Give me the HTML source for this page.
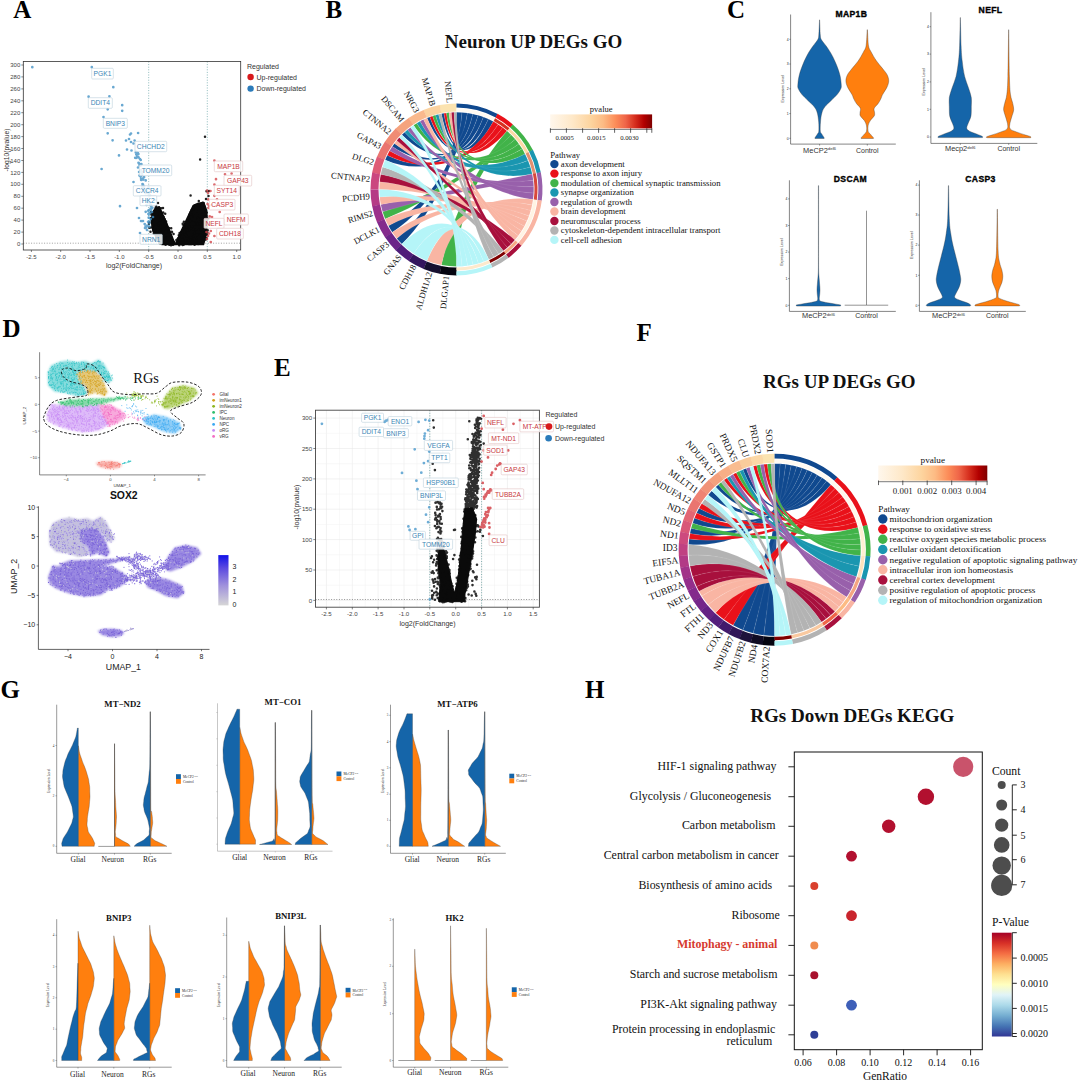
<!DOCTYPE html>
<html><head><meta charset="utf-8"><title>figure</title>
<style>
html,body{margin:0;padding:0;background:#fff;}
body{width:1080px;height:1082px;overflow:hidden;font-family:"Liberation Sans",sans-serif;}
svg{display:block}
.s{font-family:"Liberation Sans",sans-serif}
.r{font-family:"Liberation Serif",serif}
</style></head><body>
<svg width="1080" height="1082" viewBox="0 0 1080 1082">
<rect width="1080" height="1082" fill="#fff"/>
<line x1="148.7" y1="61.5" x2="148.7" y2="250" stroke="#5f9ea0" stroke-width="0.7" stroke-dasharray="1 1.6"/>
<line x1="207.3" y1="61.5" x2="207.3" y2="250" stroke="#5f9ea0" stroke-width="0.7" stroke-dasharray="1 1.6"/>
<line x1="23.3" y1="243.2" x2="240.7" y2="243.2" stroke="#777" stroke-width="0.7" stroke-dasharray="1 1.6"/>
<polygon points="175.1,244.5 170.4,232.3 165.1,219.6 159.3,206.8 155.9,207.5 152.5,212.6 151.3,220.7 153,231.3 158.1,240.2 161.9,244.5" fill="#0a0a0a" stroke="#0a0a0a" stroke-width="1.5" stroke-linejoin="round"/>
<polygon points="175.5,244.5 181,231.3 187,218.5 193.3,205.4 198.4,203.2 203.5,202.4 206.5,210 207.4,220.7 205.9,235.5 203.5,244.5" fill="#0a0a0a" stroke="#0a0a0a" stroke-width="1.5" stroke-linejoin="round"/>
<path d="M158.5 211.9h0M166.1 221.4h0M152.9 223.5h0M162.3 238.9h0M164.5 241.6h0M153.4 214.6h0M154.4 227.3h0M151.8 212.8h0M157.2 229.3h0M170.3 235.6h0M163.6 238.2h0M162.5 237.1h0M166 228.2h0M168.5 242.8h0M167.3 242.8h0M162.5 232.3h0M158.3 212.4h0M151.3 218.6h0M149.4 222.5h0M170.4 241.3h0M160.9 239.8h0M155.7 217.8h0M162.8 227.3h0M163.2 229.5h0M170.6 238.1h0M154.4 231h0M155.9 213.5h0M157.5 221.1h0M156.6 220.7h0M169.3 244.7h0M159.9 215.8h0M165.8 241.4h0M159.1 223.5h0M163.3 237.3h0M172.7 241.1h0M171.1 237h0M161.2 208.2h0M159.4 232.3h0M175.3 243.5h0M156.9 216.6h0M167.3 238.9h0M169.2 238.4h0M161.1 236.6h0M160.6 241.3h0M157.1 210.6h0M159.8 227.7h0M160.2 243.5h0M157.4 220.4h0M160.3 225.7h0M156.1 222h0M158.9 241.3h0M165.2 213.8h0M155 222.2h0M155.9 225.2h0M153.8 229.5h0M166.4 234.4h0M162.9 225.6h0M157.5 227.5h0M169.3 239.3h0M165.1 241.5h0M155.4 224.1h0M171.6 243.1h0M173.2 244.8h0M164.3 224.9h0M153.4 222.9h0M155.8 218.5h0M166.1 223.6h0M171.2 228.3h0M171.2 244.3h0M154 213.7h0M165.4 233.5h0M169.6 238.9h0M157.9 218.2h0M156.2 211.5h0M155.1 213.3h0M158.8 216.7h0M159.5 207.9h0M156.6 224.3h0M161.3 239.7h0M165.6 244.8h0M166.6 231.8h0M160.5 214.8h0M157.4 218h0M154.6 228.5h0M160.5 220.3h0M163.2 227.9h0M153.8 222h0M156.5 214.4h0M168.3 227.7h0M161.6 219h0M172 232h0M170.2 239.2h0M164.5 234.9h0M164 237.7h0M157.9 209.4h0M162.5 228.4h0M167.9 234.9h0M152.9 215.5h0M167 243.6h0M162.9 229.9h0M154.7 214.8h0M151.3 214.4h0M162.6 224.5h0M169.3 243.7h0M157.7 230.5h0M163.1 219.6h0M162 238.5h0M162.7 221.6h0M159.7 223.5h0M156 216.8h0M169.4 234.3h0M169 231.7h0M161.6 222.8h0M165.1 222.7h0M171.8 244.7h0M155.4 211h0M153.3 214.9h0M159.9 227.8h0M153.7 217.1h0M164.1 229.5h0M156 217.4h0M162.3 238.4h0M151 212.2h0M164.3 236.3h0M152.4 214.1h0M162.7 229.7h0M161.1 223.5h0M159.7 215.4h0M155.7 207.7h0M159.1 212.7h0M155.6 209.8h0M168.9 234.6h0M155.2 240h0M154.2 218.5h0M155.9 226.7h0M155.9 219.3h0M170.3 243.7h0M160.2 219.4h0M158.9 219.8h0M160.6 235.9h0M149.4 227.7h0M156.2 220.3h0M161.1 236.8h0M168.2 241.9h0M156.9 235.2h0M161.4 223.4h0M158.4 217.2h0M171.8 231.7h0M159 219.7h0M156 235.9h0M172.2 244.8h0M153 223.6h0M154.7 220.6h0M168.6 237.9h0M164.7 219.6h0M159.4 219.3h0M164.8 234.1h0M153.1 218.7h0M158.3 235.8h0M165.8 232h0M154.5 217.1h0M151 218.1h0M159.4 212.2h0M160.1 226.9h0M153.8 233.8h0M157.5 229.7h0M171 245.3h0M158 239.9h0M168.8 242.5h0M161 227.1h0M165.4 243.1h0M170.7 244.2h0M173.1 243.6h0M161.5 237.6h0M154.6 221.7h0M153.5 212.1h0M164.4 226.4h0M158.7 230h0M164.5 223.7h0M163.2 212.4h0M161.3 213.8h0M156 224.2h0M168.1 236.1h0M164.2 220.7h0M171.3 240.8h0M164 242.3h0M171.7 242.6h0M163.6 242.9h0M164.5 219.1h0M169.1 243.5h0M152.8 225.4h0M169.8 243.7h0M158.7 236h0M164 242.4h0M161.9 222.8h0M154.2 215.1h0M154.2 222.8h0M169.1 228.1h0M159.3 214h0M163.6 217h0M163.4 218.4h0M151.1 227.6h0M153.3 229.6h0M162.4 219.3h0M173.6 233.9h0M156.7 211.3h0M158 231.6h0M165 221h0M158.9 230.7h0M157.3 211.1h0M163.6 228.3h0M161.2 234.9h0M160.2 233.4h0M160 232.2h0M160 212.3h0M166.7 227.7h0M150.5 231.7h0M174.3 241.9h0M174 243.2h0M169.1 234.7h0M160.3 223h0M156.8 235h0M149 223.7h0M158.2 233h0M171.6 243.7h0M163.8 238.9h0M159.2 242.7h0M157.3 212.8h0M156.8 232.4h0M166.6 235.2h0M204.2 205.7h0M201.3 226.2h0M192.5 231.4h0M178.8 235.2h0M201.6 228.3h0M204.3 213.9h0M198.5 238.8h0M191.5 210.2h0M180.2 244h0M199.8 223.3h0M187.4 233.6h0M197.3 223.9h0M190.1 232.5h0M192.6 234.6h0M199 236.5h0M201.3 229.3h0M187.1 230h0M199.4 231.3h0M187.6 220.2h0M198.1 244.1h0M195.1 219.1h0M182.8 234.4h0M190 232.4h0M198 226.8h0M179.6 233.2h0M179 244.3h0M188 233h0M184.8 232.7h0M181.4 236.9h0M180.6 232.5h0M191.2 230.9h0M188.2 226.1h0M189.5 214.5h0M203 216.1h0M182.7 223.7h0M199.9 216h0M206.7 238.2h0M197.2 213.5h0M182.3 236h0M206.3 239.2h0M192.9 231.7h0M201.6 240.5h0M188.7 235.1h0M193.3 214.6h0M187.5 222.4h0M188.5 222.9h0M188.2 219.8h0M198.4 229.6h0M194.6 244.7h0M192.2 222.5h0M196.4 231.9h0M183.9 221.8h0M189.7 224.3h0M200.3 219.3h0M189.7 240.6h0M182.8 224.5h0M205.3 225.8h0M203 225.2h0M202.5 226.3h0M197.1 226.3h0M196.8 220.8h0M199.2 239.3h0M200.3 234.9h0M198.3 242.5h0M203.1 225.6h0M196.5 241.6h0M196.2 211.6h0M182.6 245.1h0M198.3 211.4h0M198.1 237.6h0M191.2 233.3h0M183.5 242.7h0M200.4 208.6h0M180.1 238.7h0M184.5 227.7h0M178.3 238h0M193 222.2h0M204.2 234.8h0M176.4 239.9h0M189.6 227.4h0M191 217.1h0M184.2 228.8h0M202.7 214.3h0M190.6 223.4h0M200 238.2h0M200.9 232.5h0M194.1 239h0M202.9 210.4h0M184.2 231.9h0M196.5 210.2h0M201.2 224.7h0M179.6 233.8h0M188.7 224.6h0M199.1 207.9h0M178 242.4h0M193.9 211.4h0M207.7 230.2h0M188.8 240.2h0M202.9 204h0M179.2 245.2h0M195 241h0M204.6 239.9h0M197.2 227.8h0M198.8 240.5h0M195.7 235.3h0M202.6 211.6h0M185.2 238.7h0M180 239.2h0M190.9 214.7h0M195.6 209h0M200.6 228.7h0M203.3 218.4h0M189.6 243.9h0M195.2 211.5h0M191.5 244h0M203.8 203.2h0M201.3 216.8h0M202.8 226.4h0M203.6 211.1h0M180.9 233.6h0M194.7 224.5h0M196 229.8h0M198.7 218.9h0M203.4 213.3h0M205.5 221.4h0M180.6 238.2h0M189.6 227.5h0M191.9 226.2h0M200.2 241.5h0M191.2 235.5h0M203.6 223h0M206.7 212.6h0M184.3 236.9h0M200.3 210.9h0M193.6 223.5h0M204.1 232.8h0M191 224.4h0M195.9 240.6h0M201.4 205.3h0M189.1 218.1h0M188.4 240.3h0M190.8 239.7h0M203.6 238.8h0M194.9 217.6h0M190.3 223.8h0M206.8 225.3h0M202.7 202.7h0M192.9 212.7h0M193.3 212.7h0M204.9 217.1h0M205.7 226.1h0M193.2 209.3h0M199.7 226.9h0M179.6 232.9h0M194.5 223.4h0M189.5 227.2h0M200.9 211.6h0M183.6 244.7h0M205 221.6h0M190.6 234.2h0M207 234.9h0M183.9 228.3h0M201.4 221h0M200.4 219.4h0M204.8 207.6h0M195 227.1h0M194.5 216.2h0M192.8 219h0M196.7 216.3h0M198.5 238.1h0M195.5 205.3h0M203.6 237.3h0M189.7 240.7h0M196.4 221.7h0M190.4 244.1h0M195.7 220.8h0M185.6 240.2h0M184.7 224.2h0M203.7 223.8h0M193.2 238.2h0M206.5 226.2h0M204.7 221.4h0M192.3 224.8h0M191.9 232.6h0M187.6 238.3h0M201.7 225.9h0M191.1 228.4h0M190.7 243.5h0M200.6 207.6h0M189.5 234.8h0M199.7 214.2h0M177.1 239.5h0M193.6 220h0M191.6 243.7h0M186.2 238.7h0M190 242.9h0M197 215.3h0M191 236.9h0M205.6 214.3h0M191.9 219h0M178.6 238.3h0M198.3 219.2h0M198.7 209h0M199.3 211.5h0M188.7 244.1h0M190.6 212.2h0M200.1 211.9h0M195.6 210.6h0M191.4 228.5h0M186.2 229.4h0M179.9 240.7h0M186.8 224.1h0M207.3 232.4h0M194.2 218.6h0M198.8 211.4h0M198.7 212.8h0M199.4 232.5h0M197.2 207.8h0M195.7 214.3h0M202 235.6h0M204.1 228.4h0M182.2 240.1h0M197.6 215.4h0M208.3 219h0M197.6 235.8h0M190 223.5h0M198.8 200.9h0M186.5 224.9h0M194.5 213.5h0M198.1 232h0M205 136.7h0M200.1 159.4h0M190.6 195.6h0M206.5 191.3h0M209 191h0M162 216h0M166 224h0M202 205h0M196 208h0M158 203h0M156 206h0M208.5 196h0M206 199h0M163 208h0M160 211h0" stroke="#0a0a0a" stroke-width="2.5" stroke-linecap="round" fill="none" opacity="0.9"/>
<path d="M32.3 67.2h0M91.8 67.2h0M113.3 87.2h0M88.6 96.7h0M109.4 96.3h0M122.2 105.2h0M122.2 110.8h0M107.7 109.3h0M103.5 117.1h0M107.7 133.3h0M112.6 140.3h0M119 155.4h0M101.6 169h0M120 206.2h0M138.1 133h0M131 133.5h0M130 134.5h0M129 139h0M126 140.5h0M131 142h0M133.5 143.5h0M134.6 140.5h0M127 149.5h0M131.5 150.5h0M136.3 157.8h0M135.8 152.6h0M135.2 157.8h0M136.1 151.6h0M137.8 152.9h0M136.7 154.3h0M138.4 154.1h0M136.7 152h0M136.3 154.4h0M139 163.4h0M140.7 160h0M137.2 156.6h0M140.6 165.6h0M139.6 165.2h0M140 159h0M141.4 164.2h0M138.5 162.8h0M138.5 157.4h0M141.3 172.3h0M142.1 174.4h0M142.5 172.1h0M141.7 173.2h0M139.1 172h0M141.1 170h0M138 167.5h0M140.3 171.4h0M139.5 175.6h0M141.1 178.8h0M141.3 175.7h0M142.8 178.5h0M140.6 176.6h0M145.7 180.4h0M143.2 179.6h0M140.9 176.2h0M141.2 179.9h0M144.1 177.1h0M143 184.7h0M144.1 186.8h0M142.5 184.1h0M148.6 187.2h0M148.1 188.3h0M147.7 188.5h0M144.2 188.1h0M143.6 188.9h0M142.1 186.7h0M147 191.3h0M148.9 194.2h0M145.3 191.6h0M145.6 193.2h0M147.7 192.9h0M149.5 195.9h0M148.1 192.3h0M144.5 191.4h0M145.7 190.7h0M148 202.3h0M149.9 202.4h0M146.5 205h0M152.4 207.8h0M151.1 206.2h0M150.3 204.9h0M149.1 210.1h0M150.1 212.8h0M151.1 209.8h0M148.2 210.7h0M150.7 208.6h0M145.7 211.8h0M149.4 223.1h0M148.9 214.5h0M149.3 221.6h0M150.7 219.1h0M148.4 213.9h0M148.7 217.7h0M145.6 226.5h0M144.7 224.1h0M147.1 225.7h0M148.1 221.8h0M146.3 227.5h0M149.3 226.7h0M133.5 182h0M137 208h0M139 218h0M141 221h0M143 221h0M145 228h0M147 230h0M140 233h0M152 212h0M151 205h0M153 217h0M150 195h0M155 200h0" stroke="#3f8fc4" stroke-width="2.7" stroke-linecap="round" fill="none" opacity="0.78"/>
<path d="M214.4 160.5h0M225 174.3h0M231.6 173.5h0M216 179.2h0M214.4 184.5h0M214.4 195.8h0M217 199.4h0M208.2 199.4h0M219.7 212h0M207.6 204h0M209 206h0M211.5 205h0M208.5 208h0M209.7 216.4h0M212 217h0M206.5 232h0M208 236h0M210.8 242h0M214.4 236h0M210.8 231h0M207 239h0M209 233.5h0M207 190.5h0M208 193h0M210.5 191h0" stroke="#d4494e" stroke-width="2.7" stroke-linecap="round" fill="none" opacity="0.8"/>
<rect x="23.3" y="61.5" width="217.4" height="188.5" fill="none" stroke="#333" stroke-width="0.8"/>
<line x1="21.3" y1="244" x2="23.3" y2="244" stroke="#333" stroke-width="0.6"/>
<text x="20.3" y="246.1" class="s" font-size="6" fill="#444" text-anchor="end" >0</text>
<line x1="21.3" y1="232.1" x2="23.3" y2="232.1" stroke="#333" stroke-width="0.6"/>
<text x="20.3" y="234.2" class="s" font-size="6" fill="#444" text-anchor="end" >20</text>
<line x1="21.3" y1="220.1" x2="23.3" y2="220.1" stroke="#333" stroke-width="0.6"/>
<text x="20.3" y="222.2" class="s" font-size="6" fill="#444" text-anchor="end" >40</text>
<line x1="21.3" y1="208.2" x2="23.3" y2="208.2" stroke="#333" stroke-width="0.6"/>
<text x="20.3" y="210.3" class="s" font-size="6" fill="#444" text-anchor="end" >60</text>
<line x1="21.3" y1="196.3" x2="23.3" y2="196.3" stroke="#333" stroke-width="0.6"/>
<text x="20.3" y="198.4" class="s" font-size="6" fill="#444" text-anchor="end" >80</text>
<line x1="21.3" y1="184.3" x2="23.3" y2="184.3" stroke="#333" stroke-width="0.6"/>
<text x="20.3" y="186.4" class="s" font-size="6" fill="#444" text-anchor="end" >100</text>
<line x1="21.3" y1="172.4" x2="23.3" y2="172.4" stroke="#333" stroke-width="0.6"/>
<text x="20.3" y="174.5" class="s" font-size="6" fill="#444" text-anchor="end" >120</text>
<line x1="21.3" y1="160.5" x2="23.3" y2="160.5" stroke="#333" stroke-width="0.6"/>
<text x="20.3" y="162.6" class="s" font-size="6" fill="#444" text-anchor="end" >140</text>
<line x1="21.3" y1="148.5" x2="23.3" y2="148.5" stroke="#333" stroke-width="0.6"/>
<text x="20.3" y="150.6" class="s" font-size="6" fill="#444" text-anchor="end" >160</text>
<line x1="21.3" y1="136.6" x2="23.3" y2="136.6" stroke="#333" stroke-width="0.6"/>
<text x="20.3" y="138.7" class="s" font-size="6" fill="#444" text-anchor="end" >180</text>
<line x1="21.3" y1="124.7" x2="23.3" y2="124.7" stroke="#333" stroke-width="0.6"/>
<text x="20.3" y="126.8" class="s" font-size="6" fill="#444" text-anchor="end" >200</text>
<line x1="21.3" y1="112.7" x2="23.3" y2="112.7" stroke="#333" stroke-width="0.6"/>
<text x="20.3" y="114.8" class="s" font-size="6" fill="#444" text-anchor="end" >220</text>
<line x1="21.3" y1="100.8" x2="23.3" y2="100.8" stroke="#333" stroke-width="0.6"/>
<text x="20.3" y="102.9" class="s" font-size="6" fill="#444" text-anchor="end" >240</text>
<line x1="21.3" y1="88.9" x2="23.3" y2="88.9" stroke="#333" stroke-width="0.6"/>
<text x="20.3" y="91" class="s" font-size="6" fill="#444" text-anchor="end" >260</text>
<line x1="21.3" y1="76.9" x2="23.3" y2="76.9" stroke="#333" stroke-width="0.6"/>
<text x="20.3" y="79" class="s" font-size="6" fill="#444" text-anchor="end" >280</text>
<line x1="21.3" y1="65" x2="23.3" y2="65" stroke="#333" stroke-width="0.6"/>
<text x="20.3" y="67.1" class="s" font-size="6" fill="#444" text-anchor="end" >300</text>
<line x1="31.4" y1="250" x2="31.4" y2="252" stroke="#333" stroke-width="0.6"/>
<text x="31.4" y="258.5" class="s" font-size="6" fill="#444" text-anchor="middle" >-2.5</text>
<line x1="60.7" y1="250" x2="60.7" y2="252" stroke="#333" stroke-width="0.6"/>
<text x="60.7" y="258.5" class="s" font-size="6" fill="#444" text-anchor="middle" >-2.0</text>
<line x1="90" y1="250" x2="90" y2="252" stroke="#333" stroke-width="0.6"/>
<text x="90" y="258.5" class="s" font-size="6" fill="#444" text-anchor="middle" >-1.5</text>
<line x1="119.3" y1="250" x2="119.3" y2="252" stroke="#333" stroke-width="0.6"/>
<text x="119.3" y="258.5" class="s" font-size="6" fill="#444" text-anchor="middle" >-1.0</text>
<line x1="148.7" y1="250" x2="148.7" y2="252" stroke="#333" stroke-width="0.6"/>
<text x="148.7" y="258.5" class="s" font-size="6" fill="#444" text-anchor="middle" >-0.5</text>
<line x1="178" y1="250" x2="178" y2="252" stroke="#333" stroke-width="0.6"/>
<text x="178" y="258.5" class="s" font-size="6" fill="#444" text-anchor="middle" >0.0</text>
<line x1="207.3" y1="250" x2="207.3" y2="252" stroke="#333" stroke-width="0.6"/>
<text x="207.3" y="258.5" class="s" font-size="6" fill="#444" text-anchor="middle" >0.5</text>
<line x1="236.7" y1="250" x2="236.7" y2="252" stroke="#333" stroke-width="0.6"/>
<text x="236.7" y="258.5" class="s" font-size="6" fill="#444" text-anchor="middle" >1.0</text>
<text x="134" y="268" class="s" font-size="7" fill="#333" text-anchor="middle" >log2(FoldChange)</text>
<text transform="translate(8.6,150) rotate(-90)" class="s" font-size="6.7" fill="#333" text-anchor="middle">-log10(pvalue)</text>
<text x="247" y="68.5" class="s" font-size="7" fill="#333" >Regulated</text>
<circle cx="250.6" cy="77" r="3.2" fill="#d7191c"/>
<text x="256.5" y="79.5" class="s" font-size="7" fill="#333" >Up-regulated</text>
<circle cx="250.6" cy="88.6" r="3.2" fill="#2b7bba"/>
<text x="256.5" y="91.2" class="s" font-size="7" fill="#333" >Down-regulated</text>
<rect x="91.7" y="68.3" width="21.6" height="10.7" rx="1" fill="#fff" fill-opacity="0.85" stroke="#bcd0dc" stroke-width="0.6"/>
<text x="102.5" y="76.1" class="s" font-size="6.7" fill="#3b86b5" text-anchor="middle" >PGK1</text>
<rect x="88.3" y="97.7" width="24" height="10.6" rx="1" fill="#fff" fill-opacity="0.85" stroke="#bcd0dc" stroke-width="0.6"/>
<text x="100.3" y="105.4" class="s" font-size="6.7" fill="#3b86b5" text-anchor="middle" >DDIT4</text>
<rect x="103.3" y="118.3" width="24" height="10" rx="1" fill="#fff" fill-opacity="0.85" stroke="#bcd0dc" stroke-width="0.6"/>
<text x="115.3" y="125.7" class="s" font-size="6.7" fill="#3b86b5" text-anchor="middle" >BNIP3</text>
<rect x="135" y="141.3" width="31.7" height="10.4" rx="1" fill="#fff" fill-opacity="0.85" stroke="#bcd0dc" stroke-width="0.6"/>
<text x="150.8" y="148.9" class="s" font-size="6.7" fill="#3b86b5" text-anchor="middle" >CHCHD2</text>
<rect x="139.3" y="165" width="32.4" height="10.7" rx="1" fill="#fff" fill-opacity="0.85" stroke="#bcd0dc" stroke-width="0.6"/>
<text x="155.5" y="172.8" class="s" font-size="6.7" fill="#3b86b5" text-anchor="middle" >TOMM20</text>
<rect x="133.3" y="185.7" width="27.7" height="10.3" rx="1" fill="#fff" fill-opacity="0.85" stroke="#bcd0dc" stroke-width="0.6"/>
<text x="147.2" y="193.3" class="s" font-size="6.7" fill="#3b86b5" text-anchor="middle" >CXCR4</text>
<rect x="140" y="195.7" width="16.7" height="10" rx="1" fill="#fff" fill-opacity="0.85" stroke="#bcd0dc" stroke-width="0.6"/>
<text x="148.3" y="203.1" class="s" font-size="6.7" fill="#3b86b5" text-anchor="middle" >HK2</text>
<rect x="140" y="234.3" width="22.3" height="10" rx="1" fill="#fff" fill-opacity="0.85" stroke="#bcd0dc" stroke-width="0.6"/>
<text x="151.2" y="241.7" class="s" font-size="6.7" fill="#3b86b5" text-anchor="middle" >NRN1</text>
<rect x="214.3" y="161" width="28.4" height="10.7" rx="1" fill="#fff" fill-opacity="0.85" stroke="#e3c3c3" stroke-width="0.6"/>
<text x="228.5" y="168.8" class="s" font-size="6.7" fill="#c8373e" text-anchor="middle" >MAP1B</text>
<rect x="224" y="175.3" width="27.7" height="10.7" rx="1" fill="#fff" fill-opacity="0.85" stroke="#e3c3c3" stroke-width="0.6"/>
<text x="237.8" y="183.1" class="s" font-size="6.7" fill="#c8373e" text-anchor="middle" >GAP43</text>
<rect x="214.3" y="185.3" width="25" height="10.4" rx="1" fill="#fff" fill-opacity="0.85" stroke="#e3c3c3" stroke-width="0.6"/>
<text x="226.8" y="192.9" class="s" font-size="6.7" fill="#c8373e" text-anchor="middle" >SYT14</text>
<rect x="209.3" y="199.3" width="25.7" height="10.7" rx="1" fill="#fff" fill-opacity="0.85" stroke="#e3c3c3" stroke-width="0.6"/>
<text x="222.2" y="207.1" class="s" font-size="6.7" fill="#c8373e" text-anchor="middle" >CASP3</text>
<rect x="224" y="214" width="24.3" height="11" rx="1" fill="#fff" fill-opacity="0.85" stroke="#e3c3c3" stroke-width="0.6"/>
<text x="236.2" y="221.9" class="s" font-size="6.7" fill="#c8373e" text-anchor="middle" >NEFM</text>
<rect x="204" y="218.3" width="20" height="10" rx="1" fill="#fff" fill-opacity="0.85" stroke="#e3c3c3" stroke-width="0.6"/>
<text x="214" y="225.7" class="s" font-size="6.7" fill="#c8373e" text-anchor="middle" >NEFL</text>
<rect x="216.7" y="228.3" width="26.6" height="10.7" rx="1" fill="#fff" fill-opacity="0.85" stroke="#e3c3c3" stroke-width="0.6"/>
<text x="230" y="236.1" class="s" font-size="6.7" fill="#c8373e" text-anchor="middle" >CDH18</text>
<text x="533.5" y="48" class="r" font-size="19" fill="#111" text-anchor="middle" font-weight="bold" >Neuron UP DEGs GO</text>
<path d="M456.5 112.2A77.2 77.2 0 0 1 462 112.4C458.7 158.6 434.7 211.2 401.9 244A77.2 77.2 0 0 1 396.8 238.4C432.6 209 456.5 158.5 456.5 112.2Z" fill="#10498f" stroke="#fff" stroke-width="0.2" stroke-opacity="0.4"/>
<path d="M462 112.4A77.2 77.2 0 0 1 467.4 113C460.9 158.8 430.8 206.6 392.3 232.3A77.2 77.2 0 0 1 388.4 225.8C429.3 204 458.7 158.6 462 112.4Z" fill="#10498f" stroke="#fff" stroke-width="0.2" stroke-opacity="0.4"/>
<path d="M467.4 113A77.2 77.2 0 0 1 472.8 113.9C463 159.2 428 177.6 385.2 159.9A77.2 77.2 0 0 1 387.3 155.3C428.8 175.7 460.9 158.8 467.4 113Z" fill="#10498f" stroke="#fff" stroke-width="0.2" stroke-opacity="0.4"/>
<path d="M472.8 113.9A77.2 77.2 0 0 1 478.1 115.3C465.2 159.8 430.8 172.2 392.3 146.5A77.2 77.2 0 0 1 394.5 143.4C431.7 171 463 159.2 472.8 113.9Z" fill="#10498f" stroke="#fff" stroke-width="0.2" stroke-opacity="0.4"/>
<path d="M478.1 115.3A77.2 77.2 0 0 1 483.4 117C467.2 160.4 434.7 167.6 401.9 134.8A77.2 77.2 0 0 1 404.7 132.2C435.8 166.5 465.2 159.8 478.1 115.3Z" fill="#10498f" stroke="#fff" stroke-width="0.2" stroke-opacity="0.4"/>
<path d="M483.4 117A77.2 77.2 0 0 1 488.4 119.1C469.3 161.3 444.7 160.9 427 118.1A77.2 77.2 0 0 1 429.8 117C445.8 160.4 467.2 160.4 483.4 117Z" fill="#10498f" stroke="#fff" stroke-width="0.2" stroke-opacity="0.4"/>
<path d="M488.4 119.1A77.2 77.2 0 0 1 493.3 121.6C471.2 162.3 450.5 159.1 441.4 113.7A77.2 77.2 0 0 1 443.9 113.2C451.5 158.9 469.3 161.3 488.4 119.1Z" fill="#10498f" stroke="#fff" stroke-width="0.2" stroke-opacity="0.4"/>
<path d="M493.3 121.6A77.2 77.2 0 0 1 498.1 124.4C473.2 163.4 428.8 175.7 387.3 155.3A77.2 77.2 0 0 1 389.6 150.8C429.8 174 471.2 162.3 493.3 121.6Z" fill="#e9111a" stroke="#fff" stroke-width="0.2" stroke-opacity="0.4"/>
<path d="M498.1 124.4A77.2 77.2 0 0 1 502.7 127.6C475 164.7 445.8 160.4 429.8 117A77.2 77.2 0 0 1 432.6 116C447 160 473.2 163.4 498.1 124.4Z" fill="#e9111a" stroke="#fff" stroke-width="0.2" stroke-opacity="0.4"/>
<path d="M502.7 127.6A77.2 77.2 0 0 1 507 131C476.7 166.1 451.5 158.9 443.9 113.2A77.2 77.2 0 0 1 446.4 112.9C452.5 158.8 475 164.7 502.7 127.6Z" fill="#e9111a" stroke="#fff" stroke-width="0.2" stroke-opacity="0.4"/>
<path d="M507 131A77.2 77.2 0 0 1 511.3 135C478.4 167.7 456.5 220.3 456.5 266.6A77.2 77.2 0 0 1 441.4 265.1C450.5 219.7 476.7 166.1 507 131Z" fill="#41b349" stroke="#fff" stroke-width="0.2" stroke-opacity="0.4"/>
<path d="M511.3 135A77.2 77.2 0 0 1 515.3 139.3C480 169.4 428 201.2 385.2 218.9A77.2 77.2 0 0 1 382.6 211.8C426.9 198.4 478.4 167.7 511.3 135Z" fill="#41b349" stroke="#fff" stroke-width="0.2" stroke-opacity="0.4"/>
<path d="M515.3 139.3A77.2 77.2 0 0 1 518.9 143.9C481.5 171.2 439.3 163.7 413.6 125.2A77.2 77.2 0 0 1 416.8 123.2C440.6 162.9 480 169.4 515.3 139.3Z" fill="#41b349" stroke="#fff" stroke-width="0.2" stroke-opacity="0.4"/>
<path d="M518.9 143.9A77.2 77.2 0 0 1 522.2 148.8C482.8 173.2 447 160 432.6 116A77.2 77.2 0 0 1 435.5 115.1C448.1 159.7 481.5 171.2 518.9 143.9Z" fill="#41b349" stroke="#fff" stroke-width="0.2" stroke-opacity="0.4"/>
<path d="M522.2 148.8A77.2 77.2 0 0 1 525 153.9C483.9 175.2 452.5 158.8 446.4 112.9A77.2 77.2 0 0 1 448.9 112.6C453.5 158.7 482.8 173.2 522.2 148.8Z" fill="#41b349" stroke="#fff" stroke-width="0.2" stroke-opacity="0.4"/>
<path d="M525 153.9A77.2 77.2 0 0 1 528 160.4C485.1 177.8 435.8 166.5 404.7 132.2A77.2 77.2 0 0 1 407.5 129.7C436.9 165.5 483.9 175.2 525 153.9Z" fill="#1a96b0" stroke="#fff" stroke-width="0.2" stroke-opacity="0.4"/>
<path d="M528 160.4A77.2 77.2 0 0 1 530.4 167.1C486.1 180.5 440.6 162.9 416.8 123.2A77.2 77.2 0 0 1 420.1 121.3C441.9 162.2 485.1 177.8 528 160.4Z" fill="#1a96b0" stroke="#fff" stroke-width="0.2" stroke-opacity="0.4"/>
<path d="M530.4 167.1A77.2 77.2 0 0 1 532.2 174C486.8 183.2 448.1 159.7 435.5 115.1A77.2 77.2 0 0 1 438.5 114.3C449.3 159.4 486.1 180.5 530.4 167.1Z" fill="#1a96b0" stroke="#fff" stroke-width="0.2" stroke-opacity="0.4"/>
<path d="M532.2 174A77.2 77.2 0 0 1 533.2 180.3C487.2 185.8 426.9 198.4 382.6 211.8A77.2 77.2 0 0 1 380.8 204.5C426.2 195.4 486.8 183.2 532.2 174Z" fill="#9860ab" stroke="#fff" stroke-width="0.2" stroke-opacity="0.4"/>
<path d="M533.2 180.3A77.2 77.2 0 0 1 533.7 186.7C487.4 188.3 429.8 174 389.6 150.8A77.2 77.2 0 0 1 392.3 146.5C430.8 172.2 487.2 185.8 533.2 180.3Z" fill="#9860ab" stroke="#fff" stroke-width="0.2" stroke-opacity="0.4"/>
<path d="M533.7 186.7A77.2 77.2 0 0 1 533.6 193.1C487.3 190.9 436.9 165.5 407.5 129.7A77.2 77.2 0 0 1 410.5 127.4C438.1 164.6 487.4 188.3 533.7 186.7Z" fill="#9860ab" stroke="#fff" stroke-width="0.2" stroke-opacity="0.4"/>
<path d="M533.6 193.1A77.2 77.2 0 0 1 533 199.5C487.1 193.4 441.9 162.2 420.1 121.3A77.2 77.2 0 0 1 423.5 119.6C443.3 161.5 487.3 190.9 533.6 193.1Z" fill="#9860ab" stroke="#fff" stroke-width="0.2" stroke-opacity="0.4"/>
<path d="M533 199.5A77.2 77.2 0 0 1 532.1 205C486.7 195.7 450.5 219.7 441.4 265.1A77.2 77.2 0 0 1 427 260.7C444.7 217.9 487.1 193.4 533 199.5Z" fill="#f9b5a3" stroke="#fff" stroke-width="0.2" stroke-opacity="0.4"/>
<path d="M532.1 205A77.2 77.2 0 0 1 530.8 210.5C486.2 197.8 432.6 209 396.8 238.4A77.2 77.2 0 0 1 392.3 232.3C430.8 206.6 486.7 195.7 532.1 205Z" fill="#f9b5a3" stroke="#fff" stroke-width="0.2" stroke-opacity="0.4"/>
<path d="M530.8 210.5A77.2 77.2 0 0 1 529 215.9C485.5 200 429.3 204 388.4 225.8A77.2 77.2 0 0 1 385.2 218.9C428 201.2 486.2 197.8 530.8 210.5Z" fill="#f9b5a3" stroke="#fff" stroke-width="0.2" stroke-opacity="0.4"/>
<path d="M529 215.9A77.2 77.2 0 0 1 526.9 221.1C484.7 202.1 426.2 195.4 380.8 204.5A77.2 77.2 0 0 1 379.7 197C425.8 192.4 485.5 200 529 215.9Z" fill="#f9b5a3" stroke="#fff" stroke-width="0.2" stroke-opacity="0.4"/>
<path d="M526.9 221.1A77.2 77.2 0 0 1 524.4 226.2C483.7 204.1 425.6 189.4 379.3 189.4A77.2 77.2 0 0 1 379.7 181.8C425.8 186.4 484.7 202.1 526.9 221.1Z" fill="#f9b5a3" stroke="#fff" stroke-width="0.2" stroke-opacity="0.4"/>
<path d="M524.4 226.2A77.2 77.2 0 0 1 521.5 231C482.5 206 431.7 171 394.5 143.4A77.2 77.2 0 0 1 396.8 140.4C432.6 169.8 483.7 204.1 524.4 226.2Z" fill="#f9b5a3" stroke="#fff" stroke-width="0.2" stroke-opacity="0.4"/>
<path d="M521.5 231A77.2 77.2 0 0 1 518.3 235.7C481.2 207.9 443.3 161.5 423.5 119.6A77.2 77.2 0 0 1 427 118.1C444.7 160.9 482.5 206 521.5 231Z" fill="#f9b5a3" stroke="#fff" stroke-width="0.2" stroke-opacity="0.4"/>
<path d="M518.3 235.7A77.2 77.2 0 0 1 514.8 240C479.8 209.7 453.5 158.7 448.9 112.6A77.2 77.2 0 0 1 451.5 112.4C454.5 158.6 481.2 207.9 518.3 235.7Z" fill="#f9b5a3" stroke="#fff" stroke-width="0.2" stroke-opacity="0.4"/>
<path d="M514.8 240A77.2 77.2 0 0 1 511.2 243.9C478.4 211.2 425.8 186.4 379.7 181.8A77.2 77.2 0 0 1 380.8 174.3C426.2 183.4 479.8 209.7 514.8 240Z" fill="#a8103d" stroke="#fff" stroke-width="0.2" stroke-opacity="0.4"/>
<path d="M511.2 243.9A77.2 77.2 0 0 1 507.4 247.5C476.8 212.6 432.6 169.8 396.8 140.4A77.2 77.2 0 0 1 399.3 137.6C433.6 168.7 478.4 211.2 511.2 243.9Z" fill="#a8103d" stroke="#fff" stroke-width="0.2" stroke-opacity="0.4"/>
<path d="M507.4 247.5A77.2 77.2 0 0 1 503.3 250.8C475.2 214 454.5 158.6 451.5 112.4A77.2 77.2 0 0 1 454 112.2C455.5 158.5 476.8 212.6 507.4 247.5Z" fill="#a8103d" stroke="#fff" stroke-width="0.2" stroke-opacity="0.4"/>
<path d="M503.3 250.8A77.2 77.2 0 0 1 498.7 254.1C473.4 215.3 426.2 183.4 380.8 174.3A77.2 77.2 0 0 1 382.6 167C426.9 180.4 475.2 214 503.3 250.8Z" fill="#b3b3b3" stroke="#fff" stroke-width="0.2" stroke-opacity="0.4"/>
<path d="M498.7 254.1A77.2 77.2 0 0 1 493.8 257C471.4 216.4 449.3 159.4 438.5 114.3A77.2 77.2 0 0 1 441.4 113.7C450.5 159.1 473.4 215.3 498.7 254.1Z" fill="#b3b3b3" stroke="#fff" stroke-width="0.2" stroke-opacity="0.4"/>
<path d="M493.8 257A77.2 77.2 0 0 1 488.8 259.5C469.4 217.5 455.5 158.5 454 112.2A77.2 77.2 0 0 1 456.5 112.2C456.5 158.5 471.4 216.4 493.8 257Z" fill="#b3b3b3" stroke="#fff" stroke-width="0.2" stroke-opacity="0.4"/>
<path d="M488.8 259.5A77.2 77.2 0 0 1 483.6 261.7C467.4 218.3 444.7 217.9 427 260.7A77.2 77.2 0 0 1 413.6 253.6C439.3 215.1 469.4 217.5 488.8 259.5Z" fill="#b5f5f8" stroke="#fff" stroke-width="0.2" stroke-opacity="0.4"/>
<path d="M483.6 261.7A77.2 77.2 0 0 1 478.4 263.4C465.3 219 439.3 215.1 413.6 253.6A77.2 77.2 0 0 1 401.9 244C434.7 211.2 467.4 218.3 483.6 261.7Z" fill="#b5f5f8" stroke="#fff" stroke-width="0.2" stroke-opacity="0.4"/>
<path d="M478.4 263.4A77.2 77.2 0 0 1 473 264.8C463.1 219.6 425.8 192.4 379.7 197A77.2 77.2 0 0 1 379.3 189.4C425.6 189.4 465.3 219 478.4 263.4Z" fill="#b5f5f8" stroke="#fff" stroke-width="0.2" stroke-opacity="0.4"/>
<path d="M473 264.8A77.2 77.2 0 0 1 467.6 265.8C460.9 220 426.9 180.4 382.6 167A77.2 77.2 0 0 1 385.2 159.9C428 177.6 463.1 219.6 473 264.8Z" fill="#b5f5f8" stroke="#fff" stroke-width="0.2" stroke-opacity="0.4"/>
<path d="M467.6 265.8A77.2 77.2 0 0 1 462 266.4C458.7 220.2 433.6 168.7 399.3 137.6A77.2 77.2 0 0 1 401.9 134.8C434.7 167.6 460.9 220 467.6 265.8Z" fill="#b5f5f8" stroke="#fff" stroke-width="0.2" stroke-opacity="0.4"/>
<path d="M462 266.4A77.2 77.2 0 0 1 456.5 266.6C456.5 220.3 438.1 164.6 410.5 127.4A77.2 77.2 0 0 1 413.6 125.2C439.3 163.7 458.7 220.2 462 266.4Z" fill="#b5f5f8" stroke="#fff" stroke-width="0.2" stroke-opacity="0.4"/>
<path d="M439.5 105.1A86 86 0 0 1 456.5 103.4L456.5 111.4A78 78 0 0 0 441.1 112.9Z" fill="#fbe3b0"/>
<path d="M423.4 110A86 86 0 0 1 439.7 105.1L441.3 112.9A78 78 0 0 0 426.5 117.4Z" fill="#fbd2a0"/>
<path d="M408.5 118A86 86 0 0 1 423.6 109.9L426.7 117.3A78 78 0 0 0 413 124.7Z" fill="#f9b98d"/>
<path d="M395.5 128.7A86 86 0 0 1 408.7 117.9L413.2 124.5A78 78 0 0 0 401.2 134.4Z" fill="#f5a37e"/>
<path d="M384.9 141.8A86 86 0 0 1 395.7 128.6L401.3 134.2A78 78 0 0 0 391.5 146.2Z" fill="#f08c75"/>
<path d="M377 156.7A86 86 0 0 1 385 141.6L391.6 146.1A78 78 0 0 0 384.4 159.7Z" fill="#ea7570"/>
<path d="M372.1 172.8A86 86 0 0 1 377 156.5L384.4 159.6A78 78 0 0 0 380 174.4Z" fill="#de5c76"/>
<path d="M370.5 189.6A86 86 0 0 1 372.2 172.6L380 174.2A78 78 0 0 0 378.5 189.6Z" fill="#cb477f"/>
<path d="M372.2 206.4A86 86 0 0 1 370.5 189.4L378.5 189.4A78 78 0 0 0 380 204.8Z" fill="#b53b86"/>
<path d="M377.1 222.5A86 86 0 0 1 372.2 206.2L380 204.6A78 78 0 0 0 384.5 219.4Z" fill="#9c308a"/>
<path d="M385.1 237.4A86 86 0 0 1 377 222.3L384.4 219.2A78 78 0 0 0 391.8 232.9Z" fill="#842a8c"/>
<path d="M395.8 250.4A86 86 0 0 1 385 237.2L391.6 232.7A78 78 0 0 0 401.5 244.7Z" fill="#6b2488"/>
<path d="M408.9 261A86 86 0 0 1 395.7 250.2L401.3 244.6A78 78 0 0 0 413.3 254.4Z" fill="#501d7a"/>
<path d="M423.8 268.9A86 86 0 0 1 408.7 260.9L413.2 254.3A78 78 0 0 0 426.8 261.5Z" fill="#34165e"/>
<path d="M439.9 273.8A86 86 0 0 1 423.6 268.9L426.7 261.5A78 78 0 0 0 441.5 265.9Z" fill="#171030"/>
<path d="M456.7 275.4A86 86 0 0 1 439.7 273.7L441.3 265.9A78 78 0 0 0 456.7 267.4Z" fill="#050510"/>
<path d="M456.5 103.4A86 86 0 0 1 497.7 113.9L495.7 117.6A81.8 81.8 0 0 0 456.5 107.6Z" fill="#10498f"/>
<path d="M456.5 108.4A81 81 0 0 1 495.3 118.3L493.8 120.9A78 78 0 0 0 456.5 111.4Z" fill="#fffaf2"/>
<path d="M497.5 113.8A86 86 0 0 1 512.9 124.5L510.2 127.7A81.8 81.8 0 0 0 495.5 117.5Z" fill="#e9111a"/>
<path d="M495.1 118.2A81 81 0 0 1 509.6 128.3L507.7 130.5A78 78 0 0 0 493.7 120.9Z" fill="#d7301f"/>
<path d="M512.8 124.4A86 86 0 0 1 532.9 150L529.2 151.9A81.8 81.8 0 0 0 510.1 127.6Z" fill="#41b349"/>
<path d="M509.5 128.2A81 81 0 0 1 528.5 152.2L525.8 153.6A78 78 0 0 0 507.6 130.4Z" fill="#fdd9a6"/>
<path d="M532.9 149.8A86 86 0 0 1 540.8 172.4L536.7 173.2A81.8 81.8 0 0 0 529.1 151.8Z" fill="#1a96b0"/>
<path d="M528.4 152.1A81 81 0 0 1 535.9 173.4L533 174A78 78 0 0 0 525.7 153.5Z" fill="#e2906f"/>
<path d="M540.8 172.3A86 86 0 0 1 541.7 200.8L537.6 200.2A81.8 81.8 0 0 0 536.7 173.1Z" fill="#9860ab"/>
<path d="M535.9 173.3A81 81 0 0 1 536.8 200.1L533.8 199.7A78 78 0 0 0 532.9 173.8Z" fill="#d8473c"/>
<path d="M541.8 200.6A86 86 0 0 1 521.3 245.9L518.1 243.2A81.8 81.8 0 0 0 537.6 200.1Z" fill="#f9b5a3"/>
<path d="M536.8 200A81 81 0 0 1 517.5 242.6L515.3 240.7A78 78 0 0 0 533.8 199.6Z" fill="#fff3e3"/>
<path d="M521.4 245.8A86 86 0 0 1 508.5 257.9L506 254.6A81.8 81.8 0 0 0 518.2 243.1Z" fill="#a8103d"/>
<path d="M517.6 242.5A81 81 0 0 1 505.5 253.9L503.7 251.5A78 78 0 0 0 515.4 240.6Z" fill="#f6a985"/>
<path d="M508.6 257.8A86 86 0 0 1 492.3 267.6L490.6 263.8A81.8 81.8 0 0 0 506.1 254.5Z" fill="#b3b3b3"/>
<path d="M505.6 253.8A81 81 0 0 1 490.2 263L489 260.3A78 78 0 0 0 503.8 251.4Z" fill="#7f0000"/>
<path d="M492.4 267.5A86 86 0 0 1 456.3 275.4L456.4 271.2A81.8 81.8 0 0 0 490.7 263.7Z" fill="#b5f5f8"/>
<path d="M490.3 263A81 81 0 0 1 456.4 270.4L456.4 267.4A78 78 0 0 0 489.1 260.3Z" fill="#fde9cc"/>
<text transform="translate(448,102.8) rotate(84.4)" class="r" font-size="8.7" fill="#111" text-anchor="end" dy="0.13em">NEFL</text>
<text transform="translate(431.2,106.1) rotate(73.1)" class="r" font-size="8.7" fill="#111" text-anchor="end" dy="0.13em">MAP1B</text>
<text transform="translate(415.5,112.7) rotate(61.9)" class="r" font-size="8.7" fill="#111" text-anchor="end" dy="0.13em">NRG3</text>
<text transform="translate(401.3,122.1) rotate(50.6)" class="r" font-size="8.7" fill="#111" text-anchor="end" dy="0.13em">DSCAM</text>
<text transform="translate(389.2,134.2) rotate(39.4)" class="r" font-size="8.7" fill="#111" text-anchor="end" dy="0.13em">CTNNA2</text>
<text transform="translate(379.8,148.4) rotate(28.1)" class="r" font-size="8.7" fill="#111" text-anchor="end" dy="0.13em">GAP43</text>
<text transform="translate(373.2,164.1) rotate(16.9)" class="r" font-size="8.7" fill="#111" text-anchor="end" dy="0.13em">DLG2</text>
<text transform="translate(369.9,180.9) rotate(5.6)" class="r" font-size="8.7" fill="#111" text-anchor="end" dy="0.13em">CNTNAP2</text>
<text transform="translate(369.9,197.9) rotate(-5.6)" class="r" font-size="8.7" fill="#111" text-anchor="end" dy="0.13em">PCDH9</text>
<text transform="translate(373.2,214.7) rotate(-16.9)" class="r" font-size="8.7" fill="#111" text-anchor="end" dy="0.13em">RIMS2</text>
<text transform="translate(379.8,230.4) rotate(-28.1)" class="r" font-size="8.7" fill="#111" text-anchor="end" dy="0.13em">DCLK1</text>
<text transform="translate(389.2,244.6) rotate(-39.4)" class="r" font-size="8.7" fill="#111" text-anchor="end" dy="0.13em">CASP3</text>
<text transform="translate(401.3,256.7) rotate(-50.6)" class="r" font-size="8.7" fill="#111" text-anchor="end" dy="0.13em">GNAS</text>
<text transform="translate(415.5,266.1) rotate(-61.9)" class="r" font-size="8.7" fill="#111" text-anchor="end" dy="0.13em">CDH18</text>
<text transform="translate(431.2,272.7) rotate(-73.1)" class="r" font-size="8.7" fill="#111" text-anchor="end" dy="0.13em">ALDH1A2</text>
<text transform="translate(448,276) rotate(-84.4)" class="r" font-size="8.7" fill="#111" text-anchor="end" dy="0.13em">DLGAP1</text>
<text x="550.2" y="157.9" class="r" font-size="8.7" fill="#111" >Pathway</text>
<circle cx="554.4" cy="164.1" r="4.2" fill="#10498f"/>
<text x="560.8" y="166.7" class="r" font-size="8.7" fill="#111" >axon development</text>
<circle cx="554.4" cy="173.6" r="4.2" fill="#e9111a"/>
<text x="560.8" y="176.2" class="r" font-size="8.7" fill="#111" >response to axon injury</text>
<circle cx="554.4" cy="183.1" r="4.2" fill="#41b349"/>
<text x="560.8" y="185.7" class="r" font-size="8.7" fill="#111" >modulation of chemical synaptic transmission</text>
<circle cx="554.4" cy="192.5" r="4.2" fill="#1a96b0"/>
<text x="560.8" y="195.1" class="r" font-size="8.7" fill="#111" >synapse organization</text>
<circle cx="554.4" cy="202" r="4.2" fill="#9860ab"/>
<text x="560.8" y="204.6" class="r" font-size="8.7" fill="#111" >regulation of growth</text>
<circle cx="554.4" cy="211.5" r="4.2" fill="#f9b5a3"/>
<text x="560.8" y="214.1" class="r" font-size="8.7" fill="#111" >brain development</text>
<circle cx="554.4" cy="221" r="4.2" fill="#a8103d"/>
<text x="560.8" y="223.6" class="r" font-size="8.7" fill="#111" >neuromuscular process</text>
<circle cx="554.4" cy="230.5" r="4.2" fill="#b3b3b3"/>
<text x="560.8" y="233.1" class="r" font-size="8.7" fill="#111" >cytoskeleton-dependent intracellular transport</text>
<circle cx="554.4" cy="239.9" r="4.2" fill="#b5f5f8"/>
<text x="560.8" y="242.5" class="r" font-size="8.7" fill="#111" >cell-cell adhesion</text>
<defs><linearGradient id="gB" x1="0" x2="1" y1="0" y2="0"><stop offset="0%" stop-color="#fff7ec"/><stop offset="22%" stop-color="#fee8c8"/><stop offset="40%" stop-color="#fdd49e"/><stop offset="52%" stop-color="#fdbb84"/><stop offset="64%" stop-color="#fc8d59"/><stop offset="74%" stop-color="#ef6548"/><stop offset="83%" stop-color="#d7301f"/><stop offset="92%" stop-color="#b30000"/><stop offset="100%" stop-color="#7f0000"/></linearGradient></defs>
<rect x="550.2" y="114.4" width="101.9" height="14" fill="url(#gB)"/>
<text x="601.2" y="112.1" class="r" font-size="8.5" fill="#111" text-anchor="middle" >pvalue</text>
<line x1="550.2" y1="129.4" x2="652.1" y2="129.4" stroke="#222" stroke-width="0.6"/>
<line x1="550.4" y1="128.2" x2="550.4" y2="132.8" stroke="#222" stroke-width="0.7"/>
<line x1="566.4" y1="128.2" x2="566.4" y2="132.8" stroke="#222" stroke-width="0.7"/>
<line x1="582.6" y1="128.2" x2="582.6" y2="132.8" stroke="#222" stroke-width="0.7"/>
<line x1="598.6" y1="128.2" x2="598.6" y2="132.8" stroke="#222" stroke-width="0.7"/>
<line x1="614.6" y1="128.2" x2="614.6" y2="132.8" stroke="#222" stroke-width="0.7"/>
<line x1="630.6" y1="128.2" x2="630.6" y2="132.8" stroke="#222" stroke-width="0.7"/>
<line x1="646.8" y1="128.2" x2="646.8" y2="132.8" stroke="#222" stroke-width="0.7"/>
<line x1="651.8" y1="128.2" x2="651.8" y2="132.8" stroke="#222" stroke-width="0.7"/>
<text x="564.6" y="139.8" class="r" font-size="6.7" fill="#222" text-anchor="middle" >0.0005</text>
<text x="596.3" y="139.8" class="r" font-size="6.7" fill="#222" text-anchor="middle" >0.0015</text>
<text x="629.4" y="139.8" class="r" font-size="6.7" fill="#222" text-anchor="middle" >0.0030</text>
<path d="M867.4 29.7C867.6 32.4 867.9 42.1 868.5 45.8C869.1 49.4 869.8 49.3 871.1 51.9C872.4 54.4 874.5 58.2 876.5 61C878.4 63.8 880.8 66.3 882.6 68.6C884.3 70.9 886.1 72.7 887.1 74.7C888.1 76.8 888.7 78.8 888.7 80.8C888.7 82.9 888.1 84.6 887.1 86.9C886.1 89.2 883.6 92.5 882.6 94.6C881.5 96.6 881.5 97.6 880.7 99.1C880 100.7 879.1 102.2 878 103.7C876.9 105.2 874.7 106.8 874.2 108.3C873.6 109.8 874.6 111.6 874.6 112.9C874.6 114.1 874.9 114.6 874.2 115.9C873.5 117.2 871.3 119 870.4 120.5C869.4 122 868.6 123.3 868.2 125.1C867.8 126.8 867.7 129.6 868.1 131.2C868.4 132.7 869.5 133.1 870.4 134.2C871.2 135.3 872.9 137 873.4 137.7C873.9 138.4 873.4 138.4 873.4 138.5L861.2 138.5C861.2 138.4 860.7 138.4 861.2 137.7C861.7 137 863.4 135.3 864.3 134.2C865.1 133.1 866.2 132.7 866.5 131.2C866.9 129.6 866.8 126.8 866.4 125.1C866 123.3 865.2 122 864.3 120.5C863.3 119 861.1 117.2 860.4 115.9C859.7 114.6 860 114.1 860 112.9C860 111.6 861 109.8 860.4 108.3C859.9 106.8 857.7 105.2 856.6 103.7C855.5 102.2 854.6 100.7 853.9 99.1C853.1 97.6 853.1 96.6 852 94.6C851 92.5 848.5 89.2 847.5 86.9C846.5 84.6 845.9 82.9 845.9 80.8C845.9 78.8 846.5 76.8 847.5 74.7C848.5 72.7 850.3 70.9 852 68.6C853.8 66.3 856.2 63.8 858.2 61C860.1 58.2 862.2 54.4 863.5 51.9C864.8 49.3 865.5 49.4 866.1 45.8C866.7 42.1 867 32.4 867.2 29.7Z" fill="#ff7f0e" stroke="#333" stroke-width="0.35" stroke-linejoin="round"/>
<path d="M819.6 19.8C819.8 22.4 820 31.8 820.3 35.1C820.6 38.4 820.5 37.9 821.4 39.7C822.3 41.4 824.4 43.5 826 45.8C827.6 48 829.5 50.8 831 53.4C832.5 55.9 833.7 58.5 834.8 61C836 63.5 837 66.1 837.9 68.6C838.8 71.2 839.6 73.7 840.2 76.3C840.7 78.8 841.1 81.8 841.2 83.9C841.3 85.9 841.6 86.7 840.9 88.5C840.2 90.2 838.8 92.5 837.1 94.6C835.5 96.6 833 98.6 831 100.7C829 102.7 826.4 104.7 824.9 106.8C823.4 108.8 822.6 110.3 821.9 112.9C821.1 115.4 820.7 119 820.5 122C820.2 125.1 820.1 129.1 820.3 131.2C820.6 133.2 821.2 133.1 821.9 134.2C822.5 135.3 823.8 137 824.1 137.7C824.5 138.4 824.1 138.4 824.1 138.5L815 138.5C815 138.4 814.6 138.4 815 137.7C815.4 137 816.6 135.3 817.3 134.2C817.9 133.1 818.6 133.2 818.8 131.2C819 129.1 818.9 125.1 818.7 122C818.4 119 818 115.4 817.3 112.9C816.5 110.3 815.8 108.8 814.2 106.8C812.7 104.7 810.2 102.7 808.1 100.7C806.1 98.6 803.7 96.6 802 94.6C800.4 92.5 798.9 90.2 798.2 88.5C797.5 86.7 797.8 85.9 797.9 83.9C798 81.8 798.4 78.8 799 76.3C799.5 73.7 800.4 71.2 801.3 68.6C802.2 66.1 803.2 63.5 804.3 61C805.5 58.5 806.7 55.9 808.1 53.4C809.6 50.8 811.6 48 813.2 45.8C814.8 43.5 816.8 41.4 817.7 39.7C818.7 37.9 818.5 38.4 818.8 35.1C819.1 31.8 819.4 22.4 819.5 19.8Z" fill="#1565a9" stroke="#333" stroke-width="0.35" stroke-linejoin="round"/>
<path d="M790.6 14.5V144.1H895.8" fill="none" stroke="#333" stroke-width="0.6"/>
<line x1="789.3" y1="39.3" x2="790.6" y2="39.3" stroke="#333" stroke-width="0.5"/>
<text x="788.6" y="40.5" class="s" font-size="3.4" fill="#222" text-anchor="end" >4</text>
<line x1="789.3" y1="64" x2="790.6" y2="64" stroke="#333" stroke-width="0.5"/>
<text x="788.6" y="65.2" class="s" font-size="3.4" fill="#222" text-anchor="end" >3</text>
<line x1="789.3" y1="88.8" x2="790.6" y2="88.8" stroke="#333" stroke-width="0.5"/>
<text x="788.6" y="90" class="s" font-size="3.4" fill="#222" text-anchor="end" >2</text>
<line x1="789.3" y1="113.6" x2="790.6" y2="113.6" stroke="#333" stroke-width="0.5"/>
<text x="788.6" y="114.8" class="s" font-size="3.4" fill="#222" text-anchor="end" >1</text>
<line x1="789.3" y1="138.3" x2="790.6" y2="138.3" stroke="#333" stroke-width="0.5"/>
<text x="788.6" y="139.5" class="s" font-size="3.4" fill="#222" text-anchor="end" >0</text>
<line x1="819.6" y1="144.1" x2="819.6" y2="145.6" stroke="#333" stroke-width="0.5"/>
<line x1="867.3" y1="144.1" x2="867.3" y2="145.6" stroke="#333" stroke-width="0.5"/>
<text transform="translate(784.4,88.8) rotate(-90)" class="s" font-size="3.6" fill="#222" text-anchor="middle">Expression Level</text>
<text x="851.3" y="16.5" class="s" font-size="8.6" fill="#000" text-anchor="middle" font-weight="bold" letter-spacing="0.35" stroke="#000" stroke-width="0.35">MAP1B</text>
<text x="819.6" y="152.5" class="s" font-size="7.4" fill="#333" text-anchor="middle">MeCP2<tspan font-size="4.4" dy="-2.4">del6</tspan></text>
<text x="867.3" y="152.5" class="s" font-size="7" fill="#333" text-anchor="middle" >Control</text>
<path d="M1008.7 29.7C1008.9 37.5 1009.1 65.5 1009.4 76.3C1009.7 87.1 1009.9 90 1010.5 94.6C1011.1 99.1 1012.3 101.2 1012.8 103.7C1013.3 106.2 1013.8 107.8 1013.7 109.8C1013.6 111.8 1012.7 113.6 1012 115.9C1011.4 118.2 1010.2 121.4 1009.9 123.5C1009.6 125.7 1009.1 127.5 1010.2 128.9C1011.3 130.3 1013.8 130.9 1016.3 131.9C1018.8 132.9 1023 134.2 1025.4 135C1027.9 135.8 1030 136.3 1030.8 136.8C1031.6 137.3 1030.4 137.6 1030.3 137.7L987 137.7C986.9 137.6 985.7 137.3 986.6 136.8C987.4 136.3 989.5 135.8 991.9 135C994.3 134.2 998.5 132.9 1001 131.9C1003.6 130.9 1006.1 130.3 1007.1 128.9C1008.2 127.5 1007.8 125.7 1007.5 123.5C1007.1 121.4 1006 118.2 1005.3 115.9C1004.7 113.6 1003.8 111.8 1003.6 109.8C1003.5 107.8 1004 106.2 1004.6 103.7C1005.1 101.2 1006.3 99.1 1006.8 94.6C1007.4 90 1007.6 87.1 1007.9 76.3C1008.2 65.5 1008.5 37.5 1008.6 29.7Z" fill="#ff7f0e" stroke="#333" stroke-width="0.35" stroke-linejoin="round"/>
<path d="M960.4 17.5C960.5 22.2 960.8 38.5 961.1 45.8C961.4 53 961.6 55.9 962.2 61C962.7 66.1 963.5 71.7 964.6 76.3C965.7 80.8 967.6 84.9 968.7 88.5C969.8 92 970.9 94.6 971.3 97.6C971.7 100.7 971.4 103.7 971.3 106.8C971.3 109.8 971.4 113.4 971 115.9C970.6 118.4 969.4 120 968.7 122C968 124 966.6 126.6 966.7 128.1C966.9 129.6 967.7 130.1 969.5 131.2C971.2 132.2 974.9 133.3 977.1 134.2C979.3 135.1 981.6 135.9 982.4 136.5C983.3 137.1 982.4 137.4 982.4 137.6L938.2 137.6C938.2 137.4 937.3 137.1 938.2 136.5C939.1 135.9 941.4 135.1 943.6 134.2C945.7 133.3 949.4 132.2 951.2 131.2C952.9 130.1 953.8 129.6 953.9 128.1C954 126.6 952.7 124 951.9 122C951.2 120 950.1 118.4 949.7 115.9C949.2 113.4 949.4 109.8 949.3 106.8C949.3 103.7 948.9 100.7 949.3 97.6C949.8 94.6 950.8 92 951.9 88.5C953.1 84.9 955 80.8 956.1 76.3C957.2 71.7 957.9 66.1 958.5 61C959.1 55.9 959.3 53 959.6 45.8C959.9 38.5 960.1 22.2 960.3 17.5Z" fill="#1565a9" stroke="#333" stroke-width="0.35" stroke-linejoin="round"/>
<path d="M930.9 12.2V143.4H1037.3" fill="none" stroke="#333" stroke-width="0.6"/>
<line x1="929.6" y1="26.7" x2="930.9" y2="26.7" stroke="#333" stroke-width="0.5"/>
<text x="928.9" y="27.9" class="s" font-size="3.4" fill="#222" text-anchor="end" >4</text>
<line x1="929.6" y1="54.1" x2="930.9" y2="54.1" stroke="#333" stroke-width="0.5"/>
<text x="928.9" y="55.3" class="s" font-size="3.4" fill="#222" text-anchor="end" >3</text>
<line x1="929.6" y1="81.9" x2="930.9" y2="81.9" stroke="#333" stroke-width="0.5"/>
<text x="928.9" y="83.1" class="s" font-size="3.4" fill="#222" text-anchor="end" >2</text>
<line x1="929.6" y1="109.3" x2="930.9" y2="109.3" stroke="#333" stroke-width="0.5"/>
<text x="928.9" y="110.5" class="s" font-size="3.4" fill="#222" text-anchor="end" >1</text>
<line x1="929.6" y1="137" x2="930.9" y2="137" stroke="#333" stroke-width="0.5"/>
<text x="928.9" y="138.2" class="s" font-size="3.4" fill="#222" text-anchor="end" >0</text>
<line x1="960.3" y1="143.4" x2="960.3" y2="144.9" stroke="#333" stroke-width="0.5"/>
<line x1="1008.7" y1="143.4" x2="1008.7" y2="144.9" stroke="#333" stroke-width="0.5"/>
<text transform="translate(924.7,81.8) rotate(-90)" class="s" font-size="3.6" fill="#222" text-anchor="middle">Expression Level</text>
<text x="990.5" y="13.4" class="s" font-size="8.6" fill="#000" text-anchor="middle" font-weight="bold" letter-spacing="0.35" stroke="#000" stroke-width="0.35">NEFL</text>
<text x="960.3" y="151" class="s" font-size="7.4" fill="#333" text-anchor="middle">Mecp2<tspan font-size="4.4" dy="-2.4">del6</tspan></text>
<text x="1008.7" y="151" class="s" font-size="7" fill="#333" text-anchor="middle" >Control</text>
<path d="M818.6 185.6C818.6 197.4 818.6 242.1 818.6 256.5C818.6 270.9 818.6 268.2 818.7 271.8C818.8 275.3 819 275.8 819.1 277.9C819.3 279.9 819.5 281.9 819.6 284C819.8 286 820 288.3 820 290.1C820 291.8 819.8 293.1 819.7 294.6C819.6 296.2 819 298.1 819.3 299.2C819.6 300.4 819.1 300.7 821.5 301.5C824 302.3 830.6 303.2 833.7 303.8C836.9 304.4 839.5 304.6 840.6 305C841.7 305.4 840.2 305.9 840.2 306.1L796.8 306.1C796.8 305.9 795.3 305.4 796.4 305C797.5 304.6 800.1 304.4 803.2 303.8C806.4 303.2 813 302.3 815.4 301.5C817.9 300.7 817.4 300.4 817.7 299.2C818 298.1 817.4 296.2 817.3 294.6C817.2 293.1 817 291.8 817 290.1C817 288.3 817.2 286 817.4 284C817.5 281.9 817.7 279.9 817.9 277.9C818 275.8 818.2 275.3 818.3 271.8C818.4 268.2 818.4 270.9 818.4 256.5C818.4 242.1 818.4 197.4 818.4 185.6Z" fill="#1565a9" stroke="#333" stroke-width="0.35" stroke-linejoin="round"/>
<path d="M789.4 180.3V311.4H895.8" fill="none" stroke="#333" stroke-width="0.6"/>
<line x1="788.1" y1="198.9" x2="789.4" y2="198.9" stroke="#333" stroke-width="0.5"/>
<text x="787.4" y="200.1" class="s" font-size="3.4" fill="#222" text-anchor="end" >4</text>
<line x1="788.1" y1="225.5" x2="789.4" y2="225.5" stroke="#333" stroke-width="0.5"/>
<text x="787.4" y="226.7" class="s" font-size="3.4" fill="#222" text-anchor="end" >3</text>
<line x1="788.1" y1="252.1" x2="789.4" y2="252.1" stroke="#333" stroke-width="0.5"/>
<text x="787.4" y="253.3" class="s" font-size="3.4" fill="#222" text-anchor="end" >2</text>
<line x1="788.1" y1="278.6" x2="789.4" y2="278.6" stroke="#333" stroke-width="0.5"/>
<text x="787.4" y="279.8" class="s" font-size="3.4" fill="#222" text-anchor="end" >1</text>
<line x1="788.1" y1="305.3" x2="789.4" y2="305.3" stroke="#333" stroke-width="0.5"/>
<text x="787.4" y="306.5" class="s" font-size="3.4" fill="#222" text-anchor="end" >0</text>
<line x1="818.5" y1="311.4" x2="818.5" y2="312.9" stroke="#333" stroke-width="0.5"/>
<line x1="866.5" y1="311.4" x2="866.5" y2="312.9" stroke="#333" stroke-width="0.5"/>
<text transform="translate(783.2,252.1) rotate(-90)" class="s" font-size="3.6" fill="#222" text-anchor="middle">Expression Level</text>
<text x="850.4" y="182.1" class="s" font-size="8.6" fill="#000" text-anchor="middle" font-weight="bold" letter-spacing="0.35" stroke="#000" stroke-width="0.35">DSCAM</text>
<text x="818.5" y="318" class="s" font-size="7.4" fill="#333" text-anchor="middle">MeCP2<tspan font-size="4.4" dy="-2.4">del6</tspan></text>
<text x="866.5" y="318" class="s" font-size="7" fill="#333" text-anchor="middle" >Control</text>
<path d="M866.5 210.7V305M844.7 305.2H888.2" stroke="#3a3a3a" stroke-width="0.55" fill="none"/>
<path d="M997.4 209.2C997.5 216.1 997.7 241.5 998.1 250.4C998.4 259.3 999 259.3 999.6 262.6C1000.2 265.9 1001.3 267.9 1001.9 270.2C1002.4 272.5 1002.8 274.3 1002.8 276.3C1002.8 278.4 1002.5 280.1 1001.9 282.4C1001.2 284.7 999.5 287.8 998.8 290.1C998.2 292.3 997.9 294.8 998.1 296.2C998.2 297.6 997.9 297.6 999.6 298.4C1001.2 299.3 1004.8 300.5 1008 301.5C1011.2 302.5 1016.7 303.8 1018.7 304.5C1020.6 305.3 1019.3 305.7 1019.4 305.9L975.2 305.9C975.3 305.7 974 305.3 975.9 304.5C977.9 303.8 983.4 302.5 986.6 301.5C989.8 300.5 993.4 299.3 995 298.4C996.7 297.6 996.4 297.6 996.5 296.2C996.7 294.8 996.4 292.3 995.8 290.1C995.1 287.8 993.4 284.7 992.7 282.4C992.1 280.1 991.8 278.4 991.8 276.3C991.8 274.3 992.2 272.5 992.7 270.2C993.3 267.9 994.4 265.9 995 262.6C995.6 259.3 996.2 259.3 996.5 250.4C996.9 241.5 997.1 216.1 997.2 209.2Z" fill="#ff7f0e" stroke="#333" stroke-width="0.35" stroke-linejoin="round"/>
<path d="M948.6 185.6C948.7 191.1 948.9 210.4 949.3 218.4C949.6 226.4 950.1 229.1 950.8 233.6C951.4 238.2 952.2 242 953.1 245.8C953.9 249.6 954.9 252.7 955.8 256.5C956.8 260.3 958.1 265.4 958.9 268.7C959.6 272 960.1 274.3 960.4 276.3C960.7 278.4 960.9 279.1 960.7 280.9C960.5 282.7 960.1 284.7 959.2 287C958.3 289.3 956.1 292.9 955.4 294.6C954.6 296.4 954.3 296.8 954.9 297.7C955.5 298.6 957.1 299.1 959.2 300C961.3 300.9 965.7 302.2 967.6 303C969.5 303.9 970.2 304.5 970.6 305C971 305.5 970.2 305.9 970.2 306.1L926.8 306.1C926.8 305.9 926 305.5 926.4 305C926.8 304.5 927.5 303.9 929.4 303C931.3 302.2 935.7 300.9 937.8 300C939.9 299.1 941.5 298.6 942.1 297.7C942.7 296.8 942.3 296.4 941.6 294.6C940.9 292.9 938.7 289.3 937.8 287C936.9 284.7 936.5 282.7 936.3 280.9C936.1 279.1 936.3 278.4 936.6 276.3C936.9 274.3 937.4 272 938.1 268.7C938.9 265.4 940.2 260.3 941.2 256.5C942.1 252.7 943.1 249.6 943.9 245.8C944.8 242 945.6 238.2 946.2 233.6C946.8 229.1 947.4 226.4 947.7 218.4C948.1 210.4 948.3 191.1 948.4 185.6Z" fill="#1565a9" stroke="#333" stroke-width="0.35" stroke-linejoin="round"/>
<path d="M919.4 180.3V311.4H1025.8" fill="none" stroke="#333" stroke-width="0.6"/>
<line x1="918.1" y1="185.1" x2="919.4" y2="185.1" stroke="#333" stroke-width="0.5"/>
<text x="917.4" y="186.3" class="s" font-size="3.4" fill="#222" text-anchor="end" >4</text>
<line x1="918.1" y1="215" x2="919.4" y2="215" stroke="#333" stroke-width="0.5"/>
<text x="917.4" y="216.2" class="s" font-size="3.4" fill="#222" text-anchor="end" >3</text>
<line x1="918.1" y1="245.1" x2="919.4" y2="245.1" stroke="#333" stroke-width="0.5"/>
<text x="917.4" y="246.3" class="s" font-size="3.4" fill="#222" text-anchor="end" >2</text>
<line x1="918.1" y1="275.3" x2="919.4" y2="275.3" stroke="#333" stroke-width="0.5"/>
<text x="917.4" y="276.5" class="s" font-size="3.4" fill="#222" text-anchor="end" >1</text>
<line x1="918.1" y1="305.3" x2="919.4" y2="305.3" stroke="#333" stroke-width="0.5"/>
<text x="917.4" y="306.5" class="s" font-size="3.4" fill="#222" text-anchor="end" >0</text>
<line x1="948.5" y1="311.4" x2="948.5" y2="312.9" stroke="#333" stroke-width="0.5"/>
<line x1="997.3" y1="311.4" x2="997.3" y2="312.9" stroke="#333" stroke-width="0.5"/>
<text transform="translate(913.2,245.2) rotate(-90)" class="s" font-size="3.6" fill="#222" text-anchor="middle">Expression Level</text>
<text x="980.5" y="181.8" class="s" font-size="8.6" fill="#000" text-anchor="middle" font-weight="bold" letter-spacing="0.35" stroke="#000" stroke-width="0.35">CASP3</text>
<text x="948.5" y="318.3" class="s" font-size="7.4" fill="#333" text-anchor="middle">MeCP2<tspan font-size="4.4" dy="-2.4">del6</tspan></text>
<text x="997.3" y="318.3" class="s" font-size="7" fill="#333" text-anchor="middle" >Control</text>
<filter id="bl1" x="-10%" y="-10%" width="120%" height="120%"><feGaussianBlur stdDeviation="0.9"/></filter>
<g filter="url(#bl1)" opacity="0.58">
<polygon points="47.7,373.3 51.1,365.5 60,361.7 67.7,360.4 76.6,362.2 85.5,361.1 91.1,363.3 98.8,359.5 104.4,364.4 107.7,371.1 112.6,380 107.7,383.3 103.3,378.8 98.8,373.3 87.7,371.1 80.6,373.3 81.5,382.2 85.5,387.7 86.6,394.4 76.6,396 65.5,392.8 54.4,391.5 48.2,385.5" fill="#2ec3c6"/>
<polygon points="76.6,372.8 86.6,370 95.5,371.1 102.2,378.8 107.7,392.2 104.4,396 95.5,392.8 88.2,395.1 86,387.1 80,382.2" fill="#d3a11c"/>
<polygon points="57.1,403.3 67.7,399.5 83.3,399.1 98.8,398.6 114.4,398 130,396 114.4,400.8 101.1,404.4 83.3,407.1 67.7,407.1" fill="#2dbe6c"/>
<polygon points="46.6,414.4 51.1,404 67.7,406 83.3,406.4 98.8,404.6 103.3,415.5 108.8,424.4 98.8,430.6 83.3,432.2 67.7,429.3 54.4,424.8 47.7,420.4" fill="#c88bf6"/>
<polygon points="98.8,404.8 110,404.8 121.1,410.6 126.6,416.6 117.7,423.3 108.2,426.2 103.3,416.6" fill="#f36cc4"/>
<polygon points="161.5,404.4 165.5,395.5 172.2,387.7 183.3,385.3 194.4,387.7 198.4,393.3 189.9,400.4 178.8,405.7 167.7,409.3 163.3,408" fill="#8cb61e"/>
<polygon points="142.8,418.2 154.4,414.4 165.5,416.6 179.3,422.2 181.5,428.8 174.8,433.7 163.3,431.5 152.2,426.2 145.1,424" fill="#3aa9f2"/>
<polygon points="95.5,463.3 101.1,461.5 110,461.3 118.8,462.6 122.2,465.5 117.7,468.2 108.8,468.8 100,467.1" fill="#f4756b"/>
</g>
<path d="M77.5 379.7h0M80.9 381.4h0M54.5 371h0M82.1 362h0M48.9 376.7h0M80.8 382.8h0M78.9 369.6h0M68.2 368h0M103.5 373.4h0M107.2 376.6h0M52.5 382.1h0M54.1 371.5h0M55.5 368.6h0M99 365.8h0M60.6 386.7h0M55.4 375.2h0M67.6 392.2h0M61.6 368.5h0M67.5 362.5h0M63.2 381.8h0M109.2 376.7h0M60.3 364.7h0M63.9 365.4h0M76.2 363.6h0M63.2 386h0M86.8 370.8h0M51.4 367.5h0M87.9 369.6h0M59 372.8h0M71.9 391.9h0M48.4 382.8h0M52.6 378.5h0M71.3 384h0M75.2 387.9h0M53.9 382.8h0M77 390.4h0M49.4 381.5h0M67.4 384.5h0M76.1 392.6h0M61 374.3h0M104.5 373.3h0M57 376.9h0M65.4 365.8h0M61.3 374.2h0M68.7 390h0M68 388.4h0M101.7 368.3h0M91.9 366.8h0M48.4 376.4h0M65.2 371.6h0M73.4 388.3h0M55.5 375.3h0M72.8 379.7h0M108.8 376.2h0M62.8 392.2h0M82.2 389.2h0M103.7 372.5h0M83.3 387.5h0M100.3 361.6h0M69.6 388.4h0M81.6 385.3h0M109.3 377.4h0M61.9 379.4h0M68.5 372.6h0M61.8 390.4h0M84.4 366.7h0M110 378.8h0M65.5 377.1h0M78.9 371.6h0M98.4 360.6h0M91.9 371.7h0M54.9 386.5h0M63.5 366.6h0M71.9 374.5h0M60.6 382.1h0M103.3 367.2h0M105.9 371.9h0M63.3 386.2h0M101.8 374.7h0M74.2 384.5h0M79.9 387.1h0M60.1 362.2h0M84.8 365.1h0M77.5 387.8h0M59.5 375.6h0M60.3 365.5h0M101.3 373.7h0M94.4 362.5h0M48 372h0M64.7 374.2h0M72.1 364.1h0M111.1 380.2h0M99.7 361.9h0M58.4 377.2h0M108.5 374.7h0M71.1 369.5h0M66.1 385.7h0M57.2 387.6h0M97.4 361.3h0M75.9 376.9h0M81.6 393.2h0M86.6 363.4h0M81.4 364.3h0M76.9 368.8h0M96.1 368.8h0M70.8 368.9h0M96.6 367.7h0M65.2 374.9h0M83.5 362.5h0M72.1 377.3h0M97.3 367.4h0M99.5 371.9h0M68.8 378.5h0M76.2 373.5h0M92.2 370.2h0M61.9 383.8h0M65.7 365.3h0M71.4 363.2h0M107.1 375.1h0M69.2 373.7h0M63.6 373h0M73.6 374.2h0M59.5 386.9h0M48.6 378.1h0M99.2 361.6h0M53.7 383.2h0M90 369.2h0M81.3 387.6h0M79.6 378.4h0M107.4 373.9h0M81.9 385h0M74.9 363.5h0M72.2 366.1h0M52.1 371.2h0M98.5 366.2h0M85.8 392.7h0M59.8 368.1h0M86.5 368h0M58.7 387.6h0M65 391.6h0M82.9 394.4h0M99.2 373.5h0M90.9 368.2h0M71.7 388h0M57.8 365.5h0M103.2 377.3h0M65.5 379.6h0M53.1 369.2h0M79.5 376.4h0M103.5 370.1h0M100.8 367h0M57.8 390.2h0M52 370.8h0M71.4 384.8h0M78 394.2h0M48.5 372.9h0M99.3 366.8h0M72 379.6h0M73.2 384.1h0M95.7 371.3h0M94.8 371.4h0M59.7 373.7h0M53.7 368h0M74.6 361.9h0M81 382.3h0M72.7 371.6h0M74.5 384.9h0M48.6 372.1h0M53.9 373.2h0M58.5 387.1h0M71.1 378.3h0M88.7 366.9h0M68.8 393.8h0M85.3 368.4h0M55.5 390.5h0M63.5 380.2h0M83.6 362.3h0M90.1 370.1h0M72.5 381h0M61 376.9h0M84.3 365.8h0M84.5 371.5h0M91.9 364.6h0M77.7 374h0M73.4 374.9h0M75.7 392.6h0M96.4 370.5h0M55.4 375.8h0M50.8 384.8h0M67.6 374.1h0M75.2 389.6h0M85.2 392.9h0M55.8 379.1h0M63.5 370.6h0M73.4 372.4h0M68.8 377.2h0M78.1 368h0M101.8 372.5h0M61.2 383.4h0M95.6 370.4h0M93.7 363.4h0M76.7 362.8h0M94 367h0M72.4 383.2h0M63.2 370.2h0M66.8 383.5h0M76.2 378.7h0M86.6 370.7h0M53.4 369.6h0M66.2 380.4h0M76.9 387.5h0M79.6 365.8h0M71.2 383h0M80.3 389.8h0M98.1 365.3h0M76.5 386.9h0M63.2 377.9h0M85 391.6h0M48.5 377.8h0M65.7 389h0M99.3 368.5h0M50.1 370.6h0M65.6 381.4h0M59.2 369.4h0M51.5 374.7h0M79.8 387.2h0M77.6 386.7h0M73.1 370.5h0M62.3 368.6h0M77.4 393.8h0M50.2 374.1h0M70.4 384.4h0M104.6 376.9h0M72.6 388.4h0M59.8 379.8h0M61.5 377h0M103.6 367.1h0M58.8 369.7h0M94 369.5h0M108.6 371.9h0M69.4 374h0M68.7 387.6h0M73.6 368.3h0M67.8 374.9h0M93.5 368.4h0M57.2 367.7h0M74.3 373.4h0M66.7 372.2h0M48.6 382.2h0M61.2 383.7h0M104 367.9h0M75.9 374h0M69 377.9h0M74.2 377.4h0M63 363.3h0M57.4 380.2h0M73.6 373h0M50.9 377.3h0M69.3 368.8h0M105.6 380.8h0M59 375.9h0M72 380.2h0M74.3 375.5h0M104.9 373.4h0M56.4 378.4h0M60.1 367.5h0M72.7 368.3h0M84.5 389.7h0M70 392.5h0M57.5 382.2h0M71.7 369.4h0M63 368.8h0M81.2 364.2h0M54.7 385.5h0M58.4 391h0M64.3 377.6h0M94.1 368.3h0M69.9 386.5h0M55.7 373h0M86 393.8h0M51 385.6h0M66.5 386.2h0M72.2 370h0M65.6 373.3h0M99.8 365.1h0M79.4 364h0M84.2 364.5h0M62.3 377.3h0M105.9 370.9h0M60.4 391.2h0M100.6 374.1h0M76.5 389.6h0M70.8 387.5h0M82.1 388.3h0M74 388.1h0M109.3 373.8h0M84.8 368.1h0M71.2 383.1h0M106.8 371.5h0M95.8 366.7h0M92.1 366.1h0M71 375.2h0M72.8 371h0M60.7 392.3h0M75.7 395h0M93.5 366.7h0M59.9 372.5h0M88.8 366.6h0M81.1 380.8h0M72.2 367.6h0M78.1 395.3h0M74.8 392.1h0M80 367.5h0M63.5 389.1h0M103.8 367.3h0M52.6 379.2h0M63.9 388.1h0M83.5 392.3h0M71.9 363.3h0M54.7 366.7h0M61.7 381.9h0M60.5 383.9h0M69.5 370.7h0M59.3 363.7h0M56.7 363.5h0M71.6 366.6h0M68.3 374.9h0M74.9 389.7h0M80.2 394.4h0M62.8 381.5h0M66.1 390.2h0M108.3 373h0M73.9 370.2h0M66.6 384.5h0M74.7 364.1h0M75.4 371.2h0M53 373.3h0M48.8 382.7h0M77.6 370.5h0M51.5 376.7h0M61.6 373.3h0M96.2 363.1h0M64.1 388.3h0M56.4 376.7h0M48.8 372.2h0M54.8 388.8h0M56 380.3h0M81 369.9h0M61.4 375.8h0M103.1 363.1h0M110.2 379h0M57.7 388.6h0M58.1 378.9h0M51 374.8h0M68.6 376.6h0M108.2 380.2h0M73.3 370.1h0M71.2 375.2h0M76.5 376.2h0M51.3 378.6h0M61.9 363.4h0M79.1 367.4h0M48.4 374.3h0M71.2 381.6h0M67.5 377.6h0M64.2 368.9h0M103.4 374.8h0M101.4 372.2h0M52 387.5h0M83.5 393.2h0M77.1 375.7h0M96 362.7h0M54.7 364.9h0M84.2 393.6h0M83.2 390.7h0M75.3 372.4h0M79.2 385.1h0M54.9 387.1h0M61.1 372.5h0M73.2 380.1h0M92.9 368.7h0M85.8 369.2h0M71.7 385.9h0M106.4 376.2h0M96.3 364.1h0M49.5 384.7h0M70.1 364.8h0M100.1 362.8h0M60.5 378.9h0M66.6 390.4h0M82.5 369.1h0M56.2 377.5h0M65.9 377.9h0M99 369.3h0M71.3 388.7h0M72.3 385.9h0M84.8 363.9h0M50.3 380.2h0M81.3 362.3h0M81.6 372.4h0M78.7 362.4h0M111.1 380.3h0M70.6 384.6h0M48.5 377h0M81.6 394.5h0M101.6 374.7h0M64.4 380.8h0M63.1 391.9h0M64.3 376.6h0M63.2 383.9h0M64.4 391.8h0M67.2 370.9h0M52.9 387.6h0M72.9 371.8h0M73.1 363.7h0M69.4 388.6h0M79.1 389.4h0M72.6 361.8h0M62.1 391.3h0M70.4 394h0M57.1 383.7h0M109.2 376.2h0M52.3 366.4h0M68 366.6h0M61.9 363h0M107.9 378.2h0M84.9 369.1h0M77.9 381.1h0M59 386.4h0M61.4 388.6h0M78.3 366.2h0M50.1 368.7h0M78.3 382.6h0M74.4 379.3h0M66.4 365.4h0M86 365.1h0M53.7 385h0M79.6 393.1h0M64.9 380.1h0M52.9 377.7h0M76.6 362.3h0M63.8 392.4h0M83.3 394h0M66.2 390.2h0M60.9 366.7h0M99.9 365.6h0M48.8 378.8h0M52.9 384.6h0M104.5 371.5h0M88.1 363.9h0M84.3 393.5h0M72.9 372.4h0M98.9 367.2h0M68.5 370.1h0M69.5 393.1h0M68.9 369.6h0M96.2 369.2h0M63.5 371.5h0M71.4 378.5h0M74.7 374.8h0M75.9 383.9h0M104.8 368.3h0M82 366.3h0M57.4 380.3h0M95 370.5h0M74.7 363.6h0M52.2 368.9h0M55.4 374.7h0M73.6 382.6h0M50.9 385.5h0M52.3 373.8h0M78.8 382.1h0M55.7 371.5h0M73.6 392.6h0M71.1 375.5h0M67 387.8h0M104.1 376.8h0M73.8 383.6h0M76.1 384.1h0M70.4 385.5h0M97.2 368.8h0M52 380h0M73 380.3h0M63.6 385h0M98.2 370.3h0M65 380.1h0M59.1 381.9h0M66.3 389h0M84.2 394.9h0M52.4 369.8h0M101.4 373.8h0M72.3 383.8h0M64.1 366.1h0M64.9 377.2h0M61.3 384.8h0M104.4 367.5h0M75.9 388.9h0M62.9 383h0M69.1 375.9h0M58.8 372.2h0M62.5 373.5h0M51.6 385.2h0M49.3 385.2h0M68.5 377.1h0M70.8 373h0M67.9 381.3h0M102.2 376.6h0M74.1 373.7h0M67.5 360.1h0M66.8 365.9h0M74.5 378.7h0M53.1 368.4h0M81.5 370.4h0M57.2 373.5h0M83.5 394h0M59.5 376h0M61.4 375.7h0M91 367.7h0M83.8 362.9h0M97.7 361.8h0M57.1 366.9h0M78.3 394.7h0M101.1 365.8h0M101.1 368.4h0M79.9 395.2h0M52.1 366.7h0M51.2 377.8h0M68.3 364.4h0M58.7 377.7h0M84.7 368.9h0M77.6 389.8h0M57.4 365.5h0M104.8 373.5h0M55.1 370.2h0M60.9 383.1h0M57 380.2h0M87.6 366.6h0M73.4 379.2h0M72.1 385.8h0M66.2 369.4h0M60.2 373.2h0M72.2 381.3h0M86 391.9h0M56.9 374.1h0M98.1 361.5h0M68.9 382.1h0M64.7 372.6h0M102.5 366.6h0M93.5 368.1h0M74.7 371.3h0M92.5 363.9h0M61 382.1h0M74.5 365.6h0M50.4 375.7h0M83.1 390.9h0M81.6 363.7h0M69.7 363.3h0M104.3 379.3h0M66 387.4h0M48.4 377.5h0M81 378.2h0M65.8 376.1h0M72.9 393.1h0M79 372.5h0M73.6 362.2h0M56.8 374.5h0M76 371h0M105.4 377.3h0M52 384.6h0M57.2 388h0M67.4 393.5h0M109 382.7h0M50.7 378.3h0M63.8 379.9h0M69.4 374.2h0M78 364h0M72.3 365.8h0M55.6 384.8h0M73.8 383.5h0M71.3 383.4h0M72.8 383.3h0M54.6 388.4h0M123.4 463.2h0M129.9 461.3h0M128.1 462h0M124.8 462.7h0M124.4 463.3h0M129.4 461.4h0M122.6 463.8h0M130.7 461.2h0M128.4 460.8h0M123.1 463.5h0M128.9 461.2h0M124.6 462.9h0M125.7 462.8h0M128.1 461.9h0M130.1 461.4h0M127.8 462.3h0M128.9 461.7h0M126.1 462.9h0M130.8 461.2h0M129.1 462.1h0M124.5 462.9h0M122.9 463.5h0M104.2 376.9h0M105.5 377.4h0M108.4 377.5h0M107.4 377.3h0M112.3 375.1h0M109.1 375.4h0M107 380.8h0M105.5 377.5h0M105.2 381.6h0M108.5 379.7h0M107.5 380.6h0M104.9 379.2h0M102.9 381.1h0M106.4 376.5h0M110.7 377.6h0M109 376.4h0M106.8 380.4h0M106.3 376.3h0M109 376.9h0M104.4 377.2h0M111.4 375.8h0M104.4 380h0M106.6 376.2h0M112.4 378.1h0M105.3 379.3h0" stroke="#2ec3c6" stroke-width="0.9" stroke-linecap="round" fill="none" opacity="0.95"/>
<path d="M88.8 373.5h0M87.7 382.6h0M89.8 377.1h0M96.4 391.1h0M80.5 371.4h0M95.7 378.4h0M104.2 385.5h0M79.4 372.5h0M104.6 394.2h0M91.2 389.9h0M92.4 380.6h0M98.3 384h0M79.8 373.8h0M90 381.9h0M101.3 377.9h0M78.9 376.3h0M97.1 380.7h0M90.9 376.5h0M80.3 375h0M100.4 391.1h0M80.5 375.2h0M80.6 379.8h0M98.6 390.3h0M90.5 379.8h0M98.5 378.3h0M88.2 371h0M106.3 391.8h0M88.5 378.5h0M82.9 372.8h0M82.6 377.4h0M85.7 382.1h0M100.9 393.2h0M86.4 380.9h0M103.9 383.3h0M86.3 380.6h0M87.4 375.9h0M89 384.5h0M85.5 370h0M91.9 379.9h0M85.9 377.8h0M90.6 383.7h0M100.6 384.4h0M100.2 382.2h0M104.2 388.4h0M92.4 384.9h0M99.2 385.4h0M88.6 395.1h0M91.5 389.9h0M99.5 392.5h0M87.9 372h0M80.4 382.2h0M79.6 378.9h0M91.1 385.1h0M104.9 391.8h0M90.6 386.4h0M84.2 375.3h0M86 372.4h0M98.9 381.5h0M91.8 376.9h0M87.4 387.5h0M84.3 375.6h0M105.9 391.2h0M94.2 371h0M92.3 393.2h0M97.5 386.8h0M104.8 388.3h0M82.8 381.2h0M89 376.6h0M90.1 387.7h0M95.3 388.7h0M87.1 371.7h0M97.5 393.1h0M102.3 393.7h0M96.1 386.1h0M103.1 386.1h0M103.6 390h0M88.8 376.9h0M86.6 380.6h0M89.1 391.8h0M82.7 383.8h0M85.4 382.6h0M93.1 372h0M101.8 389.4h0M103.8 389.3h0M100.7 391.7h0M96.8 386.6h0M92.9 376.9h0M84.5 376.2h0M87.7 386.5h0M104.3 394.7h0M79.2 372.5h0M99.7 383.7h0M102 382.9h0M98.7 388.9h0M94.3 380.7h0M87.3 390.2h0M95 371.7h0M96 386h0M83.9 375.8h0M91.2 381.7h0M93.8 372.7h0M98.1 375.2h0M99.9 377.3h0M105 393.9h0M88.4 393.8h0M87.4 372.3h0M90 385.8h0M92.5 371.7h0M84.2 380.1h0M93.6 382.9h0M98.4 376.3h0M86 384.7h0M90.3 372h0M102.1 393.7h0M96 382.8h0M80.4 373.1h0M101.8 391.7h0M82 382.9h0M96.9 391h0M102.7 391.2h0M87.4 370.9h0M90.8 392.3h0M104 394.6h0M102.4 388.8h0M90.5 370.8h0M89.2 373.8h0M80.1 372.1h0M102.7 385.4h0M81.9 376.6h0M97 386.5h0M90.6 391.7h0M84.3 371h0M104.9 390h0M97.1 394.1h0M94.5 376.3h0M96.2 376.7h0M85.9 379.1h0M95.8 385.5h0M93.8 375.7h0M99.5 375.9h0M89.6 391.8h0M95.2 383.8h0M94.2 376.4h0M104.1 395.1h0M93.1 382.5h0M79.2 376.2h0M82.4 372h0M96.3 385.2h0M95 377.8h0M95.8 383.9h0M88.1 380.5h0M89.2 372.3h0M99.1 385.5h0M99.3 385.2h0M97.9 384.9h0M99 381h0M81.6 383.5h0M96.7 382.3h0M90.8 392.9h0M91.5 383.8h0M94.4 376.7h0M92 377.7h0M90 380.7h0M96.1 381.5h0M93.6 379.4h0M90.2 388.6h0M89.8 380.1h0M94.4 384.3h0M76.7 374.6h0M77.4 374.3h0M87.1 382.6h0M103.8 385h0M83.9 379.7h0M83 382.4h0M94.9 372.6h0M92.4 388.5h0M95.3 389.5h0M93 374.9h0M82.8 376.3h0M90.2 383.1h0M90.6 391h0M100.4 382.9h0M97.6 378.1h0M89.3 390.1h0M92.5 373.4h0M88.8 376.1h0M98 380.5h0M85 377.5h0M96.3 373.3h0M92 390.4h0M82.6 372.2h0M94.8 381.5h0M97 380.2h0M104.4 394.9h0M98.1 384.5h0M96.8 376h0M95.5 381.5h0M98.1 393.3h0M90.1 380.6h0M100.3 389.8h0M90.4 381.3h0M101.9 380.6h0M87.9 370.7h0M104.8 394.9h0M79.4 377.5h0M102.5 392.1h0M78.7 379.8h0" stroke="#d3a11c" stroke-width="0.9" stroke-linecap="round" fill="none" opacity="0.95"/>
<path d="M78.4 403.6h0M60.7 402h0M87.6 405.8h0M120.6 398.5h0M71.5 403.8h0M96.8 398.9h0M82.9 402.7h0M94.6 404.7h0M101.2 404.2h0M82.5 406.4h0M84.9 400.5h0M69.4 400.8h0M81.8 404.4h0M83.6 399.6h0M88.2 400.8h0M67.9 404h0M89.4 400h0M96.2 403.3h0M80.4 404h0M64.2 404.2h0M92.9 398.7h0M96 400.3h0M85.8 405.4h0M96.3 403.8h0M69 403.3h0M64.9 404.5h0M78.4 400.3h0M88.3 403.1h0M82.2 403.7h0M88.6 401.9h0M101.7 403h0M85.3 400.3h0M90.6 398.7h0M101.5 401.4h0M60.2 402.2h0M70.4 407h0M104.1 404.5h0M88.5 400.7h0M91 403.9h0M62.2 403.5h0M66 404.9h0M102.8 403.2h0M108.2 398.2h0M69.8 399.5h0M68.8 403.8h0M90.2 400.3h0M77.2 405.6h0M58.3 401.9h0M97.8 403.7h0M105.7 401.2h0M83.1 404h0M61.1 403.9h0M77.3 401.9h0M58.7 402.4h0M61.8 402.1h0M91.7 399.7h0M77.2 403.4h0M71.9 401.8h0M105.2 399.9h0M95.8 399.9h0M65.1 405.7h0M113.7 401h0M92.6 403.3h0M81.9 403.6h0M64.3 404.4h0M88.7 399.1h0M72.7 402.3h0M107.1 399.6h0M82.6 406.1h0M66.8 401.5h0M99.5 399.3h0M97.1 403.3h0M101.8 398.7h0M119.2 398.9h0M101.7 402.8h0M62 402.9h0M83.7 399.5h0M93 405.5h0M113.7 399.5h0M70.2 401.1h0M75.6 400.9h0M99.9 403.1h0M70.7 402.2h0M71.8 403.2h0M63.3 402.4h0M94.8 401.5h0M88.4 404.3h0M74.1 400.9h0M124.8 396.9h0M79.1 398.9h0M98.8 399.7h0M66.5 401.6h0M96.9 405.1h0M82.2 401.4h0M63.3 403h0M71 400.5h0M71.6 402.3h0M87.4 399.8h0M65.8 403.4h0M101.6 402.2h0M67.6 401.1h0M73.4 403.8h0M121.7 397.9h0M61.2 404.3h0M77 400.8h0M110.9 400.3h0M87 405.6h0M91.4 402.9h0M78.5 400.3h0M121.9 397.8h0M94.6 404.5h0M82 400.7h0M66.5 406h0M70.2 405.7h0M111.9 399.7h0M103.9 398.6h0M93.3 405.5h0M74.6 406.8h0M72.4 405.9h0M93.4 401.4h0M86 405.8h0M76.2 404.7h0M88.5 402.7h0M96.5 405h0M76.6 404.8h0M66.9 405.7h0M98.1 401h0M62 402h0M81.4 400.6h0M71.1 401h0M87.5 402h0M62.5 402.8h0M103.4 400.9h0M106.7 402.8h0M87.3 406.1h0M114.7 399.9h0M79.1 404.7h0M109.1 399.4h0M79.8 401.9h0M120.3 399.6h0M63.1 402.4h0M118 399.8h0M103.3 400h0M73.5 402.5h0M83.2 406.3h0M70.5 399.5h0M83.1 407.1h0M107.5 401h0M73.8 403.8h0M111 398.2h0M82.3 401.4h0M68.9 402.9h0M118.5 398.4h0M123.7 399.3h0M135.5 398.8h0M116.4 396.7h0M130.4 399.3h0M138.3 399.3h0M140 398.5h0M119.9 398.3h0M135.1 397.4h0M125.5 396.8h0M128.2 398h0M138.2 397.7h0M124.8 398.4h0M131.1 397.3h0M114.7 399h0M115.8 398.7h0M119.5 397.3h0M130 398.5h0M126.2 398.2h0M122.7 398.1h0M127 398.5h0M122.6 397.9h0M134.9 396.2h0M117.4 397.7h0M123 398.2h0M131.3 398.6h0M141.1 398.3h0M123.4 398.3h0M121.1 398.1h0M118.5 398.2h0M117.5 397.6h0M138.6 398.2h0M132.8 397.2h0M140 397.8h0M119.1 396.4h0M133.8 400.1h0M140.4 398.3h0M132.5 397.8h0M138.1 397.7h0M131.7 400.5h0M119.2 398.1h0M125.8 399.6h0M115.9 398.2h0M126.9 399.2h0M120.2 398.8h0M117.8 397.9h0M132.4 398.5h0M120.3 398.3h0M118.4 397.9h0M125.7 400.2h0M117.1 397.4h0" stroke="#2dbe6c" stroke-width="0.9" stroke-linecap="round" fill="none" opacity="0.95"/>
<path d="M93.9 425.7h0M82.2 430.1h0M74.3 428h0M104.9 426h0M66.7 413.2h0M96.3 422.2h0M64.7 414.6h0M79.9 424.3h0M89 427.8h0M97.8 408.7h0M56.5 407.8h0M90.6 419.2h0M72.5 410.2h0M91.4 431.3h0M98.9 417.8h0M56.8 410.4h0M47.4 415.2h0M100 410.3h0M94.8 422.8h0M72.3 416.7h0M72 418h0M58.5 408.9h0M71.4 428.6h0M68.5 425h0M77.6 421.3h0M57.1 420.3h0M94.6 410h0M95.1 428.2h0M69.4 406.6h0M80.1 409.2h0M78.3 415.5h0M89.3 420.8h0M61.5 420.6h0M106.2 424.5h0M58.6 414.5h0M100.4 419.4h0M74.9 412.8h0M83 430.6h0M93.2 420.6h0M59.7 405.8h0M99.4 426.7h0M63.9 408.9h0M81.3 431.1h0M84.1 415.3h0M88.7 413.7h0M89.1 417.5h0M101.5 418h0M87.8 406.6h0M86.8 409h0M64.5 419.4h0M86.5 425.7h0M87.2 408.8h0M54.6 421.6h0M83.9 419h0M84.9 425.2h0M98 417.1h0M51.6 416.4h0M77.4 417.1h0M62 422.2h0M74.2 421.3h0M53.7 423.9h0M74.3 427.7h0M48.7 411.7h0M69.9 412.6h0M57.5 418.3h0M92.9 417.8h0M53.6 412.8h0M65.3 419.2h0M72.8 407.5h0M53.5 416.5h0M71.1 423.2h0M99.4 425.8h0M79.4 406.6h0M77.3 412.5h0M80.9 415.5h0M64 409.9h0M73.2 416.9h0M62.8 412.3h0M82.6 421.4h0M53.2 410h0M68.8 429.2h0M82.3 418.6h0M102.5 421.2h0M59.9 419.8h0M67.2 413.4h0M86.7 406.9h0M83.6 428.7h0M72.4 419.6h0M93.6 416.6h0M77.9 413.6h0M78.7 415.8h0M103.1 417.3h0M101.4 419.2h0M104.8 419.7h0M74.8 411.7h0M52.1 414.4h0M66 411.5h0M91.8 412.5h0M89.2 411.1h0M77.6 411.6h0M98.8 410.9h0M101.7 416.7h0M72.6 415.3h0M79.2 425.6h0M87.5 411.4h0M91.4 426h0M93.2 407.9h0M96.4 408.8h0M79.9 408.9h0M48.4 415.2h0M102.9 424.2h0M63.1 421.8h0M53.8 410.7h0M71.8 407.9h0M96.2 413.5h0M57.5 419.5h0M88.9 407.2h0M76.6 410.8h0M84.2 424.6h0M80.6 412.1h0M95.3 412.3h0M49.5 410.1h0M71.5 429.2h0M68.6 410.6h0M89.2 424.3h0M94.1 413.6h0M72.2 430.2h0M103.4 416.2h0M68.1 423.9h0M99.4 423.8h0M87.7 428.8h0M90 417.6h0M54.1 418.4h0M76.2 427.6h0M68.3 413.7h0M63.7 408.8h0M108.3 423.6h0M47 419.3h0M86 410.5h0M80.8 417.1h0M68.9 427.7h0M100.5 415.8h0M89.2 407.2h0M93.3 414.2h0M57.8 422.8h0M64.3 411.9h0M59.6 414.8h0M79.9 408.1h0M75.4 430h0M58.4 421.2h0M77.6 425.3h0M91.7 426.3h0M65.9 418.3h0M99.4 428.5h0M80.1 416h0M108 424.3h0M67 413.5h0M69.7 415.7h0M105.9 420.1h0M69.5 418.3h0M105.5 421.5h0M79.9 418.3h0M51.7 416.1h0M49.7 418.9h0M60.8 420.4h0M54.5 409.2h0M98.8 414.2h0M58.4 418.2h0M104.2 420.5h0M77.4 417.5h0M89.2 426.8h0M99.8 416.3h0M55.2 411.5h0M98.2 411.1h0M81.5 423h0M88.4 409.4h0M56.6 416h0M58 414.1h0M62.8 406.8h0M57.6 407.4h0M64.7 413.4h0M82.4 408.2h0M64.1 422.9h0M69 422.6h0M82.9 409.2h0M98.7 422h0M98.2 428.9h0M97.3 406.9h0M67 410.4h0M59.1 424h0M81.5 417.4h0M74.9 408.3h0M75.7 425.2h0M87.2 411.2h0M86.7 425h0M99.6 416.7h0M57.4 418.1h0M63.1 408.8h0M62.7 417.6h0M57.2 417.2h0M88.8 419.6h0M85.3 406.4h0M63.7 405.5h0M64.3 410.4h0M90.7 410.6h0M78.2 407.2h0M59.9 426.2h0M56.7 415.7h0M67 413h0M65.2 413.5h0M66.1 423.7h0M65.9 410.6h0M99 425.5h0M99.2 418.5h0M59.4 407.8h0M88.5 431.5h0M69.3 426.1h0M50.7 422.2h0M94.1 421.3h0M98.2 424.2h0M49.8 420.7h0M56.5 414.5h0M89.5 408.7h0M66.4 426.9h0M94.5 421.8h0M61.6 421.9h0M55.7 410h0M69.2 424.2h0M62.7 415.7h0M58.8 426.1h0M90.5 405.5h0M59.6 422.9h0M77.7 414.1h0M72 427.3h0M71.1 419.1h0M71.2 415.3h0M67.9 426.4h0M98.1 414.2h0M75.4 418.8h0M75.4 417.5h0M57.9 411.8h0M64.3 407.5h0M74.8 417.7h0M48.8 412.1h0M90.4 419.9h0M64.4 411.8h0M53.5 407.6h0M86.6 431h0M84.5 418.7h0M63.3 412.7h0M104 417h0M62.8 413.9h0M70.2 407.3h0M102 417.3h0M54.8 415h0M93.3 430.9h0M89.3 419.6h0M76.4 430.5h0M80.9 415.6h0M71.3 414.9h0M87.4 421.4h0M89.9 424.3h0M85.3 427.4h0M60.5 418.8h0M95.1 428.3h0M72.5 422.7h0M84.5 431.2h0M58.2 418.1h0M80.4 410.4h0M65.9 417.1h0M61.1 424.7h0M65.4 415.7h0M81 411.7h0M76.2 419.3h0M62.7 407.9h0M96.6 426.1h0M93.6 420.9h0M59.5 417.2h0M66.5 420.1h0M71.3 418h0M102.4 419.5h0M60.2 422.7h0M88.2 421.2h0M73.2 416.1h0M78.5 411.9h0M69.9 427.1h0M94.7 424.1h0M50 412h0M101.5 422.9h0M92.1 419.1h0M76.4 422h0M93.2 423.5h0M85.8 420.9h0M84.2 413h0M73.5 417.7h0M97.3 424h0M54 406.3h0M75.2 425.6h0M69 417.9h0M82.8 407.7h0M60.7 410.6h0M88.6 410.8h0M86.6 410.6h0M95.6 415.7h0M67.2 408.6h0M85.1 417.3h0M102.9 421.5h0M57.6 413.5h0M105 419.1h0M78.8 417.7h0M54.3 409.2h0M59 419.3h0M51.8 412.5h0M60.7 419.7h0M58.8 412.2h0M77.1 417.9h0M70 410.8h0M84.3 419.6h0M81.4 423.5h0M99.2 419.1h0M77.4 430.9h0M93.9 416.8h0M102.3 416.3h0M80.9 410.3h0M60.5 409.1h0M65.5 406.3h0M86.5 424.1h0M96.3 428.9h0M98 428.5h0M98.5 409.2h0M52.5 408.5h0M68.5 425.8h0M72.9 423.6h0M68.4 411.3h0M91.4 409.6h0M82.2 418.8h0M81 421.9h0M87.2 408.1h0M52.9 405.6h0M77 422.1h0M52.5 409.5h0M54.8 422.2h0M101.7 424.1h0M82.9 418.9h0M92.8 406.5h0M94.9 411.9h0M77 420.9h0M95.1 422.1h0M95.9 407.1h0M95.8 429.7h0M67.3 421.2h0M86.6 423.2h0M77.9 416.6h0M53.5 417.9h0M82.3 423.9h0M71.3 409.3h0M86.5 418.4h0M93.3 415.2h0M51.9 414.2h0M55.4 416h0M102.9 428.3h0M49.5 417.2h0M48.8 421.3h0M91.2 409.8h0M66.8 412.7h0M72.2 406.1h0M97.5 409.5h0M76.5 420.8h0M93.7 410.7h0M76.4 411.9h0M80.7 411.2h0M95.1 416.5h0M61.9 409.7h0M91.9 416.7h0M105.8 421.6h0M81.9 423.9h0M63.3 426.6h0M55.6 415.3h0M58 418.7h0M89.1 424.1h0M81 411.9h0M94.5 421.7h0M88.6 429.8h0M75.4 419.7h0M67.4 416.1h0M101.1 427.5h0M58.9 420.3h0M95.5 410h0M88.7 423.9h0M94 409h0M67.4 407.7h0M75.2 417.9h0M73.5 424h0M92.9 410.7h0M60.9 422.3h0M71.2 417.5h0M61.9 410.7h0M67.4 425.7h0M95.5 426.3h0M88 420.4h0M57.4 413.9h0M62.5 415.8h0M51.9 414.1h0M78.7 429.8h0M83.2 431.3h0M80.9 420.1h0M78.4 419.6h0M106.7 422.2h0M75.7 410.1h0M60.8 416.5h0M91.7 406.4h0M59.5 426.1h0M73.9 420.7h0M99.9 422.6h0M64.9 415.7h0M59.1 411.4h0M80.3 416.8h0M74 422.8h0M68.7 417.7h0M97.9 429.1h0M54.2 419.1h0M62.8 427.8h0M94.2 418.9h0M67.8 422.1h0M94.7 408.1h0M86.1 429.2h0M50.8 405.2h0M50.8 413.1h0M73.9 427.5h0M82.5 420.5h0M62.7 407.8h0M57.7 409.3h0M94.8 415.6h0M58.2 414.5h0M83.8 424h0M97.8 415.9h0M84.5 407.7h0M89.2 424.8h0M98.7 411.1h0M70.4 423.2h0M54.7 411.4h0M97.7 404.7h0M73 420.5h0M98.8 405.9h0M59.3 406.8h0M54.7 413h0M57.6 415.1h0M50.2 409.5h0M75.2 415.9h0M72.5 429.8h0M82.2 432.2h0M78.2 423.1h0M87.9 409.7h0M81.7 426.6h0M92.1 426.2h0M82.4 416.7h0M93.9 408.2h0M79.2 409.6h0M74.4 425.8h0M60.4 424.7h0M55.9 412.5h0M64.3 406.8h0M85.1 414.5h0M51.8 417.1h0M51.9 404.6h0M91.7 429h0M95.2 412.5h0M83 416.7h0M65.7 413.3h0M47.1 414h0M67.1 424.4h0M90.8 430.8h0M95.3 413.6h0M78.8 429h0M76.8 423.3h0M93.4 409.3h0M93 409h0M107.1 422.9h0M66.3 418.8h0M80.2 418.6h0M98 409.1h0M66.8 426.2h0M95 423.8h0M68.5 425.2h0M76.4 409h0M59.5 407h0M55.2 409.1h0M92.4 407.4h0M89 431.2h0M58.9 408.5h0M94.3 425.3h0M72.3 413.5h0M90.9 415.8h0M63.6 416.8h0M49 415.5h0M53.3 423.2h0M66.3 406h0M103.3 423.1h0M80.3 416.4h0M57.9 419.3h0M103.3 421.6h0M93.2 415.4h0M73.5 405.7h0M59.4 409.3h0M67.9 416.4h0M74.4 427h0M94.8 423.4h0M95.8 410.7h0M61.3 421.7h0M85.1 421.3h0M66.6 406.9h0M55.9 416.7h0M76.7 419.3h0M57 419h0M86.8 422.2h0M104.3 422.7h0M63.8 416.7h0M70.6 417.2h0M83.2 424.6h0M84.1 421.3h0M104.3 424.9h0M81.8 418.9h0M69.2 411.7h0M52.4 420h0M91.9 430.1h0M87.8 430.2h0M66.4 420.4h0M86.6 430.7h0M90.8 425.9h0M81 428.9h0M71 425h0M86.6 419.9h0M51.8 415.6h0M70.4 410.4h0M89.4 421.3h0M65 421.2h0M100.6 427.4h0M62.1 422.4h0M59 415.2h0M89.8 419.5h0M75.6 408.8h0M77.5 420.1h0M97.4 411.8h0M64.3 425.7h0M71.8 428h0M55 404.8h0M57.1 411.8h0M91.9 427h0M92.1 429.8h0M84.7 430.1h0" stroke="#c88bf6" stroke-width="0.9" stroke-linecap="round" fill="none" opacity="0.95"/>
<path d="M111.9 407.5h0M117.7 415.5h0M119.7 416.7h0M111.4 407.7h0M108.1 412.8h0M113.2 410.1h0M103 413.7h0M120.8 413.9h0M109.9 421.3h0M103.9 417.7h0M104.7 412.7h0M103.1 416.6h0M103.1 405.8h0M116.8 417.9h0M110.7 419.5h0M105.9 412.1h0M109.3 414h0M102.1 409.5h0M107.4 412.2h0M110.8 411.9h0M115.1 409.2h0M117.1 421.8h0M108.4 412.7h0M111.5 414.5h0M108.9 415.5h0M108.2 407.6h0M104.8 417.6h0M107.8 421.7h0M119.5 414h0M107.2 409.7h0M115.8 421.4h0M107.8 405h0M112.4 424.3h0M103.2 414.2h0M120.6 414.3h0M108 418.7h0M120.2 411.4h0M114.9 423.2h0M112.4 421.5h0M109.1 406.6h0M109.8 404.5h0M100.5 407.8h0M119.7 414.8h0M113 421.2h0M105.9 406.9h0M109.3 426h0M105 411.3h0M110.7 414.5h0M116.3 415.6h0M104.3 409.1h0M107.6 423.2h0M110.6 409.3h0M104.6 407.6h0M107.1 406.1h0M113.9 421.9h0M110.7 411.9h0M111.6 410.3h0M105.2 407.2h0M108.7 413.4h0M109.9 414.3h0M123.4 415.7h0M117.5 423h0M104.7 416.7h0M104.3 413.4h0M118.7 415h0M110.3 424.7h0M114.3 424.3h0M106.5 423.1h0M123.8 413h0M115 410.9h0M113.5 409.1h0M106.5 407.3h0M120.5 413.7h0M108.6 412.6h0M109 410.9h0M113.7 418.8h0M120 410.1h0M115.5 416.9h0M111.4 414.5h0M105.8 415.7h0M110 426.5h0M100.8 411.4h0M120.5 413.6h0M107.9 415.3h0M116.3 419.4h0M102.7 410.3h0M107.4 422.9h0M115.1 418.3h0M105.1 407.1h0M112.3 408.6h0M122.3 413.2h0M101.1 405h0M117.4 417.7h0M117.2 410.4h0M117.7 414.8h0M121.1 417.7h0M111.1 405.3h0M118.7 417.3h0M104.2 414.9h0M111.3 419.3h0M109.3 416.6h0M108.5 423.1h0M115.3 411h0M123.8 413.8h0M115.1 418.6h0M102 406.2h0M112.9 408.9h0M115.1 409.1h0M106 410.2h0M107.9 426.5h0M110.2 421.7h0M105.7 420.7h0M113.9 407.2h0M115.1 418.4h0M107.2 409h0M109.8 409.1h0M111.6 421.2h0M113 408.1h0M105.3 406h0M115 415.8h0M114.1 417.7h0M103.3 414.4h0M111.9 422.4h0M119.7 413h0M101.2 408.9h0M109.6 425.2h0M110.4 419.3h0M115.5 421.7h0M104 412.1h0M112.2 407h0M107.6 418.4h0M111 420.4h0M105.3 407h0M120 413.8h0M107.1 417.9h0M108.4 422h0M109.4 425.1h0M115.5 422.3h0M112.9 407.3h0M111.3 405.3h0M108.3 409.1h0M109.2 414.5h0M105.3 406h0M110.7 410.4h0M107 416.6h0M108.8 414.4h0M106.2 415h0M132.5 417.2h0M142.3 419.4h0M128.2 417.7h0M146 419.4h0M140.5 418.4h0M120 415.8h0M138 417.1h0M129.9 416.6h0M133.9 418.2h0M125.5 415.1h0M128.7 417.3h0M118.6 412.2h0M128.1 414.6h0M123.7 421.1h0M137.4 419h0M131.9 414.7h0M134.9 418.1h0M124.5 418.5h0M137.8 418.2h0M124.6 413.7h0M137 419.4h0M137.3 420.7h0M118.5 411.8h0M138.4 419.6h0M125.1 417.3h0M142.7 419.7h0M119 411.2h0M131.8 413.1h0M144.5 420.3h0M140.5 417.6h0M144.9 416.6h0M138 418.7h0M138.8 420.4h0M134.6 417.1h0M122.6 419.3h0" stroke="#f36cc4" stroke-width="0.9" stroke-linecap="round" fill="none" opacity="0.95"/>
<path d="M196 392.7h0M190 393.2h0M183.1 387h0M179.2 402.4h0M188.4 400.4h0M164.4 406.4h0M185.8 386.1h0M171.6 403.9h0M172.4 397.5h0M179.3 394.4h0M185.1 397.9h0M179.2 403.7h0M173.6 400.4h0M184.2 388.6h0M188.5 396.4h0M183.1 389.4h0M187.4 388.2h0M188.4 391.3h0M173.8 401.4h0M183.2 394.6h0M174.6 404.1h0M166.2 396.7h0M193.9 388.8h0M180.8 386.8h0M164 398.4h0M169.1 396.6h0M172.4 406.5h0M168.9 402h0M180.2 401h0M165.2 406.5h0M165.7 398.8h0M179.6 386.5h0M189.5 393.2h0M168.2 401.3h0M180.4 399.6h0M169.7 391.1h0M181 397.1h0M186.8 397.3h0M165.8 397.5h0M184.3 391.3h0M174.6 394.9h0M180.8 387.7h0M171.4 400.9h0M167.6 398.3h0M169.4 400.9h0M179.4 390.5h0M189.8 391.4h0M172.6 400.8h0M174.1 400.7h0M172.5 398.8h0M170.2 394.8h0M180.1 389.9h0M189.8 393.6h0M172.2 388.4h0M184.3 387.1h0M176.7 400h0M172.5 396.7h0M178 387.5h0M178.5 389.5h0M168 394.5h0M179.2 403.1h0M172 402.9h0M179.2 393h0M185.1 396.1h0M174.8 399.8h0M166 398.3h0M173.1 394.2h0M179.7 399.9h0M177.5 397.6h0M195.2 390h0M162.4 404.2h0M176 402.6h0M170.6 401.4h0M169.2 394.5h0M191 398.8h0M180.6 389.5h0M174 393.3h0M184 387.8h0M175.4 401.7h0M180.7 388.2h0M176.3 398.2h0M168.7 398.1h0M179.9 394.7h0M183.7 397.3h0M194 396.2h0M170.6 400.1h0M185.1 388.1h0M188.5 391.6h0M189.2 392.2h0M188.6 398h0M175.8 401.3h0M182 394.3h0M184.4 400.4h0M177.4 406.2h0M170.9 403.5h0M166.4 406.7h0M169.9 395.2h0M163.6 402.7h0M173.2 396.9h0M193.2 396h0M162.6 405.6h0M181.3 402.9h0M180 386.9h0M172.7 388.1h0M182.7 394.4h0M187.8 401h0M163.8 403.4h0M179.4 398.2h0M186.2 396.4h0M169.5 394.1h0M190.8 396.3h0M173.8 390.4h0M175.7 400.8h0M185.6 387.5h0M177.6 397.9h0M176.7 393.9h0M165.8 396.3h0M187.9 400.2h0M173.9 392.8h0M173.5 392.3h0M164.5 406.8h0M173 399.7h0M186.3 394.3h0M164.8 407.8h0M186.5 393.1h0M190.6 393.1h0M165.1 404h0M187.1 390.7h0M174.7 388h0M172.4 388.6h0M182.8 394h0M185.2 392.2h0M184.5 386.8h0M168.8 394.6h0M190.7 394h0M193.8 396.2h0M182.3 388.3h0M165.7 398.5h0M182.5 400.6h0M190.6 399.8h0M178.7 389.1h0M192.8 395.9h0M179.4 399.3h0M165.8 403.1h0M189.5 394.6h0M166 397.3h0M170 391.6h0M176.9 402.3h0M190.4 393.2h0M188.9 391.6h0M170.2 394.8h0M184.1 399h0M177.1 398.1h0M167.2 406.8h0M178.2 393.2h0M170.1 393.2h0M183 385.4h0M181.8 400h0M189 394.3h0M187.1 399.9h0M186.1 401.5h0M196.2 392.7h0M185.6 397.8h0M166.7 398.8h0M167.8 406.3h0M167.1 399.7h0M166.1 402.5h0M175.5 397.3h0M192 396.1h0M176.7 393.6h0M176.8 393.6h0M182.4 402.4h0M171.5 389.5h0M167.1 405.9h0M173.9 401.4h0M193.4 393.1h0M181.5 401.3h0M180 396.6h0M183.2 392.3h0M171.8 392.8h0M192.8 388.6h0M166.8 393.9h0M169 402.8h0M185.9 388.5h0M170.8 398.8h0M174.1 402.2h0M193.1 396.9h0M188.6 387.5h0M166 401.7h0M181.2 394h0M171.2 399.7h0M175 398.7h0M171.2 393.6h0M191.6 388.3h0M183.4 400.1h0M174.1 398h0M187.5 395.3h0M163.6 404.2h0M165.7 407.1h0M174.5 393.9h0M178.8 405.6h0M175.7 387.6h0M179.7 387.6h0M175.4 400.1h0M164.9 399h0M172.3 394.8h0M181.8 387.2h0M191.8 388.4h0M176.4 405.7h0M178.4 403.5h0M174.2 391.1h0M187.6 388.6h0M192.9 396h0M174 393.9h0M177.2 389.3h0M182.2 391.4h0M168.9 405.9h0M179.5 387.3h0M176.4 397.4h0M191.4 390.9h0M176.6 404.5h0M175.3 390h0M170 398.6h0M195.3 393.8h0M160.9 401.6h0M154.4 401.3h0M134.2 396.8h0M158.5 402.1h0M145.3 397.1h0M165 402.5h0M136.3 394.9h0M164.2 403.1h0M140.5 396.8h0M145.1 398.7h0M163.4 405h0M158.4 401.7h0M159.5 404.7h0M158.8 403.5h0M137 393.3h0M155.1 400.3h0M133.4 393.5h0M141.9 395.9h0M147.7 398.5h0M154.6 401.3h0M138.6 396h0M154.3 402.8h0M149.7 399.8h0M141.4 397.4h0M162.3 404.5h0M155 402h0M142.7 399.6h0M141.5 397.8h0M135.4 393.8h0M142.9 399.5h0M130.2 397.5h0M161.6 404.8h0M134 395.3h0M143.4 396.1h0M134.1 392h0M155 400.3h0M159.2 401.7h0M136.4 395.6h0M162.5 401.4h0M156.2 399.7h0M135.5 395.1h0M156.6 405.9h0M158 398.6h0M140.2 394.7h0M158.8 399.4h0M152.2 402.4h0M142.8 395.3h0M138 399.2h0M151.3 403h0M145.7 397.4h0M160.4 402h0M155.3 401.4h0M142.1 396.1h0M134.7 396.1h0M133.6 395.7h0M146.1 396.2h0M157.1 396.2h0M138.5 396.6h0M136.1 395.1h0M134.2 400.1h0M141.8 396.3h0M141.6 400.2h0M127.3 397h0M146.3 397.4h0M151.8 402h0M137.8 392.9h0M132.9 394.9h0M132.1 393.8h0M152.7 403.2h0M133.4 397.8h0M132.9 395.2h0M134.7 395.5h0M138.5 393.9h0M136.6 394.7h0M135.6 392.8h0M132.5 394.6h0M134 391.8h0M138.9 394.6h0M134.2 393.4h0M132 394.6h0M141.6 396.2h0M135.5 394.7h0M136.4 395.7h0M140.2 395.7h0M135.3 396h0M126.8 393.1h0M137.5 395.7h0M132 395.9h0M134.4 394.4h0M135.1 394h0M140 394h0M132.3 395.6h0" stroke="#8cb61e" stroke-width="0.9" stroke-linecap="round" fill="none" opacity="0.95"/>
<path d="M166.4 431.9h0M154.9 424.5h0M143.4 418.2h0M152.8 418.1h0M150 423.8h0M163.6 425.8h0M150.7 422.1h0M164.5 429.2h0M173.3 425h0M173.7 427.7h0M154.6 421.5h0M180.9 428h0M162.8 429.3h0M157.7 421.8h0M159.8 422.4h0M148.1 423h0M143.3 419.7h0M178.2 423.9h0M157.2 419.1h0M180.6 429.2h0M172.1 426.5h0M146.2 420.8h0M157.4 418.5h0M149.8 418.3h0M174.8 420.7h0M165.9 428.9h0M154.9 418.2h0M162.1 426.5h0M167.2 424.5h0M157.9 426.3h0M147 418.9h0M177.1 424.5h0M155.3 422.3h0M173.6 419.8h0M157.6 419.2h0M152.7 421.6h0M174.7 423.6h0M157.3 425.7h0M155.5 422.8h0M177.8 429.8h0M171.8 429.7h0M159.4 420.6h0M157.7 427.6h0M168.3 421.4h0M158.6 426h0M166.1 419.8h0M176.5 424.2h0M161.8 426.1h0M156.1 421.2h0M160.6 420.7h0M173 429.8h0M164.4 419.7h0M176 430.9h0M148.5 416.2h0M174.7 423.9h0M162.4 422.9h0M158.3 428.5h0M174.8 423.2h0M159.3 428.7h0M180.1 428.5h0M173.8 428.5h0M170.1 426.9h0M177.8 426.1h0M165.8 424.5h0M177.1 424.5h0M148.5 422h0M148.1 418.7h0M165.9 430.3h0M165.6 430.3h0M164.1 423.9h0M178.3 423.4h0M169.2 425.4h0M147 423.6h0M170.2 430.6h0M151.4 425h0M158.2 417.1h0M157.1 417.3h0M165.6 423h0M152.9 419.1h0M144.4 420.8h0M155.4 426h0M148 419h0M151.1 418h0M167 418.1h0M154.2 416.7h0M168.7 421.7h0M164.6 427.7h0M158.6 417.2h0M159 417.4h0M172.7 424h0M154.2 422.3h0M160 428.3h0M159.8 421.5h0M154.2 423h0M164.2 420.2h0M174.6 429.4h0M150.9 424.7h0M156.4 422.2h0M146.6 420.8h0M148.5 419.4h0M156.6 421.6h0M150.6 423.5h0M162.1 424.4h0M159.3 417.5h0M155.2 419.2h0M148.8 424.9h0M154.7 421h0M154.2 426.5h0M149.9 424.7h0M156.4 422.3h0M145.9 421.7h0M145.8 418.1h0M147.9 421.1h0M155.8 415.6h0M174.1 423.1h0M142.7 418.6h0M163.2 416.4h0M152.4 422.7h0M161.1 426.5h0M147.8 417.8h0M179.6 423h0M164.9 422.1h0M152 421.3h0M172.7 422.1h0M167.1 424.9h0M163.5 420h0M146.7 419.6h0M179.3 427.4h0M174.1 431h0M150.7 420.5h0M179.9 428h0M154 415.2h0M151.7 415.9h0M152.5 418.5h0M156.9 424.8h0M147.1 424h0M152.4 422.3h0M156.7 415.9h0M163.7 427.2h0M175.6 424.6h0M161.2 427.9h0M157.2 426.5h0M168.6 420.5h0M163.5 420.9h0M175.5 427.9h0M163.1 427.4h0M164 425.3h0M177.4 423.5h0M165 429.5h0M163.3 419.6h0M165.9 425.2h0M168.5 423.1h0M180.4 427.8h0M172.4 432.2h0M175.3 428.2h0M165.2 424.2h0M174.3 430h0M161.4 429.8h0M179.2 428.7h0M167.1 429.1h0M156.1 420h0M144 420.8h0M167.8 429.3h0M154.5 422.5h0M163.9 423.7h0M168.9 424.3h0M174.2 425.7h0M158.3 421.3h0M168.5 428.6h0M170.5 419.9h0M158.9 416.9h0M164.3 429.1h0M169.8 432h0M176.6 427.3h0M150.5 418h0M175.5 432.1h0M163.8 424.8h0M161.4 429.3h0M148 421.4h0M172.4 421.6h0M174.9 426.5h0M162.2 423.6h0M160 424.3h0M151.2 416.6h0M160.7 427.6h0M153.4 419.6h0M166.1 427.1h0M133.5 411.8h0M127.9 408.4h0M136.7 406.9h0M130.7 408.4h0M133.7 404.7h0M136.8 411.5h0M142.8 410.4h0M138.7 411.9h0M146 408.5h0M141.9 413h0M132.1 406.6h0M144.9 417.7h0M135.8 411.7h0M137.7 415.6h0M147.5 417h0M147.1 414.3h0M140.4 412.3h0M132.7 405.5h0M144.1 414h0M141 411.7h0M129.3 407.8h0M138.8 418.1h0M146.3 417h0M142.8 413.6h0M134.2 413.2h0M133.7 403.6h0M148.3 418.4h0M125.1 411.3h0M140.6 414h0M141 410.4h0M132.6 413.8h0M135.2 410.4h0M137.8 409.9h0M131.3 409.9h0M137.7 415.1h0M138.1 411.5h0M135.6 406.1h0M121.8 405.6h0M126.8 404.9h0M147.9 414.4h0M136.3 410.2h0M132.1 406.6h0M144.1 412.5h0M142.1 415.8h0M126.8 407.8h0" stroke="#3aa9f2" stroke-width="0.9" stroke-linecap="round" fill="none" opacity="0.95"/>
<path d="M107.3 467.4h0M109.4 464.7h0M112 463.9h0M104.5 461.6h0M120.6 464.4h0M115.8 466h0M97.9 464.7h0M114.8 462.3h0M105.4 465.5h0M119.4 464.7h0M107.7 467.9h0M103 461.5h0M110.9 463.8h0M116.3 465.5h0M112.8 463.7h0M105.9 462.9h0M107.9 466h0M104.9 465.4h0M101.1 466.3h0M111.3 464.7h0M110.3 464.2h0M109.9 468h0M117.1 462.4h0M118.4 464.1h0M111.2 464.6h0M110.4 468.9h0M112.2 465.9h0M108.9 467.5h0M99.7 462.6h0M118.7 463.5h0M111.9 463.4h0M119.6 466.1h0M112 467.4h0M98.6 462.5h0M101.9 465h0M105.6 468.3h0M115.1 462.7h0M119.1 467.4h0M108.3 462.2h0M109.9 466.3h0M113.7 469.3h0M100 464.4h0M111.4 462.6h0M117.8 464.8h0M111.2 461.8h0M98.7 463.1h0M106 464.2h0M101.7 461.9h0M109.8 462.3h0M112.2 461.7h0M119.6 464.2h0M113.2 462.7h0M111.3 466.5h0M117.2 465.6h0M106.4 466.7h0M110.6 466.7h0M119.3 463.9h0M111.3 462.6h0M114.2 464.7h0M99.4 462.8h0" stroke="#f4756b" stroke-width="0.9" stroke-linecap="round" fill="none" opacity="0.95"/>
<path d="M39.6 352.2V474.9H205.6" fill="none" stroke="#333" stroke-width="0.6"/>
<line x1="38.2" x2="39.6" y1="377.7" y2="377.7" stroke="#333" stroke-width="0.5"/>
<text x="37.2" y="379.2" class="s" font-size="4.3" fill="#444" text-anchor="end" >5</text>
<line x1="38.2" x2="39.6" y1="404.4" y2="404.4" stroke="#333" stroke-width="0.5"/>
<text x="37.2" y="405.9" class="s" font-size="4.3" fill="#444" text-anchor="end" >0</text>
<line x1="38.2" x2="39.6" y1="431.1" y2="431.1" stroke="#333" stroke-width="0.5"/>
<text x="37.2" y="432.6" class="s" font-size="4.3" fill="#444" text-anchor="end" >−5</text>
<line x1="38.2" x2="39.6" y1="457.7" y2="457.7" stroke="#333" stroke-width="0.5"/>
<text x="37.2" y="459.2" class="s" font-size="4.3" fill="#444" text-anchor="end" >−10</text>
<line y1="474.9" y2="476.3" x1="66.3" x2="66.3" stroke="#333" stroke-width="0.5"/>
<text x="66.3" y="481.2" class="s" font-size="4.3" fill="#444" text-anchor="middle" >−4</text>
<line y1="474.9" y2="476.3" x1="110.4" x2="110.4" stroke="#333" stroke-width="0.5"/>
<text x="110.4" y="481.2" class="s" font-size="4.3" fill="#444" text-anchor="middle" >0</text>
<line y1="474.9" y2="476.3" x1="154.5" x2="154.5" stroke="#333" stroke-width="0.5"/>
<text x="154.5" y="481.2" class="s" font-size="4.3" fill="#444" text-anchor="middle" >4</text>
<line y1="474.9" y2="476.3" x1="198.6" x2="198.6" stroke="#333" stroke-width="0.5"/>
<text x="198.6" y="481.2" class="s" font-size="4.3" fill="#444" text-anchor="middle" >8</text>
<text x="122.2" y="487" class="s" font-size="4.4" fill="#444" text-anchor="middle" >UMAP_1</text>
<text transform="translate(26,415.6) rotate(-90)" class="s" font-size="4.4" fill="#444" text-anchor="middle">UMAP_2</text>
<text x="133.3" y="382.9" class="r" font-size="14.4" fill="#111" >RGs</text>
<circle cx="213.6" cy="394.3" r="1.4" fill="#f4756b"/>
<text x="219.4" y="395.9" class="s" font-size="4.6" fill="#333" >Glial</text>
<circle cx="213.6" cy="400.3" r="1.4" fill="#d3a11c"/>
<text x="219.4" y="401.9" class="s" font-size="4.6" fill="#333" >imNeuron1</text>
<circle cx="213.6" cy="406.3" r="1.4" fill="#8cb61e"/>
<text x="219.4" y="407.9" class="s" font-size="4.6" fill="#333" >imNeuron2</text>
<circle cx="213.6" cy="412.4" r="1.4" fill="#2dbe6c"/>
<text x="219.4" y="414" class="s" font-size="4.6" fill="#333" >IPC</text>
<circle cx="213.6" cy="418.4" r="1.4" fill="#2ec3c6"/>
<text x="219.4" y="420" class="s" font-size="4.6" fill="#333" >Neuron</text>
<circle cx="213.6" cy="424.4" r="1.4" fill="#3aa9f2"/>
<text x="219.4" y="426" class="s" font-size="4.6" fill="#333" >NPC</text>
<circle cx="213.6" cy="430.4" r="1.4" fill="#c88bf6"/>
<text x="219.4" y="432" class="s" font-size="4.6" fill="#333" >oRG</text>
<circle cx="213.6" cy="436.4" r="1.4" fill="#f36cc4"/>
<text x="219.4" y="438" class="s" font-size="4.6" fill="#333" >vRG</text>
<path d="M43.3 417.8C44.1 416 46 410 48.2 407.1C50.4 404.2 51.9 402.1 56.7 400.4C61.4 398.7 71.6 397.8 76.7 396.9C81.7 396 85.2 396.6 86.9 395.1C88.6 393.6 87.9 389.8 86.9 388C85.9 386.2 83.9 385.6 81.1 384.4C78.3 383.3 73 382.6 70 381.3C67 380 64.7 378.5 63.3 376.7C61.9 374.8 60.8 371.7 61.6 370.2C62.3 368.8 65.3 367.9 67.8 368C70.3 368.1 73.7 370.6 76.7 370.7C79.6 370.7 83.9 369.6 85.6 368.4C87.3 367.3 85.4 364.4 86.9 364C88.4 363.6 92.1 364.3 94.4 366.2C96.8 368.1 98.9 372.5 101.1 375.6C103.3 378.6 105.6 381.7 107.8 384.4C110 387.2 110.7 390.5 114.4 392.2C118.1 393.9 125.2 394.4 130 394.7C134.8 394.9 138.9 394 143.3 393.8C147.8 393.6 153 394.5 156.7 393.3C160.4 392.1 162.9 388.5 165.6 386.7C168.2 384.9 169 383.2 172.7 382.4C176.4 381.7 183.4 381.5 187.8 382.2C192.1 382.9 196.7 384.6 198.9 386.7C201.1 388.7 202.1 391.9 201.1 394.4C200.1 397 196.4 400.2 192.7 402.2C189 404.3 182.6 405.2 178.9 406.7C175.2 408.1 170.7 409.3 170.4 411.1C170.1 413 174.9 415.7 177.1 417.8C179.3 419.9 183 421.1 183.8 423.6C184.5 426 183.4 430.1 181.6 432.2C179.7 434.3 176.1 435.6 172.7 436C169.3 436.4 165.3 436 161.1 434.7C157 433.3 151.9 429.9 147.8 428C143.7 426.1 141.1 423.9 136.7 423.6C132.2 423.2 125.6 424.5 121.1 425.8C116.7 427 114.4 429.6 110 431.1C105.6 432.7 100 434.5 94.4 435.1C88.9 435.7 82.6 435.3 76.7 434.7C70.7 434 63.9 432.7 58.9 431.1C53.9 429.5 49.5 427.1 46.9 424.9C44.3 422.7 43.9 419 43.3 417.8" fill="none" stroke="#111" stroke-width="0.9" stroke-dasharray="2.6 1.7"/>
<filter id="bl2" x="-10%" y="-10%" width="120%" height="120%"><feGaussianBlur stdDeviation="0.9"/></filter>
<g filter="url(#bl2)" opacity="0.82">
<polygon points="49.2,531.7 52.6,523.2 61.6,519 69.4,517.5 78.4,519.5 87.4,518.3 93,520.7 100.8,516.6 106.4,521.9 109.8,529.3 114.7,539.1 109.8,542.7 105.3,537.8 100.8,531.7 89.6,529.3 82.4,531.7 83.3,541.5 87.4,547.6 88.5,555 78.4,556.7 67.2,553.3 56,551.8 49.7,545.2" fill="#b8b2dc"/>
<polygon points="78.4,531.2 88.5,528.1 97.5,529.3 104.2,537.8 109.8,552.5 106.4,556.7 97.5,553.3 90.1,555.7 87.8,546.9 81.8,541.5" fill="#8470dc"/>
<polygon points="58.6,564.8 69.4,560.6 85.1,560.1 100.8,559.6 116.5,558.9 132.2,556.7 116.5,562.1 103.1,566 85.1,568.9 69.4,568.9" fill="#8470dc"/>
<polygon points="48.1,577 52.6,565.5 69.4,567.7 85.1,568.2 100.8,566.2 105.3,578.2 110.9,588 100.8,594.9 85.1,596.6 69.4,593.4 56,588.5 49.2,583.6" fill="#8470dc"/>
<polygon points="100.8,566.5 112.1,566.5 123.3,572.9 128.9,579.5 119.9,586.8 110.3,590 105.3,579.5" fill="#8470dc"/>
<polygon points="164.1,566 168.2,556.2 174.9,547.6 186.1,544.9 197.3,547.6 201.4,553.8 192.8,561.6 181.6,567.5 170.4,571.4 165.9,569.9" fill="#8470dc"/>
<polygon points="145.3,581.2 156.9,577 168.2,579.5 182.1,585.6 184.3,592.9 177.6,598.3 165.9,595.9 154.7,590 147.5,587.5" fill="#8470dc"/>
<polygon points="97.5,630.9 103.1,628.9 112.1,628.7 121,630.1 124.4,633.3 119.9,636.3 110.9,637 102,635" fill="#8470dc"/>
</g>
<path d="M79.3 538.8h0M69.8 526h0M105.5 531.8h0M63.2 526.5h0M61.9 522.2h0M78 521h0M64.8 545.7h0M52.9 525.4h0M73.6 552.2h0M93.8 524.6h0M112.1 537.8h0M67.2 535.9h0M93.9 530h0M65.2 524.4h0M73.6 533.1h0M64.9 545.9h0M81.7 547h0M61.7 519.5h0M86.6 522.7h0M79.3 547.7h0M103.3 532.2h0M83.2 521.8h0M72.5 526.9h0M70.5 537.5h0M78 531.9h0M67.3 522.9h0M109.2 533.7h0M50.1 537.1h0M55.2 542.6h0M91.9 527.2h0M83.1 547.5h0M109.5 532.4h0M76.7 520.9h0M53.6 529.4h0M60.3 547.5h0M73.4 547.9h0M105.3 536.1h0M79.8 554.7h0M49.9 531.3h0M74.9 543.6h0M55.4 531.7h0M70.5 554.3h0M92 528.2h0M93.8 522.2h0M57.3 538.1h0M78.5 520.1h0M67.9 539.5h0M81.4 523.5h0M78.3 546.7h0M86.9 551.8h0M79.4 546.5h0M74.8 528.6h0M63.1 535.8h0M60.4 527.8h0M110.7 530.2h0M50.1 541.5h0M64.7 520.7h0M58.9 539.3h0M73.7 539.4h0M107 531.8h0M58 537.3h0M59.1 541.5h0M83 521.7h0M87.8 554.3h0M52.5 545.3h0M94 523.8h0M74.6 529.2h0M61.5 530.9h0M82.9 540h0M65.5 548h0M73.6 520.7h0M75.6 528.3h0M54.5 531.7h0M50.3 542.1h0M65.7 548.3h0M50.3 530.5h0M57.5 539.5h0M63 534.5h0M112.3 538h0M105.4 533.4h0M74.9 539.2h0M73.4 545.6h0M51 544.3h0M83.1 519.6h0M113.2 539.4h0M74.8 521.2h0M58.6 543.2h0M63.6 520.4h0M63 548.6h0M80.1 523.9h0M54.4 544.2h0M86.2 554h0M71.2 553.6h0M96.9 528.7h0M80.6 541.4h0M72.8 534.2h0M86.1 555.5h0M74 543.3h0M62.9 544.4h0M106.4 525.4h0M50.8 544.9h0M83.3 528.5h0M92.9 525.5h0M85.6 520.3h0M53.6 524.4h0M52.7 536.7h0M70 521.9h0M60.3 536.6h0M86.5 526.9h0M56.7 528.3h0M67.9 527.4h0M49.9 536.3h0M75.3 519.5h0M58.4 533.1h0M58.7 548h0M69.1 554h0M75.5 542.9h0M74.5 542.8h0M132.2 628.7h0M130.4 629.4h0M127 630.2h0M124.8 631.5h0M126.9 630.5h0M128.3 630.5h0M133.1 628.6h0M110.5 536.3h0M114.5 533.8h0M112.8 536.5h0" stroke="#7f69da" stroke-width="1.2" stroke-linecap="round" fill="none" opacity="0.95"/>
<path d="M82.7 540.7h0M82.6 542.3h0M109.3 535.4h0M54.1 541.4h0M55.7 529.7h0M62.2 546.5h0M56.9 533.8h0M64.8 541.1h0M111.3 535.5h0M65.5 523h0M54.1 537.4h0M55.4 542.2h0M50.9 540.7h0M106.6 531.8h0M58.6 535.7h0M70.4 550.2h0M69.7 548.4h0M103.7 526.2h0M49.9 535.2h0M75.2 548.2h0M57 534h0M110.9 534.9h0M64.4 552.5h0M84 549.3h0M105.7 530.8h0M71.3 548.4h0M83.4 545h0M63.5 538.5h0M86.2 524.5h0M80.7 529.9h0M100.4 517.8h0M56.5 546.3h0M62.2 541.4h0M96.3 519.8h0M49.5 530.3h0M66.3 532.8h0M113.2 539.3h0M60 536h0M72.9 527.5h0M67.8 545.4h0M58.7 547.5h0M99.3 518.5h0M77.7 535.7h0M88.4 520.8h0M78.7 526.8h0M98 526.8h0M66.8 533.5h0M73.8 536.2h0M99.3 525.3h0M101.5 530.2h0M70.9 532.2h0M65.2 531.4h0M81.4 537.4h0M100.5 524h0M61.4 526.1h0M88.3 525.9h0M101.2 531.9h0M54.6 527.2h0M102.8 524.8h0M59.4 550.3h0M73.7 538.6h0M61.3 532.1h0M74.4 529.9h0M76.3 544.6h0M50.1 530.4h0M57 550.7h0M85.4 519.7h0M75.1 533.5h0M98.3 528.7h0M69.3 532.6h0M77 549.7h0M87 553.3h0M62.8 542.9h0M97.5 528.5h0M95.6 520.9h0M74.1 542.7h0M64.8 528.3h0M68.4 543h0M100.1 523h0M67.3 540.7h0M60.8 527.4h0M53 533.3h0M79.2 554.3h0M61.4 538.9h0M105.6 524.9h0M75.3 526.2h0M69.4 533.5h0M58.7 525.5h0M76 531.8h0M68.4 530.5h0M62.8 543.2h0M77.7 532.5h0M75.9 536.3h0M75.3 531.4h0M107.6 540h0M60.6 534.6h0M56.3 545.2h0M96 526.2h0M71.6 546.3h0M81.2 521.5h0M86 522h0M62 551.4h0M102.6 532.7h0M78.2 549.7h0M72.5 547.4h0M84 548.3h0M75.7 548.1h0M111.4 532.3h0M86.7 526h0M108.9 529.7h0M72.7 533.9h0M62.3 552.6h0M95.4 524.4h0M90.7 524.4h0M74 525.4h0M105.8 525.1h0M54.2 538.3h0M63.3 541.3h0M60.9 521.2h0M73.3 524.4h0M79.4 528.7h0M53 535.5h0M98.2 520.5h0M105.1 520.5h0M59.2 548.6h0M59.7 537.9h0M70.2 535.3h0M75 528.2h0M72.9 533.9h0M80.9 525.2h0M49.9 532.9h0M103.4 530.6h0M53.5 547.4h0M85.3 553.7h0M98 520h0M56.2 522.4h0M85 550.9h0M77.1 530.7h0M56.4 546.9h0M108.5 534.9h0M98.3 521.5h0M71.8 522.4h0M62.1 537.9h0M68.2 550.6h0M57.8 536.4h0M101 527.4h0M73 548.7h0M51.8 539.4h0M50 535.8h0M83.5 555.1h0M103.6 533.3h0M66.1 552.1h0M68.9 529.1h0M74.4 519h0M110 537.1h0M86.8 527.1h0M54.5 536.6h0M65.4 552.8h0M85.1 554.6h0M67.9 550.3h0M106.6 529.7h0M100.9 525h0M70.2 528.2h0M70.5 527.7h0M73.1 537.5h0M76.4 533.4h0M77.6 543.5h0M106.9 526.2h0M83.8 524h0M76.5 521h0M56.9 533.3h0M52.4 545.2h0M75.3 553h0M68.6 547.7h0M106.2 535.5h0M75.5 543.1h0M65.2 544.6h0M66.7 539.2h0M67.9 549h0M53.9 527.9h0M64.5 542.5h0M70.8 534.6h0M64.2 531.9h0M72.5 531.4h0M104.3 535.4h0M68.5 523.5h0M76.3 537.7h0M58.8 532h0M85.4 554.6h0M61.1 534.7h0M63 534.4h0M58.7 524.7h0M103.1 523.4h0M81.7 555.8h0M79.3 549.9h0M106.8 531.9h0M62.5 542.5h0M89.5 524.4h0M100.1 518.8h0M95.4 526h0M85 551.1h0M83.4 521.1h0M71.4 520.7h0M67.4 534.8h0M74.6 553.6h0M107.4 536.1h0M53.6 544.2h0M111.1 542.1h0M52.3 537.3h0M71 532.7h0M79.8 521.5h0M73 542.9h0M126.7 630.9h0M133 628.6h0M130.7 628.2h0M130.1 629.8h0M131.1 629.1h0M131.4 629.5h0M125.2 631.1h0M106.3 535.7h0M109.5 536.1h0M109.1 540h0M107.2 540.9h0M109.6 539.7h0M106.9 538.3h0M108.9 539.5h0M108.3 535h0M106.4 536h0M113.5 534.5h0M106.4 539.2h0M107.3 538.4h0" stroke="#9f8fe0" stroke-width="1.2" stroke-linecap="round" fill="none" opacity="0.95"/>
<path d="M56.1 529.2h0M84 519.3h0M50.4 535.5h0M80.7 527.7h0M57.1 526.5h0M101 523.5h0M69.3 552.6h0M69.1 519.8h0M88.6 529h0M89.7 527.6h0M60.6 531.2h0M49.9 542.2h0M73 543.5h0M76.9 547.8h0M78.7 550.6h0M69 544.1h0M77.9 553h0M62.6 532.8h0M67 523.5h0M62.9 532.8h0M66.9 529.9h0M74.5 538.8h0M85.2 547.4h0M102.3 518.8h0M111.4 536.3h0M70.2 531h0M63.4 550.6h0M105.3 525h0M108 530.3h0M103.8 533.2h0M75.9 544.1h0M61.1 534.3h0M61.9 523.2h0M73.8 521.6h0M101.6 519.1h0M110.6 533.3h0M83.4 553.6h0M98.6 525.5h0M85.3 519.8h0M94.2 528.4h0M63.5 543.3h0M73.1 520.6h0M75.3 532.7h0M61.1 546.7h0M101.2 518.9h0M83.7 544.6h0M74 523.8h0M87.7 553.1h0M66.6 551.9h0M84.8 555h0M92.8 526.1h0M59.4 523.2h0M67.1 538.7h0M81.3 535.2h0M105.5 528.2h0M53.5 529h0M73.1 544.4h0M101.3 524.6h0M97.7 529.6h0M96.7 529.7h0M55.3 525.9h0M76.3 519.2h0M82.8 541.6h0M60.1 547h0M72.8 537.2h0M90.6 524.7h0M87.1 526.3h0M65.1 539.3h0M74.3 540.2h0M62.6 535.7h0M86.2 523.5h0M86.4 529.8h0M79.5 532.5h0M77.5 553h0M56.9 534.5h0M52.3 544.4h0M65.1 528.7h0M75.1 530.8h0M70.5 536h0M79.9 525.9h0M103.9 530.8h0M95.9 524.8h0M77.9 537.7h0M88.5 528.9h0M54.9 527.6h0M78.7 547.4h0M72.9 542.4h0M82.1 549.9h0M64.8 536.8h0M49.9 536.7h0M67.3 549.1h0M101.3 526.4h0M51.6 528.8h0M81.5 547.1h0M64 526.6h0M51.7 532.6h0M72.1 543.9h0M106.6 535.7h0M74.3 548.4h0M95.9 527.6h0M71.1 532.5h0M70.4 547.5h0M95.4 526.3h0M106 525.8h0M70.7 536.8h0M52.4 536.2h0M71 526.8h0M76 534.1h0M61.7 525.4h0M74.4 526.2h0M86.4 549.8h0M71.7 552.9h0M73.4 527.4h0M64.6 526.8h0M60 551.2h0M66 536.5h0M57.3 531.4h0M68.2 545.9h0M74 528.1h0M67.2 531.7h0M101.7 522.7h0M63.9 536.2h0M108 529.1h0M72.9 542.5h0M97.8 524.4h0M77.5 555.7h0M79.9 556h0M76.5 552.4h0M81.7 525.4h0M65.1 549.1h0M85.3 552.6h0M56.2 524.5h0M62.1 543.4h0M71.2 528.9h0M58.3 521h0M69.9 533.5h0M76.6 549.8h0M82 555h0M64.4 540.8h0M67.8 550.4h0M110.4 531.5h0M68.3 544.1h0M76.5 521.6h0M77.2 529.4h0M63.2 531.8h0M57.9 535.5h0M56.3 548.8h0M82.8 528h0M52.5 533.4h0M110.3 539.3h0M78.2 534.9h0M52.8 537.6h0M63.5 520.8h0M72.9 540.9h0M69.1 536.4h0M65.9 526.9h0M78.8 534.4h0M86 554.1h0M81 544.8h0M62.7 530.8h0M94.9 526.7h0M87.7 527.2h0M102.1 520.1h0M84.3 527.1h0M67.6 536.8h0M74 545.6h0M86.7 521.3h0M83.4 530.8h0M80.5 519.8h0M72.3 544.2h0M66 540h0M64.7 552.2h0M65.9 535.4h0M64.8 543.4h0M54.4 547.5h0M74.7 530.1h0M71.1 548.6h0M80.9 549.5h0M63.7 551.5h0M72.1 554.5h0M111.3 534.9h0M53.8 524.1h0M69.7 524.3h0M79.6 540.3h0M60.6 546.2h0M51.6 526.7h0M80 542h0M76.2 538.3h0M68.1 523.1h0M87.8 522.7h0M55.2 544.7h0M81.4 553.5h0M66.5 539.2h0M78.3 519.6h0M62.5 524.4h0M101.9 523.2h0M50.3 537.8h0M90 521.4h0M74.7 530.8h0M98.2 527.2h0M65.2 529.8h0M59 539.5h0M53.7 526.9h0M75.4 542h0M53.8 532.3h0M57.2 529.7h0M77.8 543.6h0M72.1 545.2h0M99.2 526.7h0M53.5 539.1h0M74.7 539.4h0M100.2 528.4h0M60.7 541.2h0M103.4 532.3h0M65.7 523.8h0M66.5 536.1h0M77.6 548.9h0M60.4 530.5h0M53.1 544.8h0M70.2 535.9h0M69.5 540.6h0M75.8 532.2h0M69.1 517.2h0M54.6 526.4h0M99.7 519h0M80.1 555.4h0M103.1 526.4h0M59 523.1h0M58.6 539.3h0M75.1 538.2h0M73.9 545.5h0M61.8 531.7h0M73.9 540.6h0M87.9 552.3h0M58.4 532.7h0M70.5 541.4h0M66.3 530.9h0M104.5 524.4h0M76.5 529.6h0M94.4 521.4h0M62.6 541.4h0M76.3 523.3h0M51.9 534.3h0M106.4 538.3h0M67.7 547.2h0M82.8 537.1h0M80.8 530.9h0M77.7 529.2h0M65.4 539h0M74 523.5h0M57.1 544.4h0M56.2 548.4h0M125.6 630.7h0M131.7 628.8h0M125.4 631.1h0M131.2 628.6h0M127.9 630.3h0M130.4 629.4h0M132.4 628.8h0M126.7 630.4h0M107.6 536.3h0M111.2 534h0M107.5 536.4h0M110.6 538.8h0M104.9 540.3h0M108.5 535.2h0M111.1 535.1h0M111.1 535.7h0M108.7 534.9h0M114.6 537h0" stroke="#c6c6d2" stroke-width="1.2" stroke-linecap="round" fill="none" opacity="0.95"/>
<path d="M90.7 532h0M82.3 529.6h0M97.7 537.3h0M81.2 530.9h0M106.6 554.7h0M93.1 550.1h0M99 539.8h0M102.4 551.4h0M82.3 533.8h0M82.4 538.9h0M90.1 529.2h0M84.4 536.3h0M105.9 542.8h0M87.3 528.1h0M102.2 541.6h0M101.2 545.1h0M93.4 550.1h0M89.8 530.3h0M106.9 552.2h0M92.5 546.2h0M86.1 534h0M87.8 530.7h0M93.7 535.7h0M89.3 547.4h0M86.1 534.2h0M107.9 551.4h0M84.6 540.4h0M89 530h0M99.5 553.6h0M104.3 554.2h0M105.7 550.1h0M88.4 539.8h0M87.2 542h0M94.9 535.7h0M106.3 555.4h0M81 530.8h0M101.7 543.2h0M104 542.3h0M100.7 548.9h0M89.2 550.4h0M100.1 533.9h0M101.9 536.1h0M107 554.5h0M89.3 530.7h0M92.2 530.3h0M97.9 542.2h0M83.8 542.3h0M98.8 551.3h0M104.7 551.5h0M92.7 552.7h0M98.2 535.5h0M87.7 538.1h0M97.8 545.2h0M95.7 534.4h0M91.5 552.1h0M106.1 555.8h0M95 541.8h0M98.2 544.9h0M99.9 544.5h0M83.4 542.9h0M98.6 541.6h0M92.7 553.4h0M91.9 539.9h0M92.1 548.6h0M91.7 539.3h0M78.5 533.1h0M79.2 532.8h0M85.7 538.8h0M84.8 541.8h0M94.4 548.5h0M95 533.5h0M99.6 537.1h0M91.2 550.2h0M84.4 530.6h0M96.7 540.8h0M99 539.3h0M106.4 555.6h0M98.7 534.8h0M102.3 549.9h0M103.9 539.8h0M89.7 528.9h0" stroke="#8a77de" stroke-width="1.2" stroke-linecap="round" fill="none" opacity="0.95"/>
<path d="M89.6 542h0M91.7 535.9h0M106.2 545.1h0M94.3 539.8h0M100.2 543.5h0M81.5 532.3h0M103.3 536.8h0M80.6 535.1h0M92.8 535.2h0M82.1 533.6h0M100.6 550.5h0M92.4 538.9h0M100.5 537.3h0M108.4 552.1h0M90.4 537.5h0M84.7 531.2h0M87.6 541.4h0M102.9 553.7h0M88.3 540.1h0M88.1 539.8h0M89.2 534.6h0M90.9 544.1h0M93.8 539h0M87.8 536.7h0M92.5 543.1h0M106.2 548.4h0M94.3 544.5h0M90.5 555.8h0M101.5 552.8h0M82.2 541.5h0M81.4 537.9h0M93 544.7h0M100.9 540.8h0M96.1 529.3h0M94.2 553.6h0M106.8 548.3h0M90.9 535.4h0M92 547.6h0M97.2 548.7h0M98.1 545.8h0M105.1 545.9h0M90.7 535.7h0M84.5 543.3h0M95 530.3h0M103.8 549.5h0M105.8 549.4h0M98.8 546.3h0M86.4 534.9h0M89.6 546.3h0M96.2 539.8h0M97 530h0M98 545.8h0M85.8 534.5h0M95.7 531.1h0M90.3 554.3h0M91.9 545.5h0M94.4 530h0M86.1 539.3h0M95.6 542.3h0M100.4 535h0M87.8 544.3h0M104.1 554.2h0M82.2 531.5h0M103.8 552.1h0M89.3 529.1h0M106 555.2h0M104.4 548.8h0M92.4 529h0M91.1 532.3h0M81.9 530.4h0M104.8 545.1h0M99 546.3h0M92.5 552h0M86.1 529.2h0M99.1 554.6h0M96.4 535.1h0M96.1 535.2h0M81 534.9h0M84.2 530.3h0M97 536.7h0M97.8 543.4h0M90 539.7h0M91.1 530.6h0M101.1 545.2h0M101.3 544.9h0M93.4 543.3h0M93.9 536.6h0M98.1 540.8h0M95.5 538.4h0M96.3 543.9h0M88.9 542h0M105.8 544.6h0M96.9 531h0M97.2 549.5h0M84.6 535.1h0M92.1 542.6h0M92.5 551.2h0M102.4 542.3h0M94.4 531.9h0M90.7 534.9h0M100 539.6h0M86.8 536.4h0M98.2 531.7h0M93.9 550.6h0M100.1 544.1h0M100.1 553.8h0M92 539.7h0M92.3 540.5h0M106.8 555.5h0M81.2 536.3h0M104.5 552.5h0M80.5 538.9h0" stroke="#7660d6" stroke-width="1.2" stroke-linecap="round" fill="none" opacity="0.95"/>
<path d="M98.3 551.3h0M91.8 541.2h0M102.7 544h0M99.5 546.7h0M91 552.2h0M102.7 552.1h0M93.2 541h0M83.7 535.4h0M106.9 550.1h0M101.4 534.6h0M97.2 543.3h0M101 540.2h0M96.3 535.5h0M97.5 540.8h0" stroke="#c9c6dc" stroke-width="1.2" stroke-linecap="round" fill="none" opacity="0.95"/>
<path d="M80.2 565.1h0M96.5 566.3h0M85.4 560.7h0M90.1 562.1h0M91.3 561.2h0M94.9 559.8h0M98 561.4h0M90.2 564.6h0M84 565.3h0M92.5 559.7h0M72.1 568.9h0M92.9 565.4h0M63.8 565h0M104.8 564.7h0M92.1 561.5h0M99.7 565.3h0M60.3 563.7h0M73.6 563.1h0M107.3 561h0M97.7 561h0M66.8 567.4h0M83.7 565.1h0M90.6 560.2h0M74.4 563.7h0M84.4 567.9h0M101.5 560.4h0M103.8 559.8h0M85.5 560.6h0M95 567.2h0M115.9 560.6h0M77.4 562.2h0M72.4 563.5h0M73.5 564.7h0M96.8 562.8h0M90.2 565.9h0M68.2 562.9h0M98.9 566.8h0M84 562.7h0M89.2 560.9h0M75.1 565.3h0M124 558.8h0M113 561.5h0M88.8 567.3h0M93.3 564.3h0M80.2 561.4h0M124.1 558.7h0M96.5 566.1h0M83.8 562h0M95.3 562.7h0M87.9 567.5h0M78 566.4h0M90.4 564.1h0M100 562.3h0M83.2 561.9h0M72.8 562.2h0M64.1 564.3h0M105.4 562.1h0M108.8 564.2h0M81.6 563.2h0M64.7 563.8h0M72.2 560.6h0M84.9 569h0M109.6 562.3h0M75.6 565.3h0M120.7 559.4h0M142.4 559.5h0M137.4 558.3h0M132.3 559.5h0M125 559h0M143.5 559.3h0M141 559.2h0M135.1 558.1h0M121.2 557.2h0M136.1 561.2h0M134.9 558.7h0M140.5 558.6h0M134 561.7h0M128.1 560.8h0M129.2 560.3h0M119.9 558.8h0M122.5 559.3h0M119.3 558.3h0" stroke="#8a77de" stroke-width="1.2" stroke-linecap="round" fill="none" opacity="0.95"/>
<path d="M62.4 563.4h0M89.4 567.5h0M122.8 559.5h0M73.2 565.3h0M98.7 559.9h0M84.8 564.1h0M103.2 565.8h0M84.3 568.2h0M86.8 561.7h0M71.1 562.1h0M83.6 566h0M69.6 565.5h0M98.2 564.8h0M82.2 565.6h0M65.8 565.7h0M87.7 567.1h0M98.3 565.3h0M70.7 564.8h0M80.2 561.5h0M90.5 563.3h0M103.5 562.7h0M61.8 563.6h0M106.1 566.1h0M90.4 562h0M110.3 559.2h0M71.4 560.6h0M70.5 565.3h0M78.9 567.4h0M59.9 563.2h0M107.8 562.4h0M85 565.6h0M62.7 565.4h0M79.1 563.2h0M93.6 560.8h0M78.9 564.9h0M115.8 562.2h0M94.5 564.8h0M65.9 566h0M109.2 560.7h0M99.1 564.8h0M121.4 559.9h0M103.7 564.2h0M63.7 564.3h0M71.9 562.3h0M101.9 564.6h0M64.9 563.8h0M75.9 562.1h0M80.9 560h0M100.8 560.8h0M64.9 564.5h0M67.4 564.9h0M103.7 563.6h0M69.2 562.4h0M62.8 565.9h0M78.8 562h0M68.2 567.8h0M71.9 567.4h0M114 560.9h0M106 559.7h0M95.3 567.2h0M76.4 568.7h0M74.2 567.7h0M78.3 566.4h0M89.4 563.3h0M89.2 567.9h0M116.9 561h0M80.9 566.3h0M111.2 560.4h0M122.5 560.7h0M120.2 560.9h0M105.3 561.1h0M75.3 563.9h0M113.1 559.2h0M84.1 562.7h0M70.6 564.4h0M126 560.4h0M137.9 559.9h0M118.6 557.5h0M132.7 560.3h0M140.7 560.4h0M122 559.2h0M127.8 557.6h0M140.6 558.6h0M127 559.3h0M133.4 558.2h0M116.9 560.1h0M118 559.7h0M121.7 558.2h0M128.5 559.2h0M129.3 559.5h0M124.8 558.8h0M137.3 557h0M119.6 558.6h0M125.3 559.2h0M133.6 559.6h0M123.3 559.1h0M120.7 559.1h0M119.6 558.5h0M142.4 558.7h0M142.8 559.2h0M121.4 559.1h0M118 559.2h0M122.4 559.8h0M134.8 559.5h0M120.6 558.8h0M127.9 561.4h0" stroke="#7660d6" stroke-width="1.2" stroke-linecap="round" fill="none" opacity="0.95"/>
<path d="M66.6 566.1h0M103.7 564.4h0M87.2 561.4h0M67.6 566.6h0M63.4 563.5h0M68.5 562.8h0M127 557.7h0M72.7 561.7h0M73.3 563.7h0M98.5 566.6h0M68.6 567.4h0M63.6 563.3h0M85.1 568.1h0M130.5 559h0M125.7 559.3h0" stroke="#c9c6dc" stroke-width="1.2" stroke-linecap="round" fill="none" opacity="0.95"/>
<path d="M95.8 589.5h0M98.3 585.6h0M99.8 570.7h0M100.9 580.7h0M48.8 577.9h0M102 572.5h0M96.7 586.3h0M74.1 579.5h0M73.7 581h0M60.1 571h0M73.1 592.7h0M96.5 572.2h0M80.1 578.3h0M91.2 584.1h0M63.1 583.8h0M102.4 582.5h0M84.8 594.9h0M103.5 580.9h0M89.7 568.4h0M66.1 582.6h0M88.4 589.5h0M85.8 582.1h0M86.7 588.9h0M53.1 579.3h0M79.2 580h0M75.9 584.6h0M50.1 574h0M71.6 575.1h0M59.1 581.3h0M94.8 580.7h0M55.1 575.2h0M74.5 569.4h0M101.4 589.5h0M81.2 568.5h0M79.1 574.9h0M64.5 574.7h0M84.1 581.7h0M61.5 583h0M88.6 568.7h0M85.4 592.7h0M74.2 582.8h0M80.5 578.6h0M106.9 582.9h0M53.6 577h0M67.7 573.8h0M93.7 574.9h0M91.1 573.3h0M79.4 573.9h0M100.7 573.2h0M103.7 579.6h0M74.3 578h0M81 589.3h0M89.4 573.7h0M93.3 589.8h0M81.7 570.9h0M64.7 585.1h0M98.1 576.1h0M51 572.2h0M74 594.4h0M105.4 579h0M101.4 587.4h0M55.7 581.5h0M78 591.5h0M65.4 570.8h0M48.5 582.4h0M70.6 591.6h0M102.5 578.5h0M95.2 576.8h0M59.3 586.3h0M77.1 594.2h0M93.6 590.1h0M101.4 592.6h0M110.1 587.9h0M68.6 576h0M107.5 584.8h0M81.7 581.3h0M53.2 578.9h0M106.2 583.8h0M79.2 580.4h0M91.1 590.7h0M101.8 579.2h0M100.2 573.3h0M83.4 586.4h0M90.3 571.5h0M64.4 568.6h0M66.4 575.9h0M65.8 586.4h0M100.7 585.4h0M100.1 593h0M99.3 568.8h0M68.6 572.6h0M83.4 580.3h0M77.5 589h0M88.5 588.7h0M59 581.1h0M64.7 570.9h0M87.2 568.2h0M65.4 567.2h0M65.9 572.7h0M80 569h0M68.7 575.5h0M66.8 576h0M67.8 587.3h0M101 589.3h0M61 569.8h0M71 590h0M100.2 587.8h0M58 577.1h0M63.2 585.2h0M60.4 589.9h0M61.1 586.4h0M72.9 578h0M100.1 576.8h0M66.1 574.1h0M55 569.6h0M71.9 569.2h0M91.2 582.8h0M82.7 578.3h0M97 592.4h0M82.2 572.6h0M67 578.5h0M82.8 574h0M78 582.4h0M61.1 580.1h0M73 580.9h0M61.8 586.2h0M90.1 584.5h0M71.6 591h0M51.5 574.3h0M94.1 582.2h0M78.2 585.3h0M87.7 584.2h0M75.2 580.6h0M99.3 587.6h0M84.6 569.7h0M90.5 573.1h0M97.6 578.5h0M68.8 570.7h0M86.9 580.2h0M107 582.2h0M80.6 580.6h0M62.3 582.9h0M60.4 574.6h0M71.7 573h0M86.1 582.7h0M101.2 582.1h0M79.2 595.2h0M95.8 579.7h0M104.3 579.1h0M88.3 587.7h0M99.9 592.6h0M100.5 571.3h0M54 570.5h0M84 581.9h0M89.1 570.1h0M54.4 567.4h0M78.7 585.5h0M54 571.6h0M56.3 585.6h0M84.7 582h0M78.8 584.2h0M88.5 586.7h0M55 580.8h0M88.4 581.5h0M95.2 577.9h0M99.5 571.6h0M78.3 584h0M78.1 574.3h0M97 579.4h0M107.8 585h0M83.7 587.4h0M65 590.4h0M57.2 578h0M96.4 585h0M90.5 594h0M77.1 582.9h0M69.1 578.9h0M60.5 583.5h0M97.4 572.1h0M69.1 569.6h0M94.8 572.9h0M62.5 585.7h0M53.5 576.7h0M80.5 594h0M85.1 595.6h0M77.5 572.3h0M62.5 579.4h0M93.6 568.3h0M101.9 586h0M66.6 578.5h0M60.7 573.7h0M82.1 579.7h0M70.3 580.7h0M99.9 593.2h0M96.1 582h0M69.5 585.5h0M87.9 593.3h0M52.4 566.9h0M96.7 578.4h0M85.6 587.6h0M99.8 578.7h0M91.1 588.5h0M100.7 573.4h0M99.6 566.3h0M74.7 583.7h0M100.8 567.6h0M60.9 568.6h0M51.7 571.6h0M79.9 586.6h0M83.5 590.4h0M94 590h0M84.2 579.5h0M95.8 570.2h0M76.2 589.6h0M62 588.4h0M65.9 568.7h0M53.4 566.2h0M93.6 593.1h0M84.8 579.5h0M67.4 575.8h0M68.8 588.1h0M97.2 576.1h0M80.6 593.2h0M78.5 586.8h0M94.9 571h0M67.9 581.9h0M100 571.1h0M97 587.3h0M61.1 568.9h0M60.5 570.5h0M74.1 576h0M82.1 579.2h0M105.3 584.9h0M95.1 578.1h0M75.3 567.5h0M60.9 571.4h0M69.6 579.2h0M96.7 586.9h0M88.7 585.6h0M106.3 586.2h0M65.5 579.6h0M72.3 580.1h0M85 588.3h0M85.9 584.6h0M106.4 588.6h0M70.9 574.1h0M53.9 583.1h0M93.8 594.3h0M89.7 594.4h0M68.1 583.6h0M82.8 593h0M102.6 591.4h0M63.7 585.8h0M79.3 583.3h0M93.8 590.9h0M94 593.9h0" stroke="#7660d6" stroke-width="1.2" stroke-linecap="round" fill="none" opacity="0.95"/>
<path d="M84 594.4h0M76.1 592h0M106.9 589.8h0M68.3 575.7h0M66.3 577.2h0M81.6 588h0M90.9 591.8h0M58.1 569.8h0M92.6 582.3h0M74.2 572.4h0M93.3 595.6h0M58.4 572.6h0M70.2 588.7h0M79.4 584.7h0M58.7 583.5h0M97 592.2h0M81.9 571.3h0M60.2 577.1h0M76.7 575.2h0M95.1 583.8h0M61.3 567.6h0M101.4 590.5h0M65.6 571h0M83.1 595.4h0M85.9 578h0M90.6 576.2h0M91 580.4h0M89 570.8h0M56.1 584.9h0M99.9 579.9h0M55.3 587.4h0M76 591.7h0M55 579.4h0M72.8 586.7h0M82.7 578.3h0M65.6 572.1h0M74.9 579.8h0M84.4 584.8h0M54.8 572.2h0M70.5 593.3h0M104.5 584.6h0M68.8 575.9h0M95.5 579.4h0M79.7 576.2h0M105.1 580.2h0M103.4 582.3h0M76.5 574h0M95.1 569.8h0M98.3 570.9h0M49.9 577.9h0M104.9 587.9h0M55.4 572.9h0M73.6 569.9h0M59.1 582.6h0M90.8 569.1h0M78.3 573.1h0M86 588.2h0M82.4 574.5h0M97.2 574.7h0M73.2 593.3h0M70.3 572.9h0M91.1 587.9h0M96.1 576.1h0M69.8 587.5h0M89.6 592.9h0M91.9 580.6h0M70 576.2h0M110.4 587.1h0M87.8 572.7h0M82.6 580h0M91.1 569h0M65.9 574.3h0M61.2 577.4h0M81.7 570h0M79.4 589h0M67.5 581.3h0M81.9 578.8h0M71.3 578.5h0M107.9 583.3h0M71.2 581.3h0M62.4 583.6h0M56.1 571.2h0M59.9 581.2h0M56.8 573.8h0M58.1 578.8h0M59.6 576.7h0M59.2 569.3h0M84.2 570.2h0M70.6 586h0M60.7 587.6h0M76.6 570.2h0M89.1 573.5h0M101.6 579.5h0M64.3 580.5h0M58.7 580.1h0M90.7 582.8h0M92.6 572.9h0M61.5 590h0M58.3 578.4h0M67.5 572.9h0M101.1 581.6h0M90.4 595.8h0M52.2 585.6h0M91.4 570.7h0M68.1 590.8h0M96.4 585.2h0M57.3 572.2h0M70.9 587.8h0M64.3 578.5h0M92.4 567.2h0M79.5 576.7h0M73.7 591.2h0M72.8 582.2h0M69.6 590.2h0M77.1 581.9h0M77.1 580.4h0M59.5 574.1h0M65.9 569.4h0M76.5 580.6h0M50.3 574.5h0M88.5 595.3h0M86.3 581.8h0M64.9 575.1h0M106 579.8h0M104 580.3h0M95.3 595.2h0M78.2 594.7h0M73 577.6h0M89.2 584.7h0M91.8 587.9h0M87.2 591.3h0M62.1 581.8h0M86.3 595.5h0M67.5 580h0M62.7 588.4h0M98.6 590h0M95.5 584.1h0M68.2 583.2h0M104.4 582.6h0M74.9 578.9h0M96.6 587.7h0M103.5 586.3h0M95.1 587h0M86.1 575.4h0M70.7 580.8h0M62.3 572.9h0M88.5 572.8h0M105 584.8h0M59.2 576.1h0M55.8 571.3h0M60.6 582.4h0M83.2 587h0M82.7 572.5h0M62.1 571.2h0M67.1 568.1h0M98.3 593h0M74.7 587.1h0M70.1 573.6h0M93.3 571.8h0M82.8 585.2h0M103.8 587.7h0M94.8 568.4h0M96.9 574.3h0M97.9 568.9h0M97.8 593.9h0M69 584.5h0M79.7 579.5h0M84.1 587.5h0M73 571.4h0M53.4 576.7h0M105 592.4h0M50.9 580.1h0M50.3 584.6h0M93.2 572h0M68.4 575.1h0M74 567.9h0M82.5 573.5h0M63.5 571.8h0M93.8 579.6h0M59.5 581.7h0M82.8 574.3h0M103.1 591.4h0M90.6 587.5h0M96 571.1h0M76.9 580.8h0M75.3 587.6h0M72.9 580.4h0M63.6 573h0M69 589.4h0M97.5 590.1h0M64.1 578.5h0M82.7 583.3h0M80.2 582.8h0M61.1 589.9h0M75.7 584h0M75.7 586.3h0M55.8 582.2h0M64.4 591.8h0M96.6 570.1h0M52.3 575.6h0M75.6 591.4h0M84.4 583.7h0M64.3 569.7h0M59.3 571.4h0M59.8 577.2h0M86.4 569.7h0M72.1 586.7h0M56.2 573.7h0M59.2 577.8h0M77 578.7h0M74.2 594h0M84 596.7h0M89.8 571.8h0M80.9 571.8h0M57.5 575h0M86.9 577.1h0M53.3 580h0M97.1 574.9h0M92.7 595.1h0M95.4 571.4h0M109.1 586.3h0M82 581.6h0M70.2 589h0M78.1 571.1h0M56.7 571.2h0M94.3 569.4h0M90.9 595.6h0M96.3 589h0M50.5 578.3h0M105.4 586.6h0M76.1 590.9h0M62.9 585h0M68.3 568.8h0M57.4 579.5h0M78.5 582.5h0M58.6 582.1h0M88.4 595h0M92.7 589.7h0M88.5 583.1h0M53.3 578.3h0M72.1 572.6h0M91.3 584.7h0M66.6 584.5h0M60.6 577.8h0M91.7 582.6h0M77.4 570.9h0M99.4 574.1h0M65.9 589.4h0M73.5 592h0M58.6 574.2h0M86.5 594.3h0" stroke="#8a77de" stroke-width="1.2" stroke-linecap="round" fill="none" opacity="0.95"/>
<path d="M71.1 568.4h0M108.3 588.2h0M88.7 571.1h0M63.6 585.6h0M66.9 582.4h0M60 584.5h0M51.2 582h0M100.8 576.8h0M84.8 571.3h0M96 584.6h0M51.3 584h0M92.3 583.1h0M64.4 576.5h0M56.3 577.7h0M74.2 586.1h0M59.7 581h0M64.4 569.8h0M80.2 574.2h0M55.5 568.1h0M77 589.4h0M53.3 575h0M78.9 580.9h0M70.2 589.6h0M97.1 585.4h0M57 578.8h0M95.6 572.9h0M91 587.7h0M89.9 583.6h0M58.9 576.4h0M108.8 585.6h0M56.3 575.5h0M48.6 576.6h0M68.4 590.1h0M92.8 578.6h0M65.2 579.7h0M54.8 586.7h0M67.9 567.8h0M59.5 582.4h0M97.7 572.9h0M87 584.6h0M83.6 582h0M72.7 588.7h0M56.6 566.5h0" stroke="#c9c6dc" stroke-width="1.2" stroke-linecap="round" fill="none" opacity="0.95"/>
<path d="M114.1 569.4h0M119.9 578.2h0M121.9 579.6h0M110.2 575.3h0M112 584.7h0M106.8 575.2h0M105.1 567.5h0M119 580.9h0M112.8 582.7h0M111.4 576.6h0M112.9 574.3h0M110.5 575.2h0M109.3 571.8h0M117.9 584.7h0M122.8 576.9h0M110.1 581.7h0M111.2 568.5h0M121.9 577.4h0M108 568.7h0M111.4 589.8h0M107.1 573.6h0M118.4 578.3h0M106.6 569.5h0M109.1 567.8h0M116 585.3h0M112.8 574.3h0M107.2 569.1h0M110.8 575.9h0M112 576.9h0M119.6 586.5h0M106.7 579.6h0M120.8 577.6h0M112.4 588.4h0M108.6 586.6h0M126.1 575.5h0M108.5 569.2h0M110.7 575.1h0M115.8 581.9h0M122.2 572.3h0M113.5 577.2h0M107.8 578.4h0M112.1 590.3h0M102.8 573.8h0M110 578h0M118.5 582.6h0M109.4 586.3h0M117.3 581.3h0M107.1 569h0M114.4 570.6h0M103.1 566.7h0M119.3 572.6h0M119.9 577.4h0M106.2 577.5h0M113.4 582.5h0M117.4 573.3h0M126 576.3h0M117.2 581.7h0M108.1 572.4h0M110 590.3h0M112.2 585.1h0M116 569.1h0M109.2 571h0M113.7 584.5h0M105.3 577.1h0M114 585.8h0M121.8 575.4h0M103.2 571h0M111.7 588.9h0M112.5 582.5h0M117.6 585.1h0M109.7 581.4h0M113.1 583.7h0M109.1 580.9h0M117.7 585.7h0M115 569.2h0M110.4 571.2h0M107.3 567.7h0M108.2 577.6h0M134.8 580.1h0M130.4 580.6h0M148.4 582.5h0M142.9 581.4h0M132.2 579.4h0M131 580.2h0M130.4 577.2h0M126 584.4h0M137.2 581.1h0M140.2 581.2h0M126.8 576.3h0M127.4 580.2h0M145.1 582.9h0M147.3 579.5h0M140.4 581.7h0M136.9 580h0M124.8 582.4h0" stroke="#8a77de" stroke-width="1.2" stroke-linecap="round" fill="none" opacity="0.95"/>
<path d="M113.5 569.6h0M115.4 572.3h0M105 576.3h0M123 576.5h0M105.9 580.6h0M105.1 579.4h0M107.9 574.5h0M104.1 571.6h0M109.5 574.6h0M117.2 571.3h0M119.3 585.1h0M113.6 577.2h0M111 578.3h0M110.3 569.5h0M106.9 580.6h0M109.9 585h0M121.7 576.5h0M109.9 566.7h0M114.5 587.9h0M122.4 573.7h0M117.1 586.7h0M114.5 584.9h0M111.9 566.2h0M109.6 586.7h0M112.7 571.4h0M113.7 572.5h0M125.7 578.4h0M116.4 587.9h0M117.1 573.2h0M115.6 571.2h0M122.7 576.2h0M111.1 573.1h0M117.6 579.8h0M122.7 576.1h0M124.5 575.7h0M119.6 580.6h0M113.2 567h0M120.8 580.2h0M111.4 579.4h0M110.6 586.6h0M104 567.9h0M115 571h0M117.2 571.2h0M107.7 584h0M117.2 581.4h0M111.9 571.2h0M115.1 570.1h0M107.4 567.7h0M117.1 578.5h0M116.2 580.6h0M106 574.5h0M107.3 568.9h0M122.2 576.3h0M110.4 585.3h0M111.5 588.8h0M113.4 567h0M111.2 577.2h0M109.1 579.4h0M110.8 577h0M144.7 582.5h0M122.2 578.5h0M140.3 580h0M136.3 581.2h0M127.7 577.8h0M120.8 574.6h0M139.8 582.1h0M134.2 577.4h0M126.8 581.5h0M139.4 582.5h0M120.7 574.1h0M140.8 582.8h0M121.2 573.5h0M134.1 575.6h0M147 583.6h0M142.9 580.5h0M141.2 583.6h0" stroke="#7660d6" stroke-width="1.2" stroke-linecap="round" fill="none" opacity="0.95"/>
<path d="M105.2 576.8h0M102.5 569.7h0M115.1 584.5h0M112.8 577.1h0M106.3 571.2h0M106.4 575.9h0M104.7 572.5h0M123.3 580.7h0M114.3 568.9h0M112.8 572.6h0M139.7 584h0" stroke="#c9c6dc" stroke-width="1.2" stroke-linecap="round" fill="none" opacity="0.95"/>
<path d="M199 553.1h0M192.9 553.7h0M185.9 546.9h0M191.3 561.6h0M174.3 565.4h0M182 554.9h0M182 565.2h0M176.4 561.6h0M191.4 557.2h0M186 549.5h0M186 555.2h0M168.9 557.5h0M183.6 546.6h0M166.6 559.4h0M171.8 557.4h0M171.6 563.3h0M183 562.3h0M168.4 559.9h0M183.2 560.7h0M172.4 551.4h0M189.7 558.2h0M187.1 551.6h0M177.3 555.6h0M172.1 562.1h0M176.8 561.9h0M192.7 554.1h0M174.9 548.3h0M187.1 546.9h0M181.3 549.6h0M170.7 555.1h0M181.9 564.6h0M182 553.5h0M187.9 556.9h0M177.5 561h0M168.7 559.3h0M175.9 554.8h0M182.5 561.1h0M180.3 558.5h0M165 565.8h0M173.3 562.7h0M193.9 559.9h0M183.5 548.1h0M171.3 559h0M182.7 555.4h0M197 557h0M173.3 561.3h0M187.9 548.1h0M191.3 551.9h0M192.1 552.6h0M178.5 562.6h0M184.8 554.8h0M180.2 568h0M173.6 565h0M169.1 568.6h0M172.6 555.9h0M175.9 557.7h0M184.1 564.3h0M175.5 548.1h0M189 557.1h0M178.5 562h0M179.5 554.5h0M168.4 557.1h0M189.3 553.5h0M193.5 553.6h0M177.4 547.9h0M175.1 548.6h0M185.6 554.6h0M171.5 555.2h0M193.6 554.6h0M196.7 556.9h0M193.5 561h0M181.5 549.1h0M168.5 564.6h0M168.7 558.2h0M172.7 551.9h0M191.8 551.9h0M172.9 555.4h0M179.9 559h0M169.8 568.6h0M180.9 553.7h0M172.8 553.6h0M184.6 561.1h0M190 561h0M189 562.8h0M199.2 553.1h0M188.4 558.7h0M169.7 560.9h0M168.8 563.9h0M178.3 558.1h0M179.5 554.1h0M179.6 554.1h0M174.2 549.5h0M182.8 557.4h0M174.5 553.2h0M171.7 564.2h0M191.4 547.4h0M177.8 559.7h0M173.9 554.1h0M194.5 548.3h0M182.5 547.5h0M176.9 551.4h0M190.5 548.6h0M171.6 567.6h0M182.3 547.2h0M179.2 558.3h0M194.3 551.1h0M157 562.6h0M136.5 557.6h0M167.7 563.9h0M138.7 555.6h0M166.8 564.6h0M147.5 559.7h0M166 566.6h0M162.1 566.3h0M161.4 565h0M139.4 553.8h0M144.3 556.6h0M150.2 559.5h0M156.8 564.2h0M152.2 560.9h0M165 566.1h0M157.5 563.3h0M145.2 560.7h0M137.8 554.3h0M145.3 560.6h0M136.3 556h0M145.8 556.9h0M157.6 561.5h0M161.8 563h0M138.7 556.3h0M158.8 560.8h0M161.4 560.5h0M145.3 556h0M140.4 560.3h0M153.8 564.5h0M148.2 558.3h0M163 563.3h0M157.9 562.7h0M148.6 557h0M159.6 556.9h0M140.9 557.4h0M138.5 555.7h0M129.6 557.8h0M148.8 558.3h0M134.4 554.3h0M155.2 564.7h0M135.2 555.9h0M137 556.2h0M141.3 555.2h0M134.3 555.2h0M144 557h0M138.7 556.4h0M142.6 556.5h0M137.4 554.5h0M142.4 554.6h0M134.6 556.3h0" stroke="#8a77de" stroke-width="1.2" stroke-linecap="round" fill="none" opacity="0.95"/>
<path d="M182 563.8h0M167 568.2h0M188.7 545.9h0M175.1 558.3h0M187.1 548.6h0M190.3 548.2h0M191.2 551.6h0M176.6 562.7h0M167.9 568.3h0M182.4 546.2h0M192.4 553.6h0M168.5 558.4h0M183.7 547.6h0M170.3 559.3h0M192.7 551.7h0M175.3 562.1h0M175.2 559.8h0M172.9 555.4h0M182.9 550h0M179.4 561.2h0M175.2 557.5h0M180.8 547.4h0M174.7 564.4h0M198.2 550.1h0M178.8 564.1h0M171.9 555.1h0M183.4 549.6h0M186.8 547.7h0M178.2 563.1h0M179 559.1h0M186.6 558.2h0M191.5 559h0M187.3 561.6h0M166.2 564.1h0M196.1 556.7h0M165.2 567.3h0M182.8 546.7h0M185.5 555h0M190.7 562.3h0M166.4 564.9h0M182.2 559.2h0M172.2 554.7h0M193.7 557.1h0M176.5 550.5h0M180.4 558.8h0M190.8 561.4h0M176.6 553.2h0M176.2 552.6h0M175.7 560.9h0M189.1 554.9h0M167.5 569.7h0M167.7 565.5h0M189.9 550.9h0M187.3 546.6h0M185.1 548.2h0M185.3 561.8h0M195.7 556.7h0M182.2 560.4h0M179.7 563.6h0M193.3 553.7h0M187 560.1h0M185.8 545h0M191.9 554.9h0M169.3 559.9h0M170.5 568.1h0M195 556.9h0M176.7 562.7h0M196.4 553.6h0M184.3 562.5h0M195.7 548.6h0M169.5 554.5h0M188.8 548.5h0M173.5 559.8h0M176.8 563.5h0M168.6 563h0M184 554.6h0M173.9 560.8h0M186.2 561.3h0M176.9 558.9h0M190.4 556h0M166.2 565.8h0M168.3 568.9h0M177.3 554.5h0M181.6 567.4h0M178.5 547.5h0M178.1 561.2h0M167.6 560.1h0M175 555.5h0M184.6 547.1h0M194.7 548.3h0M179.2 567.4h0M181.1 565h0M176.8 554.4h0M180 549.3h0M185 551.7h0M172.7 559.6h0M198.2 554.3h0M163.5 562.9h0M161.1 563.5h0M147.8 557.9h0M142.9 557.6h0M160.9 563.1h0M157.6 561.5h0M135.7 554h0M157.1 562.6h0M141 556.8h0M143.9 558.7h0M164.2 566.4h0M136.4 552.3h0M165.1 562.7h0M137.9 555.7h0M159.2 567.6h0M160.6 559.6h0M144.5 556.9h0M137.1 556.9h0M144.2 557.1h0M144 561.4h0M154.3 563.4h0M140.2 553.3h0M135.7 558.7h0M140.8 554.4h0M139 555.3h0M138 553.3h0M134.8 555.2h0M136.4 552.2h0M136.5 553.9h0M137.6 556.7h0M129 553.6h0M139.8 556.4h0M134.3 556.6h0M136.7 555h0" stroke="#7660d6" stroke-width="1.2" stroke-linecap="round" fill="none" opacity="0.95"/>
<path d="M188 558.9h0M177.3 565.6h0M196.9 548.9h0M175.1 568.3h0M170.9 562.6h0M183.8 557.9h0M174.1 562.2h0M182.1 550.7h0M176.7 553.8h0M188.4 547.4h0M167.1 568.7h0M188.1 552.5h0M168.4 559.5h0M192.3 555.2h0M185.2 563.8h0M169.8 567.6h0M186 552.7h0M196 557.8h0M195.8 556.7h0M179.3 566.1h0M178 550.1h0M143.8 558.3h0M132.5 558.4h0M142.6 555.3h0M154.7 563.8h0M135.9 556.5h0M136.5 561.2h0M135.2 555.5h0M137.9 555.4h0" stroke="#c9c6dc" stroke-width="1.2" stroke-linecap="round" fill="none" opacity="0.95"/>
<path d="M169 596.3h0M145.9 581.2h0M155.3 581.1h0M166.2 589.5h0M157.1 584.8h0M183.7 591.9h0M160.3 585.2h0M150.5 586.5h0M145.8 582.8h0M181 587.5h0M183.4 593.3h0M174.8 590.3h0M148.6 584.1h0M152.3 581.3h0M177.5 584h0M168.6 592.9h0M157.4 581.2h0M169.8 588.1h0M179.8 588.1h0M157.8 585.7h0M177.5 587.2h0M159.8 589.5h0M174.5 593.9h0M160.3 591.5h0M161.2 589.8h0M168.8 583h0M179.2 587.8h0M163.2 584h0M151 578.9h0M177.4 587.4h0M165 586.4h0M176.5 592.5h0M172.8 590.8h0M180.6 589.9h0M179.8 588.2h0M150.6 581.8h0M168.6 594.5h0M168.3 594.6h0M166.7 587.5h0M181.1 587h0M149.5 587.1h0M172.9 594.9h0M160.7 580h0M159.7 580.2h0M146.8 584.1h0M157.9 589.8h0M153.7 581h0M171.4 585h0M161.2 580.1h0M153.1 587.1h0M164.7 588h0M161.9 580.4h0M157.2 584.3h0M156.7 590.4h0M152.4 588.3h0M159 585.7h0M148.3 585h0M148.3 581.1h0M145.1 581.6h0M150.3 580.8h0M167.6 585.5h0M154.6 584.6h0M169.7 588.6h0M176.9 595.3h0M153.2 583.7h0M156.5 577.9h0M154.2 578.7h0M155.1 581.5h0M166.3 591.1h0M178.4 588.3h0M171.3 583.8h0M178.3 591.9h0M167.6 593.7h0M165.9 582.7h0M171.2 586.6h0M167.8 587.8h0M182 592.7h0M169.7 593.2h0M176.9 589.4h0M171.2 592.6h0M172.5 596.4h0M179.3 591.3h0M153 581h0M166.4 588.5h0M150.4 584.8h0M175.1 584.9h0M177.6 590.3h0M162.6 587.9h0M163.3 591.6h0M130.2 570.4h0M139.1 568.7h0M136.1 566.3h0M139.2 573.9h0M144.3 575.4h0M147.3 580.6h0M142.8 574.7h0M135 567.2h0M146.5 576.6h0M131.6 569.7h0M148.7 579.9h0M136.5 575.6h0M135 576.3h0M137.9 567.8h0M124 567.3h0M150.4 577h0M134.4 568.4h0M144.5 578.6h0" stroke="#7660d6" stroke-width="1.2" stroke-linecap="round" fill="none" opacity="0.95"/>
<path d="M157.4 588.2h0M152.5 587.3h0M153.2 585.5h0M167.2 593.4h0M176.1 588.7h0M176.5 591.6h0M165.4 593.4h0M162.4 585.8h0M159.8 582.2h0M159.9 581.6h0M164.7 590.4h0M160.5 590.1h0M149.4 581.9h0M160.2 582.3h0M155.2 584.9h0M158 586.2h0M180.6 594h0M162 583.8h0M171 584.7h0M164.5 590h0M158.7 584.6h0M175.8 594h0M167 582.9h0M178.8 595.2h0M177.6 586.7h0M161.9 592.8h0M182.9 592.6h0M168.4 588.1h0M151 585.4h0M153.9 588.7h0M168.2 586.4h0M155.5 582.2h0M169.7 581.1h0M156.7 579.5h0M167.3 591.6h0M161.5 580.4h0M175.4 587.6h0M156.7 585.7h0M162.5 592.3h0M162.4 584.8h0M156.7 586.5h0M166.9 583.4h0M177.4 593.6h0M153.4 588.3h0M159 585.6h0M149.1 584.1h0M159.1 584.9h0M157.7 582.4h0M151.2 588.5h0M150.4 584.4h0M176.9 586.6h0M165.8 579.2h0M154.9 586.2h0M163.7 590.3h0M182.4 586.5h0M175.4 585.5h0M166.2 583.2h0M149.2 582.8h0M182 591.3h0M182.7 592h0M159.5 588.5h0M154.9 585.7h0M159.8 590.4h0M166.1 584.2h0M165.7 591.3h0M166.7 589h0M180.2 587.1h0M168.6 588.9h0M183.2 591.8h0M175.1 596.6h0M178 592.2h0M177 594.2h0M164 593.9h0M158.7 583.2h0M146.4 584.1h0M157.1 586h0M166.5 587.3h0M171.6 587.9h0M160.8 584.6h0M173.2 583.1h0M178.2 596.6h0M164 593.5h0M164.8 587.2h0M153.7 579.4h0M155.9 582.7h0M168.8 591h0M133 570.4h0M145.2 572.6h0M141.1 574.2h0M134.4 568.4h0M138.2 574h0M140.1 578.3h0M150 579.9h0M149.6 576.9h0M143.4 574.1h0M141.2 581.1h0M145.2 576.1h0M150.8 581.4h0M127.4 573.6h0M143.1 576.6h0M137.5 572.6h0M140.2 572h0M133.7 572.1h0M140.1 577.8h0M140.5 573.8h0M129 566.6h0M138.7 572.3h0M146.5 574.9h0M129.1 569.8h0" stroke="#8a77de" stroke-width="1.2" stroke-linecap="round" fill="none" opacity="0.95"/>
<path d="M176.3 583h0M160.9 592.6h0M171.8 589.1h0M150.5 582.1h0M150.9 582.6h0M158.3 578.3h0M149.6 587.6h0M159.2 578.7h0M163.8 591.9h0M170.5 593.5h0M161.5 579.8h0M166.9 593.2h0M135.9 574.2h0M148.4 570.5h0M136 565.1h0M143.4 572.6h0" stroke="#c9c6dc" stroke-width="1.2" stroke-linecap="round" fill="none" opacity="0.95"/>
<path d="M109.3 635.4h0M111.5 632.4h0M114.1 631.6h0M106.5 629.1h0M122.8 632.1h0M118 633.8h0M99.9 632.4h0M117 629.8h0M107.5 633.3h0M105 628.9h0M118.4 633.3h0M112.4 631.9h0M119.3 629.9h0M120.6 631.8h0M113.3 632.3h0M114.3 633.7h0M111 635.5h0M120.8 631.1h0M114 631h0M121.8 633.9h0M114.1 635.4h0M100.6 630h0M117.2 630.2h0M115.9 637.4h0M120 632.5h0M100.7 630.7h0M103.7 629.3h0M119.4 633.4h0M108.4 634.7h0M112.7 634.7h0" stroke="#7660d6" stroke-width="1.2" stroke-linecap="round" fill="none" opacity="0.95"/>
<path d="M121.6 632.4h0M109.8 635.9h0M113 631.4h0M115 631.3h0M107.9 630.4h0M110 633.9h0M106.9 633.2h0M103.2 634.2h0M113.4 632.4h0M112 636h0M101.7 630.2h0M103.9 632.8h0M107.7 636.3h0M121.3 635.4h0M110.4 629.7h0M112 634.2h0M102 632.1h0M113.5 630.1h0M113.3 629.3h0M108.1 631.8h0M111.9 629.8h0M114.4 629.1h0M121.7 631.9h0M115.3 630.2h0M113.4 634.4h0M121.5 631.5h0M113.4 630.1h0M116.3 632.4h0" stroke="#8a77de" stroke-width="1.2" stroke-linecap="round" fill="none" opacity="0.95"/>
<path d="M112.5 637.1h0M101.4 630.4h0" stroke="#c9c6dc" stroke-width="1.2" stroke-linecap="round" fill="none" opacity="0.95"/>
<path d="M140.5 564.2h0M130.7 561.5h0M136 569.3h0M135.3 564.6h0M131.8 564.1h0M135.7 566.4h0M131.8 562.2h0M138.2 564.4h0M154.8 576h0M132.2 561.7h0M152.2 579.3h0M151.4 576.3h0M149 570.1h0M131.9 562.3h0M156.3 576.2h0M133.1 564h0M134.6 565.6h0M141.6 566.6h0M137.7 564h0M142.1 567.9h0M138.8 567h0M128.6 561.7h0M134.4 565.5h0M138.3 567.6h0M133 560.3h0M136.4 562.1h0M131.3 559.1h0M125.8 561.2h0M138.3 565.4h0M137.1 565.4h0M145.7 570.3h0M131.5 561.1h0M142.4 567.4h0M156.4 577.2h0M138.2 566.3h0M147.8 572.8h0M151.9 573.9h0M131.2 558.4h0M157.6 580.1h0M138.5 567h0M156 578.3h0M140.8 570.1h0M153.7 573.1h0M134.8 564.4h0M155.6 574.3h0M157.7 574.9h0M161 579.7h0M149.7 576.2h0M151.5 574.8h0M159.4 576.8h0M128.8 564.2h0M149.1 571.2h0M155.3 579.4h0M126.9 557.2h0M154.4 580.1h0M143.9 571.6h0M146.7 571.7h0M160.1 577.4h0M153.6 576.3h0M152.4 577.8h0M149.1 576.9h0M152.8 575.4h0M135.3 565.1h0M160.3 579.8h0M141.4 570.2h0M142.6 570.4h0M153.4 579.3h0M150.4 575.1h0M136.9 568.1h0M142.8 569.5h0M157.6 578.5h0M129.8 561.8h0M134.8 564.4h0M155.4 578.4h0M137.4 564.2h0M150.9 574.2h0M125.8 560.4h0M127 561.9h0M150.1 572.4h0M136.9 561.5h0M137.9 568.6h0M157.3 574.7h0M134.1 567.6h0M130.3 560.2h0M145 571.8h0M130.3 563.3h0M128.6 559.8h0M145.1 568.3h0M146.3 571.2h0M150.6 577.3h0M147.3 570.2h0M145.6 573.6h0M138.7 564.7h0M150.4 572.9h0M146.7 574h0M130.5 562.7h0M145.6 581.1h0M146.7 570.2h0M139.3 562.3h0M149 575.4h0M136.5 566h0M130 562.9h0M137.2 564h0M154.1 574.6h0M138.4 567.7h0M135.7 565.1h0M139.3 573.9h0M149.6 570.1h0M133.7 564.5h0M138.3 566.6h0M159.7 578.3h0M138.2 564.5h0M133.8 563h0M144 568.1h0M127 559.7h0M129.2 562.3h0M147.2 577h0M147.5 571.8h0M133.3 561.9h0M149.6 578.2h0M134.6 562.7h0M156 573.1h0M144.1 571.6h0M161.7 563.4h0M136.9 580.2h0M135.3 578.2h0M131.7 576.5h0M155.5 564h0M157.3 571.6h0M154.4 569.4h0M166.3 566.7h0M132 575.1h0M153.2 568.8h0M132.7 579.2h0M167.5 563.8h0M150.9 572.4h0M161.6 570.8h0M151.8 566.4h0M143.5 575.6h0M165.2 564.4h0M162.1 568.2h0M130.9 580.8h0M159.3 567h0M129.7 576.9h0M144.6 576.5h0M164.4 571.8h0M148.9 574.1h0M152.2 572.6h0M167.9 566.9h0M164.5 566.2h0M166.2 567.4h0M150.4 571h0M134.5 580.2h0M157.5 569.3h0M158.9 568.4h0M140.6 577h0M146.8 573.9h0M134.8 579.6h0M150.3 570.7h0M146.5 571.9h0M164.6 564h0M131.4 580h0M131.5 580.2h0M125.7 580.4h0M145.4 572.9h0M160.9 570.3h0M154.1 571.4h0M159.9 566.8h0M147.2 573.5h0M144 574.6h0M137.1 577h0M136.6 576.4h0M145.3 575.2h0M140.1 577.9h0M131.6 575.4h0M152.1 570.3h0M162.4 567.1h0M138.2 574.9h0M140.4 575.1h0M157.2 571.6h0M126.7 576.9h0M143.6 575.2h0M153 571.7h0M153.2 574.2h0M154.5 571.1h0M165.6 565.1h0M157.6 567.3h0M137 573.1h0M151.6 574h0M142.5 574h0M146.6 572.3h0M156.1 567.8h0M165.2 560.1h0M129.9 580h0M137 577.3h0M152 572.3h0M146.4 574.3h0M142.3 575.7h0M134 578.7h0M162.5 568.5h0M127.8 579.3h0M150.9 575.1h0M142.3 573.8h0M157.6 571h0M146.3 572.2h0M127.8 580.8h0M133.4 577.8h0M127.1 577h0M153.2 570.7h0M132.9 576.2h0M128.7 577.4h0M132.3 578.1h0M132 571.6h0M166.8 565.9h0M160 572.3h0M131.2 577.1h0M150.4 568.3h0M163 569.2h0M163.8 567.8h0M158.5 568.6h0M150 570.8h0M143.1 573.7h0M136.4 575.3h0M130.9 575.7h0M141.2 577.6h0M145.3 576.5h0M138.3 574.3h0M135.1 575.7h0M140.7 572.8h0M136.2 577.1h0M164 564.6h0M137.9 572.9h0M132.1 576.5h0M130.5 579.7h0M155.3 571.5h0M152 573.1h0M147.1 576.3h0M159.1 572h0M133.6 579.9h0M126.3 579.8h0M126.3 579.4h0M154.4 568.2h0M141.4 573.3h0M149.8 569.9h0M129.2 580h0M140.7 557.5h0M116.7 556.3h0M134.2 559.6h0M147.1 559.5h0M138 557.5h0M130 559.4h0M132.2 559.1h0M128.6 561h0M126.2 558.5h0M133.3 559.3h0M137.5 557.9h0M129.8 560.4h0M138.2 559.2h0M139.2 559.1h0M117.4 557.5h0M140.1 558.1h0M142.3 558h0M133 559.2h0M128.4 557h0M132.6 559.8h0M126.9 558.2h0M118.8 558.2h0M119.5 557.7h0M145 559.4h0M118.5 557.6h0M137.4 557.2h0M128.9 559h0M118.4 557.5h0M122.4 557.9h0M141.5 556.8h0" stroke="#8a77de" stroke-width="1.2" stroke-linecap="round" fill="none" opacity="0.95"/>
<path d="M158.5 580.7h0M138.9 569.6h0M146.1 573.8h0M128 559.5h0M140.1 568.5h0M143.6 573.4h0M142.8 572h0M130.3 560.5h0M145.8 567.7h0M158.3 577.9h0M140.3 571.3h0M150.5 570h0M155.8 574.5h0M148 572.2h0M137.1 563.1h0M134.8 568.6h0M141.9 567.5h0M160.7 577.7h0M134.7 560.4h0M155.7 581.2h0M132.6 563.2h0M139.7 570.8h0M148.7 574.4h0M131.2 560.9h0M158.3 575h0M143.6 567.5h0M150.2 573.9h0M138.6 566.5h0M129.6 560.5h0M132.3 561.4h0M133.4 566.1h0M128.4 558.1h0M150.5 575.7h0M137.3 567.9h0M145.8 571.1h0M149.5 574.9h0M156.7 576h0M156.1 575.2h0M150.7 577.3h0M133.9 567.1h0M158.7 576h0M147.4 568.7h0M148.6 574.3h0M124.8 560.2h0M147.3 573.3h0M133.2 561h0M155.8 573.3h0M151.2 574.6h0M147.6 570.9h0M149.5 576.6h0M147.4 574.4h0M141.7 567h0M141.2 565.6h0M150.4 578.4h0M157.4 581.1h0M147.2 572.3h0M132.3 565.3h0M157.1 575.6h0M132.2 563.1h0M134.4 562.5h0M149.9 573.5h0M150.1 573.7h0M150.8 579.6h0M124.7 558.9h0M148.3 571.2h0M138.7 568.8h0M136.6 563.7h0M138.8 568h0M137.9 566.2h0M143.2 566.3h0M155.2 578h0M141.9 573.9h0M137.8 566.3h0M157.5 580.4h0M140.5 569.8h0M134.4 566.1h0M150.7 579.2h0M153.2 576.4h0M131.4 562.1h0M138.2 563.5h0M155.2 579.5h0M136.7 567.7h0M136.6 567.3h0M133.8 565.2h0M152.9 573.6h0M143.2 571.8h0M149.9 573.6h0M153.5 573.4h0M135.3 565.5h0M148.1 577.8h0M137.8 560.5h0M153.3 582.1h0M147.8 568.7h0M156.9 573.3h0M158.1 570h0M154 571.8h0M137.7 571h0M120.9 576.2h0M158 569.2h0M133.1 576.8h0M149 573.6h0M144 575.6h0M121.7 581.3h0M148.3 573.8h0M155.2 574.8h0M133.8 574.5h0M137.2 572.8h0M163.5 564.3h0M127.3 580.6h0M135.3 577.9h0M153.5 567.4h0M153.1 570.5h0M136.7 573.4h0M149 572.7h0M142.5 575.1h0M141.2 575.4h0M135.7 573.8h0M145.1 571.6h0M168.8 569.3h0M127.6 580.5h0M148 573.9h0M162.8 568.3h0M124.6 580.8h0M168.2 565.8h0M168.1 563.3h0M134.1 577.2h0M159.3 570.1h0M161.9 567.4h0M153.8 566.5h0M142.7 573.7h0M150.7 577h0M155 569.7h0M132.2 582.8h0M152.2 573.8h0M157.7 567.5h0M143.8 574.7h0M168.1 569.7h0M162 567.8h0M139.9 576.6h0M120.7 583.5h0M135.7 576.6h0M163.7 567.9h0M150.7 572.1h0M133.7 577.4h0M162.6 569.5h0M136.3 575.8h0M121.2 581.2h0M127.8 579.1h0M163.1 566.3h0M130.8 579h0M131.1 575.5h0M138.9 578.3h0M139.7 575.7h0M124.2 583.8h0M161.7 564.8h0M160.9 565.5h0M130.1 579.1h0M163.5 564.7h0M159.8 565.5h0M134.1 576.2h0M140.8 573h0M136.5 578.6h0M167.3 568.9h0M139.7 577.2h0M168.4 566.9h0M155 572.5h0M147.2 575.7h0M160.1 568.4h0M164.1 566.5h0M143.9 573.3h0M158.2 571h0M152.9 570.7h0M150 571.2h0M122.5 583.6h0M149.4 574.1h0M143.8 573.9h0M160.9 566.7h0M166.1 568.3h0M125.7 579.3h0M133.4 581.1h0M164.5 568.2h0M124.6 581.8h0M134.3 577.2h0M149.8 573.9h0M165.5 560.5h0M155.9 568.7h0M127.8 579.3h0M127.3 579.1h0M144.4 577.1h0M129.1 584.3h0M152.5 569.6h0M129 579.1h0M126.5 579.6h0M161.1 568.1h0M153.8 569.2h0M145.3 572.9h0M133 580.2h0M134.7 583.7h0M138.1 576.3h0M127.6 577.7h0M150.2 573h0M141.8 573.3h0M150.8 571.2h0M140.5 579.1h0M138.6 574.7h0M126 575.1h0M143.3 569.9h0M124.8 577.8h0M166.8 565.7h0M145.7 573.6h0M136.2 577.6h0M129.4 575.1h0M137.3 578.4h0M126.2 580.3h0M129.4 557.2h0M140.3 557.8h0M123.7 557.2h0M145.4 557h0M122.7 559.9h0M147.2 561h0M123.7 559h0M146.1 559.1h0M149.8 555.8h0M117.1 556.4h0M123.7 557.2h0M137.6 559h0M117.9 557.5h0M146.7 557.3h0M141.8 557.9h0M141.7 559.3h0M125.2 557.4h0M144.8 557.8h0M135.2 557.5h0M144.7 559.1h0M139.5 559.3h0M117.2 558.1h0M129.4 556.6h0M137.3 558h0M123 557.4h0M149.9 558.7h0" stroke="#7660d6" stroke-width="1.2" stroke-linecap="round" fill="none" opacity="0.95"/>
<path d="M131.3 560.2h0M157.2 578.9h0M130.3 557.2h0M157.5 582.8h0M137.2 566.3h0M132.9 562.1h0M159.1 577.9h0M138.4 564.9h0M136.9 567.3h0M154.5 578.8h0M150.9 574h0M150.6 575.4h0M142.1 567.3h0M148.4 573.4h0M133.8 579.4h0M134.2 576.5h0M124.1 578.1h0M147.6 573.2h0M153 566.2h0M149.7 573.4h0M136 579.5h0M131.8 573.8h0M137.7 576.2h0M122.1 577.2h0M142.2 574.8h0M146.8 573.4h0M134.9 575.8h0M159.7 572.7h0M132.5 578.4h0M124.7 577.5h0M131.7 580.7h0M117.9 557.7h0M144.6 557.5h0M117 558.2h0M123.7 557.5h0" stroke="#c9c6dc" stroke-width="1.2" stroke-linecap="round" fill="none" opacity="0.95"/>
<path d="M38.4 506.3V649.4H209.5" fill="none" stroke="#222" stroke-width="0.7"/>
<line x1="36.6" x2="38.4" y1="507.2" y2="507.2" stroke="#222" stroke-width="0.6"/>
<text x="35.2" y="509.8" class="s" font-size="7" fill="#222" text-anchor="end" >10</text>
<line x1="36.6" x2="38.4" y1="536.6" y2="536.6" stroke="#222" stroke-width="0.6"/>
<text x="35.2" y="539.1" class="s" font-size="7" fill="#222" text-anchor="end" >5</text>
<line x1="36.6" x2="38.4" y1="566" y2="566" stroke="#222" stroke-width="0.6"/>
<text x="35.2" y="568.5" class="s" font-size="7" fill="#222" text-anchor="end" >0</text>
<line x1="36.6" x2="38.4" y1="595.4" y2="595.4" stroke="#222" stroke-width="0.6"/>
<text x="35.2" y="597.9" class="s" font-size="7" fill="#222" text-anchor="end" >−5</text>
<line x1="36.6" x2="38.4" y1="624.8" y2="624.8" stroke="#222" stroke-width="0.6"/>
<text x="35.2" y="627.2" class="s" font-size="7" fill="#222" text-anchor="end" >−10</text>
<line y1="649.4" y2="651.2" x1="68" x2="68" stroke="#222" stroke-width="0.6"/>
<text x="68" y="659.3" class="s" font-size="7" fill="#222" text-anchor="middle" >−4</text>
<line y1="649.4" y2="651.2" x1="112.5" x2="112.5" stroke="#222" stroke-width="0.6"/>
<text x="112.5" y="659.3" class="s" font-size="7" fill="#222" text-anchor="middle" >0</text>
<line y1="649.4" y2="651.2" x1="157" x2="157" stroke="#222" stroke-width="0.6"/>
<text x="157" y="659.3" class="s" font-size="7" fill="#222" text-anchor="middle" >4</text>
<line y1="649.4" y2="651.2" x1="201.5" x2="201.5" stroke="#222" stroke-width="0.6"/>
<text x="201.5" y="659.3" class="s" font-size="7" fill="#222" text-anchor="middle" >8</text>
<text x="123.4" y="670.2" class="s" font-size="8.8" fill="#222" text-anchor="middle" >UMAP_1</text>
<text transform="translate(16.7,576.4) rotate(-90)" class="s" font-size="8.8" fill="#222" text-anchor="middle">UMAP_2</text>
<text x="123.8" y="499.4" class="s" font-size="10.4" fill="#111" text-anchor="middle" font-weight="bold" >SOX2</text>
<defs><linearGradient id="gS" x1="0" x2="0" y1="0" y2="1"><stop offset="0" stop-color="#1010e8"/><stop offset="0.25" stop-color="#5a48e0"/><stop offset="0.6" stop-color="#9f90dc"/><stop offset="1" stop-color="#d6d6d6"/></linearGradient></defs>
<rect x="218.3" y="555.1" width="10.2" height="50.3" fill="url(#gS)"/>
<text x="232.6" y="569.2" class="s" font-size="7" fill="#222" >3</text>
<text x="232.6" y="581.9" class="s" font-size="7" fill="#222" >2</text>
<text x="232.6" y="594.4" class="s" font-size="7" fill="#222" >1</text>
<text x="232.6" y="606.7" class="s" font-size="7" fill="#222" >0</text>
<line x1="326.4" x2="326.4" y1="410.2" y2="607.2" stroke="#e4e4e4" stroke-width="0.5"/>
<line x1="339.4" x2="339.4" y1="410.2" y2="607.2" stroke="#f0f0f0" stroke-width="0.5"/>
<line x1="352.3" x2="352.3" y1="410.2" y2="607.2" stroke="#e4e4e4" stroke-width="0.5"/>
<line x1="365.2" x2="365.2" y1="410.2" y2="607.2" stroke="#f0f0f0" stroke-width="0.5"/>
<line x1="378.1" x2="378.1" y1="410.2" y2="607.2" stroke="#e4e4e4" stroke-width="0.5"/>
<line x1="391.1" x2="391.1" y1="410.2" y2="607.2" stroke="#f0f0f0" stroke-width="0.5"/>
<line x1="404" x2="404" y1="410.2" y2="607.2" stroke="#e4e4e4" stroke-width="0.5"/>
<line x1="416.9" x2="416.9" y1="410.2" y2="607.2" stroke="#f0f0f0" stroke-width="0.5"/>
<line x1="429.8" x2="429.8" y1="410.2" y2="607.2" stroke="#e4e4e4" stroke-width="0.5"/>
<line x1="442.8" x2="442.8" y1="410.2" y2="607.2" stroke="#f0f0f0" stroke-width="0.5"/>
<line x1="455.7" x2="455.7" y1="410.2" y2="607.2" stroke="#e4e4e4" stroke-width="0.5"/>
<line x1="468.6" x2="468.6" y1="410.2" y2="607.2" stroke="#f0f0f0" stroke-width="0.5"/>
<line x1="481.6" x2="481.6" y1="410.2" y2="607.2" stroke="#e4e4e4" stroke-width="0.5"/>
<line x1="494.5" x2="494.5" y1="410.2" y2="607.2" stroke="#f0f0f0" stroke-width="0.5"/>
<line x1="507.4" x2="507.4" y1="410.2" y2="607.2" stroke="#e4e4e4" stroke-width="0.5"/>
<line x1="520.3" x2="520.3" y1="410.2" y2="607.2" stroke="#f0f0f0" stroke-width="0.5"/>
<line x1="533.2" x2="533.2" y1="410.2" y2="607.2" stroke="#e4e4e4" stroke-width="0.5"/>
<line x1="315.5" x2="539.4" y1="600.4" y2="600.4" stroke="#e4e4e4" stroke-width="0.5"/>
<line x1="315.5" x2="539.4" y1="585.2" y2="585.2" stroke="#f0f0f0" stroke-width="0.5"/>
<line x1="315.5" x2="539.4" y1="570" y2="570" stroke="#e4e4e4" stroke-width="0.5"/>
<line x1="315.5" x2="539.4" y1="554.8" y2="554.8" stroke="#f0f0f0" stroke-width="0.5"/>
<line x1="315.5" x2="539.4" y1="539.6" y2="539.6" stroke="#e4e4e4" stroke-width="0.5"/>
<line x1="315.5" x2="539.4" y1="524.4" y2="524.4" stroke="#f0f0f0" stroke-width="0.5"/>
<line x1="315.5" x2="539.4" y1="509.2" y2="509.2" stroke="#e4e4e4" stroke-width="0.5"/>
<line x1="315.5" x2="539.4" y1="494.1" y2="494.1" stroke="#f0f0f0" stroke-width="0.5"/>
<line x1="315.5" x2="539.4" y1="478.9" y2="478.9" stroke="#e4e4e4" stroke-width="0.5"/>
<line x1="315.5" x2="539.4" y1="463.7" y2="463.7" stroke="#f0f0f0" stroke-width="0.5"/>
<line x1="315.5" x2="539.4" y1="448.5" y2="448.5" stroke="#e4e4e4" stroke-width="0.5"/>
<line x1="315.5" x2="539.4" y1="433.3" y2="433.3" stroke="#f0f0f0" stroke-width="0.5"/>
<line x1="315.5" x2="539.4" y1="418.1" y2="418.1" stroke="#e4e4e4" stroke-width="0.5"/>
<line x1="429.8" y1="410.2" x2="429.8" y2="607.2" stroke="#4f8f90" stroke-width="0.7" stroke-dasharray="1 1.6"/>
<line x1="481.6" y1="410.2" x2="481.6" y2="607.2" stroke="#4f8f90" stroke-width="0.7" stroke-dasharray="1 1.6"/>
<line x1="315.5" y1="599.5" x2="539.4" y2="599.5" stroke="#666" stroke-width="0.7" stroke-dasharray="1 1.6"/>
<polygon points="454.4,592.9 457,583.6 458.9,570.6 460.2,557.7 461.5,544.7 462.4,531.8 463.7,518.8 465,508.5 472.5,507.8 476.6,518.8 475.6,531.8 473.7,544.7 471.6,557.7 469.1,570.6 467.1,583.6 465,593.9 464.7,601.7 454.4,601.7" fill="#0a0a0a" stroke="#0a0a0a" stroke-width="1" stroke-linejoin="round"/>
<polygon points="454.4,592.9 451.8,583.6 449.2,570.6 446.2,557.7 444.3,550.6 439.1,550.6 437.8,557.7 438.8,570.6 440.4,583.6 439.1,596.5 438.8,601.7 454.4,601.7" fill="#0a0a0a" stroke="#0a0a0a" stroke-width="1" stroke-linejoin="round"/>
<path d="M473.2 515h0M466.6 521.2h0M468.3 547.2h0M470.1 565.9h0M469.7 541.7h0M463.9 574.5h0M469.1 525.8h0M472.9 526.5h0M461.5 543.5h0M470.3 529.4h0M459.2 599.8h0M472.2 540.1h0M467.4 525.1h0M464.1 523.2h0M463 589.3h0M468.9 544.5h0M468.3 531.4h0M467.9 586.4h0M462.2 559.6h0M467 560.2h0M464.8 549.9h0M464.2 583.4h0M459.5 572.9h0M469.4 551.6h0M466 559.6h0M457.2 589.1h0M467.4 536.2h0M460.5 598.9h0M462.2 584.7h0M459.7 587.8h0M463.5 518.7h0M474 531.5h0M459.2 587.5h0M463.1 572.1h0M458.8 599.1h0M463 573.5h0M467.9 538.9h0M472.5 527.6h0M469 556.9h0M462.3 566.3h0M464.6 590.6h0M465.9 527.8h0M462.1 546.5h0M462.9 532.5h0M465 522.7h0M466.2 546.3h0M472.8 544.8h0M466.6 513.1h0M467.6 519.8h0M461.3 564.5h0M464.4 529h0M465.6 558.1h0M473.4 519.6h0M471.9 516.9h0M457.3 585.7h0M462.5 531.8h0M458.7 576.4h0M472.7 524.8h0M469.1 521.2h0M467.5 559.9h0M456.5 583.8h0M464.5 588.4h0M469.7 564.6h0M465.9 547.9h0M463.7 556.7h0M461.1 562.5h0M471.5 518.3h0M474.9 531.5h0M472.7 540.2h0M463.6 583.2h0M463.8 578.7h0M469.6 515.8h0M474.5 522.7h0M466.5 564.2h0M462.3 576.5h0M467 539.9h0M469.2 529.1h0M475.5 531.8h0M472.6 530.5h0M476 519.8h0M469.2 539.3h0M472.6 513.4h0M472.5 519h0M475 542.2h0M461.8 560.2h0M460.9 553.2h0M466.8 512.2h0M465.4 528.3h0M455.1 599.7h0M471.6 531.7h0M468.1 548.1h0M458.5 586.7h0M468.7 535.9h0M466.4 527.7h0M463.8 577.3h0M461.3 552.9h0M473.7 532.6h0M465.6 555.2h0M463.2 562.7h0M465.8 513.9h0M471.6 537.1h0M461.5 582.5h0M467.8 572.2h0M466.9 513.8h0M472.3 523.9h0M462.1 587.9h0M466.5 530.8h0M463.3 593.2h0M471 523.6h0M472.1 550h0M466.9 567.5h0M463.8 576.5h0M469.7 538.6h0M468.2 549.7h0M472.1 544.3h0M461.7 537h0M462.4 560.5h0M461.7 552.9h0M469.1 547.8h0M466.9 523.9h0M463.5 600.6h0M464.2 511.6h0M471.8 543.5h0M471.1 541.3h0M471.9 514h0M469.9 510.7h0M467.5 541h0M457.7 587.8h0M463.5 599.2h0M462.3 583.6h0M459.1 569.8h0M469.7 527.1h0M469.2 538.4h0M462.8 564.2h0M463.5 574.6h0M467.6 556.1h0M468.1 555.6h0M470.2 549.3h0M461.6 543.5h0M465.5 579.6h0M463.6 590.9h0M472.3 544.3h0M462.3 585.4h0M459.1 582.2h0M466.1 540.5h0M469 540h0M469.1 564.2h0M459.6 599.1h0M474.3 537.3h0M472.9 521.3h0M470.8 539.9h0M461.8 595.4h0M460.9 579.7h0M472 553.1h0M455.8 592.6h0M472.7 541.6h0M468 542.7h0M469.1 515.1h0M464.2 542.8h0M465 565.5h0M466.6 572h0M472.4 554h0M468.4 543.6h0M462 599.6h0M472.3 518.1h0M463.1 556.1h0M466.7 588h0M466.9 514.2h0M475.1 515h0M464.2 561.1h0M462.6 575.2h0M466 558.9h0M470.4 548.2h0M470.8 523.3h0M469.2 524h0M467.2 585.7h0M475.8 526.3h0M467.9 552.6h0M466.1 533.6h0M464.8 545.6h0M468.2 575.1h0M466.4 522.9h0M469.1 532.2h0M466.5 514h0M459.1 559.6h0M457 597.3h0M472.6 543.2h0M456.8 577.8h0M466.3 509.5h0M468.4 553.3h0M467.7 584.5h0M469.1 540.2h0M463.5 594.5h0M465.1 571.7h0M473.1 551.3h0M464.4 558.3h0M452.8 600.3h0M467 515.5h0M462.2 558.8h0M471.8 556.2h0M463.3 568.9h0M465.5 581.3h0M474.9 520.4h0M464.1 573.4h0M465.2 513.8h0M464.8 566.6h0M471.1 545.8h0M461.7 548.5h0M466.2 541.7h0M463.3 538.1h0M460.6 600.3h0M475.3 515.3h0M465.2 568.2h0M464.5 537.7h0M463.1 547.9h0M464.7 509.4h0M467.3 514.6h0M461.1 555.5h0M463.3 547.5h0M472.9 538h0M464.4 540.5h0M452.6 594.3h0M462 591.8h0M467.8 531.9h0M455.3 596.8h0M460.3 576.5h0M461.2 599.4h0M467.1 528.8h0M459.6 583.5h0M458.8 591.5h0M461.2 578.2h0M461.2 587.1h0M474.8 520.1h0M468.7 539.8h0M465 585.1h0M472.6 512.9h0M464.1 570.6h0M458.8 589.2h0M471.4 537.9h0M464.5 557.4h0M472.5 532.3h0M460.9 594.3h0M465.5 541h0M467.5 541h0M465.6 549.1h0M471.6 508.5h0M462.5 599.1h0M476.6 525.6h0M466.2 551.6h0M472.2 540.2h0M466.4 506.5h0M459.1 569.5h0M466.6 532h0M468.9 567.8h0M466.3 564.4h0M469.2 532.9h0M464.3 600.1h0M462.2 528.4h0M461.9 599.4h0M468.3 521.1h0M463.2 589.5h0M466.3 526.9h0M468.4 509.5h0M466.9 569.4h0M472.8 531.3h0M458.5 590.1h0M465 544h0M463.9 541h0M470.6 568.8h0M464.5 544.7h0M461 593.6h0M461.1 576.4h0M472.1 558.4h0M466.9 573.7h0M461.4 569.9h0M469.3 538.1h0M470.2 528.9h0M461.1 584.8h0M463.9 566.7h0M471.9 530.4h0M463.4 565.4h0M463.1 594.8h0M465.4 523.2h0M467.4 570.7h0M462.9 546.9h0M467.4 546.2h0M459.6 585.9h0M468.1 549.8h0M466.3 575.8h0M469.6 564.7h0M468.5 510.2h0M469.2 532.5h0M460.9 557.4h0M461.6 601.8h0M463 568.4h0M461.2 581.8h0M472.2 527.5h0M465.6 563.9h0M472.2 531.3h0M470.8 542.9h0M460.4 558.8h0M462.5 565.7h0M464.8 580.4h0M472.1 543.7h0M463 550.8h0M464.4 532.9h0M467.2 565.3h0M462.7 554.4h0M468.1 571.7h0M474.3 536.4h0M469.5 569.6h0M465.7 573h0M454.5 594.1h0M467.3 545.6h0M456.9 586.9h0M460.8 573.5h0M468.3 539.1h0M467.7 573.1h0M472.3 556.4h0M461.3 595.8h0M460.1 555.5h0M459.9 578.5h0M469.8 545.3h0M466.2 590.2h0M466.3 547.6h0M461.9 541.7h0M465 587.5h0M463 561.9h0M465.6 562.1h0M474.2 523.7h0M464.6 565.1h0M468.4 519.9h0M468.8 537.1h0M463.8 569.6h0M459.9 598.2h0M466.4 516.8h0M466.3 519.4h0M466.5 526.4h0M468.9 559.8h0M457.8 580.1h0M466.7 519.9h0M459.4 578.8h0M463.1 579h0M477.6 531.2h0M474.3 518.3h0M463.6 581h0M460.7 560.7h0M466.1 578.8h0M470.8 506.6h0M461.2 597.1h0M458.5 587h0M470.4 523.6h0M472.8 513.7h0M466.7 547.6h0M459.8 562.3h0M467.7 551.7h0M466.1 538h0M467.2 581.6h0M453.5 598.2h0M472.4 513.6h0M468.6 566.6h0M469.5 551.6h0M461.3 536.9h0M462.8 571.8h0M463.8 545.4h0M466 528.5h0M468.1 516.9h0M475.4 537.5h0M470 539.3h0M466.7 555.8h0M470.9 534.7h0M465.1 601.2h0M463.4 596.3h0M462.2 567.1h0M466.6 557.6h0M464.9 551.8h0M463.6 541.5h0M466.6 511.3h0M472.3 530.5h0M463.7 580.3h0M461.5 552.9h0M468.6 524.5h0M459.1 596.6h0M467.6 527.2h0M468.6 536.4h0M461.9 598.2h0M464.8 565.1h0M470.2 532.1h0M462.4 561.4h0M455.3 599.6h0M462.7 556.6h0M473.6 521.9h0M459.9 560.2h0M464.3 531.7h0M469.9 519.9h0M474.1 526.1h0M468 533.8h0M466.6 569.5h0M463.2 586.1h0M469.7 549h0M460.2 596.3h0M463.4 585.4h0M472.1 524.1h0M457.5 587.8h0M473 553.6h0M465.8 509.8h0M474.9 529.6h0M465.8 515.1h0M468.9 556.6h0M469.3 531.6h0M459.5 566.1h0M461.3 594.7h0M465.1 575.9h0M464.1 566.8h0M457.7 587h0M471.3 550.3h0M465.4 598.1h0M463.5 563.3h0M469.5 538.7h0M456 593.2h0M439.6 557.9h0M444.3 580.2h0M442.5 556.6h0M440.9 599.7h0M449.2 584.1h0M446.4 567h0M448.8 597.5h0M439.1 554.5h0M444 577.1h0M439.7 601.1h0M445 598h0M452.6 599.9h0M448.5 596.5h0M443.6 551.9h0M438.3 557.5h0M445.3 578.3h0M454.6 593.6h0M444.3 596.2h0M452.4 602h0M441.7 551.7h0M442.7 594.7h0M453 595.9h0M439.8 564.3h0M443.1 574.1h0M443.2 550.1h0M445.1 591.1h0M448.3 582.9h0M452.4 600.7h0M449.4 571.1h0M453.4 600.2h0M438.4 573.2h0M450.6 589.1h0M441.2 589.4h0M448.4 579h0M440.2 600.2h0M441 567.9h0M446.3 586.9h0M441.4 593.6h0M445.4 580h0M448.8 578.7h0M446.5 572.4h0M442.5 593.1h0M443.9 570.1h0M448.3 570.7h0M440.9 571.3h0M451.5 592.4h0M441.3 556.8h0M443.4 563.3h0M444.4 601.3h0M443.2 553.5h0M442.7 595.4h0M442.4 558.6h0M448 570h0M440.7 565.8h0M450.8 601.5h0M450.4 594.4h0M451.8 593.5h0M444.2 569.4h0M444.4 591.9h0M443.9 602.1h0M443.4 586.8h0M441 564.3h0M439.9 567.7h0M443.2 577h0M442.3 566.8h0M445 589.8h0M438.6 568.7h0M451.2 596h0M441.6 553.9h0M448.8 576.1h0M440.9 576.6h0M443.5 564.4h0M441.8 575.2h0M448.3 593.5h0M441.4 563.7h0M441.3 601.3h0M442.3 557h0M441 554.9h0M440.3 587.1h0M445.4 562.1h0M448.4 596.7h0M442.1 555.5h0M447.5 585.5h0M454.8 595.6h0M450.2 594.7h0M447.2 596.4h0M441.7 578.9h0M447 600.8h0M447.3 584.5h0M445.8 597.3h0M442.1 557.1h0M449 596h0M446.2 575.2h0M439.5 593.7h0M449.2 577.6h0M441 569.7h0M443.5 577.7h0M447 577h0M445.7 587h0M439.6 584.7h0M444 568h0M449.7 573.4h0M442.4 565.9h0M441.5 583.6h0M443.1 595.5h0M438.7 572.2h0M446 551.3h0M446.2 587.6h0M439.7 559.8h0M443.9 574.1h0M444.7 582.6h0M442.6 602.1h0M446.1 596.7h0M439.8 559.8h0M448.8 583h0M442.3 585h0M445.2 588.9h0M450.9 583.5h0M448.5 587.2h0M449.2 600.5h0M443.3 595h0M440.3 595.7h0M445 562.3h0M444 594.2h0M444.7 551.7h0M448.2 578.3h0M448.4 571.4h0M437.7 581.8h0M448.7 583.2h0M446.8 556.3h0M451.4 583.6h0M444.2 570.6h0M442.4 596.8h0M453.7 599.1h0M439.6 598.2h0M444.2 588h0M446.2 571h0M439.8 571.6h0M442.9 595h0M449.3 583.7h0M445.3 577.4h0M450.3 593.1h0M440.8 598.2h0M445.9 568.1h0M442.2 598.2h0M441.5 552.3h0M453.8 599.1h0M452.8 595.8h0M445 561.5h0M448.8 575.2h0M438.6 558.6h0M444.4 578.6h0M446.5 572.3h0M441.7 582.9h0M448.5 597.5h0M449.4 570.1h0M451 599.4h0M442.9 566.6h0M439 570.6h0M440.5 581.4h0M440.5 578.3h0M453.9 598.4h0M447.7 583.4h0M439.1 573.8h0M451.7 595.9h0M449.2 578h0M442.8 563.8h0M450.3 601.5h0M441.6 567.3h0M452.5 592h0M445 574.2h0M445.7 589h0M445.5 600.3h0M438.8 570.6h0M452 589.1h0M440.5 572.1h0M448.6 564.6h0M447.8 584.4h0M448 581.6h0M445.7 596.8h0M444.1 599.5h0M441.2 568.2h0M445.9 580.2h0M440.3 552.2h0M439 576.3h0M444 570.4h0M446.8 558h0M444.4 574h0M440.6 570.8h0M449.5 596.3h0M448.2 570.9h0M440.8 563.1h0M443.5 596h0M446.4 588.3h0M446.8 557.7h0M448.8 596.3h0M451.4 590.6h0M441.9 588.6h0M440.2 574.1h0M439.3 599.5h0M445.1 597.7h0M447.7 593.7h0M441.4 563.4h0M445.9 570.7h0M444 561.5h0M452.6 586.2h0M447.6 591h0M447.4 575.4h0M445.7 601.4h0M441 589.8h0M441.6 593.6h0M442 597.6h0M444 600.4h0M443.5 580.3h0M447.3 582.3h0M445.4 589.1h0M447 552.6h0M442.1 571.5h0M439.7 585.4h0M437.2 558.9h0M446 568.5h0M440.7 580.8h0M449.5 591.4h0M453.6 596.6h0M441.1 557.4h0M443.3 565.2h0M443.3 574.8h0M440.4 577.8h0M447.9 594h0M445.9 565.4h0M442.7 565.3h0M440.5 567.4h0M445.7 561.4h0M437.7 598h0M441.2 601.3h0M443.8 583.2h0M450.9 599.6h0M444.8 566.2h0M447.4 579.3h0M442.6 571.6h0M445.6 553.6h0M442 559.4h0M442.9 561.8h0M445.8 555.5h0M449.1 597.4h0M448 570.5h0M438.8 569.6h0M446.2 573.6h0M445.2 574.7h0M449.8 597.9h0M447.3 581.7h0M442.7 555.2h0M441.7 561.2h0M443.2 566.5h0M448.1 568.3h0M447.7 592.7h0M449.5 598.2h0M448.9 596.4h0M454 599h0M447.7 585.9h0M471.1 494h0M473.8 451.5h0M470.4 503.7h0M466.5 506.1h0M470.3 493h0M474.3 452.7h0M476.3 466.3h0M468.1 491.1h0M479 464.1h0M477.4 460.6h0M477.6 486h0M471.2 489.5h0M467.1 494.7h0M475 465.5h0M478.4 464.4h0M472.5 474.2h0M476.4 472.4h0M476.7 481.5h0M468.1 504.3h0M473.3 470.9h0M479.7 461.5h0M473.7 487.2h0M470.1 487.2h0M479.5 447.8h0M476.7 482.5h0M472.9 502.8h0M477 469.5h0M476.2 463.1h0M471.7 481.9h0M477.5 488.9h0M470.3 496.4h0M474.6 499.5h0M476.9 455.9h0M476.5 507.1h0M469.7 501.6h0M473.7 508.7h0M479.9 449.1h0M473.6 502.4h0M476.1 453.5h0M475.6 460.3h0M474.6 507.1h0M473.1 494.1h0M465.9 506.4h0M474.5 490.7h0M479.6 454.4h0M474.1 480.6h0M475.2 504h0M478.3 488.5h0M471.7 497.5h0M471.2 505.6h0M470.6 456.2h0M476.7 486.3h0M477.3 491.1h0M473 466.5h0M472.6 493h0M468.7 479.5h0M466.3 492h0M472.3 502h0M472.9 507.6h0M473.1 474.5h0M473.6 485.6h0M472.3 489.6h0M472 503.6h0M475.7 506.6h0M471.8 463.5h0M475 503h0M473.1 501.4h0M473.3 469.8h0M474.2 476.7h0M471.8 465.5h0M475.2 448.2h0M470.2 475.4h0M476.8 481.3h0M477.1 457.7h0M467.1 503.7h0M471.5 498.5h0M477.8 498.9h0M472.8 452.5h0M477.8 474.2h0M473.3 460.3h0M472.5 494.1h0M477.2 451.2h0M474.7 453.7h0M476.6 502.1h0M479.6 458.7h0M474.2 456h0M471.2 461.7h0M469.7 505.3h0M466.3 489.6h0M474.9 451.2h0M472 497.5h0M475.3 481.9h0M477.8 452.6h0M476.4 487.6h0M478.5 452.9h0M468.9 484.2h0M476.7 486.4h0M476.2 503h0M470.9 478.7h0M470.8 495.1h0M470.8 500.9h0M475.4 474.1h0M474 497.7h0M469 500h0M476.8 472.3h0M466.8 501h0M473.1 502.7h0M474.2 507.4h0M476.5 458.5h0M470.1 474.4h0M477.6 475.9h0M469.3 468.3h0M470.8 475.2h0M473.2 449.8h0M471.9 494.7h0M474.6 506.6h0M473.7 481.9h0M479.1 472.1h0M467.3 502h0M475.4 485.4h0M472.6 489.3h0M471.3 490.9h0M469.8 485.6h0M472 508.9h0M470.5 508.8h0M474.3 475.1h0M469.4 474.8h0M473.8 480.9h0M477.9 480.5h0M472.6 448.8h0M476.1 455.7h0M471.4 477h0M474.9 470.1h0M473.5 504.3h0M467.9 503.7h0M477.8 470.3h0M470.8 457.3h0M472.3 483.7h0M472.2 482.2h0M479 461.1h0M472.7 493.5h0M476.4 483.3h0M474.7 484.2h0M471.3 491.4h0M472.4 482.5h0M470.8 501.5h0M478.4 461.8h0M467.5 484.8h0M478.5 456.3h0M477.1 488h0M467.5 494.6h0M479.1 467.8h0M477.1 506.1h0M473.2 456.3h0M473.7 490.7h0M470.1 492.9h0M475.4 464.7h0M471.6 505.1h0M471.4 492.1h0M476.7 507.4h0M475.1 477.7h0M472.7 455h0M471.6 454.8h0M472.5 459.5h0M468.3 483.6h0M478.7 468.4h0M476.9 478.6h0M468.9 505.7h0M477.2 493h0M474.8 457.4h0M477.4 457.1h0M471.5 495.2h0M475.7 465.8h0M469.3 503.9h0M469.1 487.4h0M468.7 476h0M473.9 507.2h0M476.4 474.2h0M466.5 507.1h0M470.6 468.3h0M467.8 507.9h0M466.3 505h0M471.9 463.2h0M477.4 454.6h0M469.6 477h0M465.8 505.8h0M471.9 503.1h0M477.2 473.5h0M474.7 473h0M470.3 462.5h0M466.6 498.7h0M472 470.6h0M477.9 472.1h0M465.8 507.7h0M474.7 505.6h0M474.1 494.7h0M468.8 491.8h0M476 467.4h0M472.9 497.3h0M469.2 478h0M475.3 454.9h0M467.5 490h0M475.1 461.5h0M474.9 488.5h0M465.7 504.1h0M469.8 455.1h0M469.5 475.6h0M474.8 479.2h0M472 485.9h0M477.3 461.7h0M473.6 501.8h0M470.7 487.9h0M475.4 449.3h0M474.2 505.1h0M474.8 467.4h0M475.6 452.2h0M468.7 489.3h0M475.2 463.6h0M478 476.9h0M475.8 455.5h0M471 470.2h0M474.1 487h0M474.2 494.7h0M466.6 499.9h0M472.4 504.1h0M477.7 447.9h0M476.2 500.9h0M475.5 451.3h0M472.8 453.1h0M471 491.7h0M478.7 472.1h0M474 471.3h0M475 450.9h0M476.2 491h0M470.9 490.6h0M478.3 456.1h0M468.6 482.5h0M468.7 498.8h0M471.2 482.3h0M475.2 448.3h0M467.7 505.1h0M474.9 485.5h0M472.7 451.7h0M474.9 467.6h0M476.1 453.1h0M477.1 460.4h0M475.8 464.2h0M475.5 478.2h0M477 471.5h0M474.6 460.5h0M476.4 480.5h0M474 468.7h0M471.9 453.1h0M471.7 494.9h0M472.3 473.9h0M466.7 499.9h0M469.7 500.9h0M475.9 488.4h0M467.6 491.8h0M468 506.5h0M475.1 452.7h0M470.2 486.7h0M477.9 457.1h0M474.1 459.2h0M475.4 461.8h0M468.6 496.4h0M470.8 505.5h0M466.1 501.6h0M472 481.3h0M466.1 494.2h0M470.4 458.8h0M472.5 482.5h0M476.6 483.2h0M471.7 493h0M473 452.7h0M471.5 507.7h0M478.8 475.5h0M474.6 453.4h0M475 504.3h0M475.4 498.6h0M476.5 497.2h0M477.6 487h0M476.7 507.6h0M472 507.5h0M476.4 448h0M472.6 505.5h0M472 473h0M472.8 453.7h0M473.3 466h0M475.9 465.2h0M466.5 501.4h0M472.5 505.3h0M476.8 448.4h0M473 496.7h0M477.5 456.2h0M472.5 454.3h0M475.7 477.4h0M473.1 462.6h0M469.7 499.8h0M475.4 495.5h0M479.6 448.7h0M472.6 451h0M467.2 497.4h0M473.4 483.3h0M473.6 493h0M468.6 477.7h0M475.1 454.9h0M469.3 487.6h0M467.5 498.8h0M474.8 486h0M476.6 500.7h0M470.2 504.6h0M471.5 481.3h0M469.2 465.5h0M469.9 479.5h0M473.1 457.2h0M473 454.6h0M472.2 477.3h0M478.3 449.8h0M475.1 464.9h0M469.8 509.1h0M468.5 486.4h0M474.1 482.4h0M465.4 498.3h0M468.1 507.6h0M473.3 461.5h0M476.9 447.9h0M465.2 499.5h0M477 457.2h0M469.2 493.7h0M477.1 419.5h0M475 440.5h0M476.5 420.7h0M479 433.3h0M471.8 442.8h0M476.7 422.8h0M479.8 434.9h0M474.5 447.4h0M480.4 441.7h0M479.1 437.6h0M474.9 424.7h0M475.2 442.8h0M477.5 422.7h0M477.6 433.5h0M478.7 440.7h0M473.1 441.8h0M479.4 418.5h0M476.2 435.7h0M473.9 435.8h0M481.1 418.7h0M480.1 418.3h0M478.7 431.2h0M480.6 431.3h0M476.6 432.9h0M478 420.5h0M479.7 418h0M478.1 424.8h0M475 434h0M476.6 419.3h0M477.7 424.7h0M477.9 419.3h0M476.8 423.5h0M478.6 442.6h0M479.7 445.8h0M477.5 424.3h0M471.8 442h0M473.7 439.5h0M473.3 439.6h0M477.5 444h0M478 427h0M476.7 440.3h0M475.2 428h0M475.7 444.4h0M477.3 420.9h0M475.8 426.6h0M478.8 431.9h0M476.2 438.4h0M477.2 421.7h0M479.7 423.3h0M478.2 437h0M478.9 424.8h0M478.4 426.4h0M480.4 435.1h0M473.6 440.6h0M478.4 419.6h0M478.2 423.9h0M472.9 443.8h0M480.7 445.1h0M477.1 423.6h0M477.8 417.9h0M473.8 436.8h0M478.5 434.5h0M477.2 429.7h0M476.4 444.9h0M477.8 436.8h0M476.3 443h0M479.4 441.3h0M477.3 430.5h0M478.8 428.5h0M473 446.2h0M438.2 515.9h0M441.8 523.7h0M439.2 515.6h0M438.8 539.1h0M436.9 542.6h0M440.1 540.1h0M437.1 509.5h0M437 539h0M438.7 526.7h0M437.8 545.3h0M439.3 521.4h0M439 509.3h0M440 502.5h0M441.2 508.3h0M441.5 545.9h0M440.6 506.7h0M440.1 523.5h0M438 538.1h0M436.8 520h0M437.2 524h0M438 516.6h0M439.3 542.9h0M435.5 502.7h0M442.4 546.9h0M436.8 506.9h0M441.6 550.4h0M439.7 545.2h0M437.8 543.9h0M440 548.3h0M436.4 528.2h0M437.5 548.7h0M442.4 511.1h0M441.7 549.4h0M440.6 528h0M443.4 542.6h0M440.7 519.1h0M435.9 502.6h0M437.1 520h0M438.5 532.1h0M434.9 526h0M442.1 549.5h0M435.8 517.8h0M438.7 516.1h0M440.6 504.5h0M440.6 517h0M442.1 506.7h0M435.1 519.4h0M443.5 545.5h0M441.1 539.1h0M443.9 546.7h0M441.4 545.5h0M437.3 542.4h0M437.6 502.1h0M438.5 549.9h0M438.7 539.6h0M437.2 521.8h0M435.2 512.9h0M441.2 531.6h0M435.6 514.9h0M440.3 529.9h0M437.3 527.4h0M436 543h0M441.5 540.9h0M441.5 503.7h0M439.9 514h0M437.9 537.8h0M440.3 549.5h0M438.9 503.1h0M440.5 507.8h0M440.5 533.4h0M438.6 583.3h0M436.8 562.1h0M438.8 566.7h0M437.6 563.4h0M435.1 579h0M433.1 562.3h0M437.7 593.6h0M438.6 552.5h0M438.1 578.3h0M433.1 595h0M437.3 551.1h0M434.1 586.4h0M433.6 582.7h0M433.1 580.8h0M436.7 595.3h0M434.2 592.8h0M432.7 571.3h0M436.7 550.7h0M436.4 564.4h0M437.8 583.9h0M431.6 572.6h0M436.6 555.4h0M433.7 573.1h0M437.8 577.5h0M432.2 598.4h0M434.1 559.8h0M436.9 588.5h0M432 590.7h0M431.9 556.3h0M437 555.8h0M438.1 582.8h0M436.1 565.5h0M431.1 557.9h0M435.7 581.7h0M436.3 563.8h0M432.6 579.5h0M432.2 596.9h0M432.2 595.2h0M436.7 570.3h0M436.3 591.9h0M475.7 593.9h0M476.4 579.3h0M475.2 577.4h0M468.5 563.6h0M468.6 594.5h0M476.3 595.7h0M470.1 566.4h0M472.9 571.2h0M474.4 591.5h0M470.4 563.9h0M472.3 580.8h0M467.3 559.8h0M476.7 576.9h0M471.7 595.5h0M433.2 420.2h0M433.8 427.6h0M434.9 470.1h0M432.7 463.7h0M469.3 421.2h0M467.8 439.3h0M475.7 432.9h0M472.5 434h0M483.7 443.6h0M454 530h0M434.9 599.7h0M479.9 531.7h0M478.4 526.4h0M482.9 536h0M455 529.8h0M454.4 555.1h0M453.1 559h0M477.7 525.3h0M480.3 529.8h0M477 564.8h0M473.5 572.2h0M472.5 585.1h0" stroke="#0a0a0a" stroke-width="2.6" stroke-linecap="round" fill="none" opacity="0.85"/>
<path d="M321.9 423.8h0M384.6 421.9h0M385.6 421h0M386.9 420.4h0M388 420h0M418.6 421.9h0M425.4 419.8h0M429.2 420.6h0M428.1 430.2h0M424.9 433.6h0M424.5 436.1h0M424.3 438.7h0M414.7 449.3h0M429.2 451.6h0M423.9 463.1h0M428.1 461.2h0M402 472.9h0M421.3 472.7h0M416.4 480.7h0M417.5 489.2h0M426 514.7h0M408.4 526.4h0M409.6 530h0M415.4 529.2h0M429.8 599.3h0M428.1 522.2h0M429.2 507.3h0" stroke="#4a98cc" stroke-width="2.8" stroke-linecap="round" fill="none" opacity="0.8"/>
<path d="M482.3 523.8h0M482.7 526.8h0M482.8 525.8h0M484.3 518.5h0M483.7 519.8h0M488.5 511.8h0M485.1 518.3h0M485.1 521.9h0M483.2 521.3h0M486.4 516.7h0M485 520.8h0M482.1 524.2h0M490.3 508.1h0M480.4 527h0M484.5 526.7h0M485.9 512.1h0M485.4 519.8h0M488.1 507.9h0M490.1 507.9h0M485.4 514.4h0M484 525.5h0M484.9 521.3h0M483.1 527.4h0M485.3 514.1h0M488.2 512.3h0M483.4 522h0M482.3 526.5h0M485.3 522.6h0M486.7 517.2h0M486.5 515.2h0M482.5 522.6h0M487.8 515.4h0M489 509.5h0M482.2 527.1h0M489.6 508.5h0M483.6 520.8h0M482.4 524.1h0M488.2 511.3h0M490.5 489.5h0M486.6 494.6h0M484.2 498.7h0M489.4 491.8h0M487.1 493h0M490.1 489.6h0M486.1 494.4h0M487.9 491.3h0M491.4 490.3h0M485.6 496.4h0M489.1 492.7h0M485.6 494.7h0M489 491.1h0M484 497h0M500 463.5h0M497.2 465.6h0M495.7 469h0M492.1 472.7h0M499.3 464.4h0M500.5 463.9h0M491.2 474.9h0M488 457.4h0M483.7 450.4h0M508.2 450.4h0M502.9 429.7h0M513.5 423.8h0M519.9 420.2h0M483.7 415.9h0M481.6 428.7h0M489.1 533.9h0M489.1 523.2h0M489.5 527.5h0M481.6 461.6h0M483.7 489.2h0M482.7 482.9h0" stroke="#d4444a" stroke-width="2.8" stroke-linecap="round" fill="none" opacity="0.85"/>
<rect x="315.5" y="410.2" width="223.9" height="197" fill="none" stroke="#444" stroke-width="0.9"/>
<line x1="313.3" y1="600.4" x2="315.5" y2="600.4" stroke="#333" stroke-width="0.6"/>
<text x="312.1" y="602.6" class="s" font-size="6.1" fill="#444" text-anchor="end" >0</text>
<line x1="313.3" y1="570" x2="315.5" y2="570" stroke="#333" stroke-width="0.6"/>
<text x="312.1" y="572.2" class="s" font-size="6.1" fill="#444" text-anchor="end" >50</text>
<line x1="313.3" y1="539.6" x2="315.5" y2="539.6" stroke="#333" stroke-width="0.6"/>
<text x="312.1" y="541.8" class="s" font-size="6.1" fill="#444" text-anchor="end" >100</text>
<line x1="313.3" y1="509.2" x2="315.5" y2="509.2" stroke="#333" stroke-width="0.6"/>
<text x="312.1" y="511.4" class="s" font-size="6.1" fill="#444" text-anchor="end" >150</text>
<line x1="313.3" y1="478.9" x2="315.5" y2="478.9" stroke="#333" stroke-width="0.6"/>
<text x="312.1" y="481.1" class="s" font-size="6.1" fill="#444" text-anchor="end" >200</text>
<line x1="313.3" y1="448.5" x2="315.5" y2="448.5" stroke="#333" stroke-width="0.6"/>
<text x="312.1" y="450.7" class="s" font-size="6.1" fill="#444" text-anchor="end" >250</text>
<line x1="313.3" y1="418.1" x2="315.5" y2="418.1" stroke="#333" stroke-width="0.6"/>
<text x="312.1" y="420.3" class="s" font-size="6.1" fill="#444" text-anchor="end" >300</text>
<line x1="326.4" y1="607.2" x2="326.4" y2="609.4" stroke="#333" stroke-width="0.6"/>
<text x="326.4" y="616" class="s" font-size="6.1" fill="#444" text-anchor="middle" >-2.5</text>
<line x1="352.3" y1="607.2" x2="352.3" y2="609.4" stroke="#333" stroke-width="0.6"/>
<text x="352.3" y="616" class="s" font-size="6.1" fill="#444" text-anchor="middle" >-2.0</text>
<line x1="378.1" y1="607.2" x2="378.1" y2="609.4" stroke="#333" stroke-width="0.6"/>
<text x="378.1" y="616" class="s" font-size="6.1" fill="#444" text-anchor="middle" >-1.5</text>
<line x1="404" y1="607.2" x2="404" y2="609.4" stroke="#333" stroke-width="0.6"/>
<text x="404" y="616" class="s" font-size="6.1" fill="#444" text-anchor="middle" >-1.0</text>
<line x1="429.8" y1="607.2" x2="429.8" y2="609.4" stroke="#333" stroke-width="0.6"/>
<text x="429.8" y="616" class="s" font-size="6.1" fill="#444" text-anchor="middle" >-0.5</text>
<line x1="455.7" y1="607.2" x2="455.7" y2="609.4" stroke="#333" stroke-width="0.6"/>
<text x="455.7" y="616" class="s" font-size="6.1" fill="#444" text-anchor="middle" >0.0</text>
<line x1="481.6" y1="607.2" x2="481.6" y2="609.4" stroke="#333" stroke-width="0.6"/>
<text x="481.6" y="616" class="s" font-size="6.1" fill="#444" text-anchor="middle" >0.5</text>
<line x1="507.4" y1="607.2" x2="507.4" y2="609.4" stroke="#333" stroke-width="0.6"/>
<text x="507.4" y="616" class="s" font-size="6.1" fill="#444" text-anchor="middle" >1.0</text>
<line x1="533.2" y1="607.2" x2="533.2" y2="609.4" stroke="#333" stroke-width="0.6"/>
<text x="533.2" y="616" class="s" font-size="6.1" fill="#444" text-anchor="middle" >1.5</text>
<text x="427.5" y="625.5" class="s" font-size="7" fill="#333" text-anchor="middle" >log2(FoldChange)</text>
<text transform="translate(298.5,507) rotate(-90)" class="s" font-size="7" fill="#333" text-anchor="middle">-log10(pvalue)</text>
<rect x="361.6" y="413.2" width="21.9" height="9.1" rx="1" fill="#fff" fill-opacity="0.85" stroke="#bcd0dc" stroke-width="0.6"/>
<text x="372.6" y="420.2" class="s" font-size="6.7" fill="#3b86b5" text-anchor="middle" >PGK1</text>
<rect x="388.2" y="416.6" width="23.6" height="9.3" rx="1" fill="#fff" fill-opacity="0.85" stroke="#bcd0dc" stroke-width="0.6"/>
<text x="400" y="423.7" class="s" font-size="6.7" fill="#3b86b5" text-anchor="middle" >ENO1</text>
<rect x="359.1" y="427.2" width="24.4" height="9.3" rx="1" fill="#fff" fill-opacity="0.85" stroke="#bcd0dc" stroke-width="0.6"/>
<text x="371.3" y="434.3" class="s" font-size="6.7" fill="#3b86b5" text-anchor="middle" >DDIT4</text>
<rect x="383.5" y="428.7" width="24.9" height="9.1" rx="1" fill="#fff" fill-opacity="0.85" stroke="#bcd0dc" stroke-width="0.6"/>
<text x="395.9" y="435.7" class="s" font-size="6.7" fill="#3b86b5" text-anchor="middle" >BNIP3</text>
<rect x="424.3" y="440.4" width="28.3" height="10" rx="1" fill="#fff" fill-opacity="0.85" stroke="#bcd0dc" stroke-width="0.6"/>
<text x="438.5" y="447.8" class="s" font-size="6.7" fill="#3b86b5" text-anchor="middle" >VEGFA</text>
<rect x="429.2" y="453.1" width="20.6" height="9.6" rx="1" fill="#fff" fill-opacity="0.85" stroke="#bcd0dc" stroke-width="0.6"/>
<text x="439.5" y="460.3" class="s" font-size="6.7" fill="#3b86b5" text-anchor="middle" >TPT1</text>
<rect x="423.4" y="478" width="34.9" height="9.5" rx="1" fill="#fff" fill-opacity="0.85" stroke="#bcd0dc" stroke-width="0.6"/>
<text x="440.9" y="485.2" class="s" font-size="6.7" fill="#3b86b5" text-anchor="middle" >HSP90B1</text>
<rect x="417.5" y="490.9" width="28" height="9.4" rx="1" fill="#fff" fill-opacity="0.85" stroke="#bcd0dc" stroke-width="0.6"/>
<text x="431.5" y="498" class="s" font-size="6.7" fill="#3b86b5" text-anchor="middle" >BNIP3L</text>
<rect x="410.1" y="531.3" width="15.3" height="8.9" rx="1" fill="#fff" fill-opacity="0.85" stroke="#bcd0dc" stroke-width="0.6"/>
<text x="417.8" y="538.2" class="s" font-size="6.7" fill="#3b86b5" text-anchor="middle" >GPI</text>
<rect x="419" y="539.2" width="33.6" height="10" rx="1" fill="#fff" fill-opacity="0.85" stroke="#bcd0dc" stroke-width="0.6"/>
<text x="435.8" y="546.6" class="s" font-size="6.7" fill="#3b86b5" text-anchor="middle" >TOMM20</text>
<rect x="484.8" y="417.4" width="21.3" height="10.6" rx="1" fill="#fff" fill-opacity="0.85" stroke="#e3c3c3" stroke-width="0.6"/>
<text x="495.5" y="425.1" class="s" font-size="6.7" fill="#c8373e" text-anchor="middle" >NEFL</text>
<rect x="519.9" y="421.2" width="33.5" height="10.7" rx="1" fill="#fff" fill-opacity="0.85" stroke="#e3c3c3" stroke-width="0.6"/>
<text x="536.6" y="429" class="s" font-size="6.7" fill="#c8373e" text-anchor="middle" >MT-ATP6</text>
<rect x="488.4" y="432.9" width="30.4" height="10.7" rx="1" fill="#fff" fill-opacity="0.85" stroke="#e3c3c3" stroke-width="0.6"/>
<text x="503.6" y="440.7" class="s" font-size="6.7" fill="#c8373e" text-anchor="middle" >MT-ND1</text>
<rect x="483.7" y="445" width="23.4" height="10.2" rx="1" fill="#fff" fill-opacity="0.85" stroke="#e3c3c3" stroke-width="0.6"/>
<text x="495.4" y="452.5" class="s" font-size="6.7" fill="#c8373e" text-anchor="middle" >SOD1</text>
<rect x="501.2" y="464.2" width="26.1" height="10.6" rx="1" fill="#fff" fill-opacity="0.85" stroke="#e3c3c3" stroke-width="0.6"/>
<text x="514.2" y="471.9" class="s" font-size="6.7" fill="#c8373e" text-anchor="middle" >GAP43</text>
<rect x="492.2" y="488.8" width="31.5" height="10.6" rx="1" fill="#fff" fill-opacity="0.85" stroke="#e3c3c3" stroke-width="0.6"/>
<text x="508" y="496.5" class="s" font-size="6.7" fill="#c8373e" text-anchor="middle" >TUBB2A</text>
<rect x="489.1" y="534.9" width="18" height="10.7" rx="1" fill="#fff" fill-opacity="0.85" stroke="#e3c3c3" stroke-width="0.6"/>
<text x="498.1" y="542.7" class="s" font-size="6.7" fill="#c8373e" text-anchor="middle" >CLU</text>
<text x="545.4" y="417.4" class="s" font-size="7" fill="#333" >Regulated</text>
<circle cx="549" cy="426.6" r="3.3" fill="#d7191c"/>
<text x="554.9" y="428.9" class="s" font-size="7" fill="#333" >Up-regulated</text>
<circle cx="548.6" cy="438.2" r="3.3" fill="#2b7bba"/>
<text x="554.9" y="440.6" class="s" font-size="7" fill="#333" >Down-regulated</text>
<text x="839.3" y="388.3" class="r" font-size="19" fill="#111" text-anchor="middle" font-weight="bold" >RGs UP DEGs GO</text>
<g transform="translate(774.6,549.8) scale(1.116)">
<path d="M0 -77.2A77.2 77.2 0 0 1 5 -77C2 -30.8 0 30.9 0 77.2A77.2 77.2 0 0 1 -9.7 76.6C-3.9 30.6 0 -30.9 0 -77.2Z" fill="#10498f" stroke="#fff" stroke-width="0.2" stroke-opacity="0.4"/>
<path d="M5 -77A77.2 77.2 0 0 1 10 -76.6C4 -30.6 -3.9 30.6 -9.7 76.6A77.2 77.2 0 0 1 -19.2 74.8C-7.7 29.9 2 -30.8 5 -77Z" fill="#10498f" stroke="#fff" stroke-width="0.2" stroke-opacity="0.4"/>
<path d="M10 -76.6A77.2 77.2 0 0 1 14.9 -75.7C6 -30.3 -7.7 29.9 -19.2 74.8A77.2 77.2 0 0 1 -28.4 71.8C-11.4 28.7 4 -30.6 10 -76.6Z" fill="#10498f" stroke="#fff" stroke-width="0.2" stroke-opacity="0.4"/>
<path d="M14.9 -75.7A77.2 77.2 0 0 1 19.8 -74.6C7.9 -29.9 -11.4 28.7 -28.4 71.8A77.2 77.2 0 0 1 -37.2 67.7C-14.9 27.1 6 -30.3 14.9 -75.7Z" fill="#10498f" stroke="#fff" stroke-width="0.2" stroke-opacity="0.4"/>
<path d="M19.8 -74.6A77.2 77.2 0 0 1 24.6 -73.2C9.8 -29.3 -30.8 -1.9 -77 -4.8A77.2 77.2 0 0 1 -76.6 -9.7C-30.6 -3.9 7.9 -29.9 19.8 -74.6Z" fill="#10498f" stroke="#fff" stroke-width="0.2" stroke-opacity="0.4"/>
<path d="M24.6 -73.2A77.2 77.2 0 0 1 29.2 -71.4C11.7 -28.6 -30.3 -5.8 -75.8 -14.5A77.2 77.2 0 0 1 -74.8 -19.2C-29.9 -7.7 9.8 -29.3 24.6 -73.2Z" fill="#10498f" stroke="#fff" stroke-width="0.2" stroke-opacity="0.4"/>
<path d="M29.2 -71.4A77.2 77.2 0 0 1 33.8 -69.4C13.5 -27.8 -29.4 -9.5 -73.4 -23.9A77.2 77.2 0 0 1 -71.8 -28.4C-28.7 -11.4 11.7 -28.6 29.2 -71.4Z" fill="#10498f" stroke="#fff" stroke-width="0.2" stroke-opacity="0.4"/>
<path d="M33.8 -69.4A77.2 77.2 0 0 1 38.2 -67.1C15.3 -26.8 -27.9 -13.1 -69.9 -32.9A77.2 77.2 0 0 1 -67.7 -37.2C-27.1 -14.9 13.5 -27.8 33.8 -69.4Z" fill="#10498f" stroke="#fff" stroke-width="0.2" stroke-opacity="0.4"/>
<path d="M38.2 -67.1A77.2 77.2 0 0 1 42.5 -64.5C17 -25.8 -23.8 -19.7 -59.5 -49.2A77.2 77.2 0 0 1 -56.3 -52.8C-22.5 -21.1 15.3 -26.8 38.2 -67.1Z" fill="#10498f" stroke="#fff" stroke-width="0.2" stroke-opacity="0.4"/>
<path d="M42.5 -64.5A77.2 77.2 0 0 1 46.6 -61.6C18.6 -24.6 -21.1 -22.5 -52.8 -56.3A77.2 77.2 0 0 1 -50.4 -58.4C-20.2 -23.4 17 -25.8 42.5 -64.5Z" fill="#10498f" stroke="#fff" stroke-width="0.2" stroke-opacity="0.4"/>
<path d="M46.6 -61.6A77.2 77.2 0 0 1 50.4 -58.4C20.2 -23.4 -11.4 -28.7 -28.4 -71.8A77.2 77.2 0 0 1 -25.4 -72.9C-10.2 -29.2 18.6 -24.6 46.6 -61.6Z" fill="#10498f" stroke="#fff" stroke-width="0.2" stroke-opacity="0.4"/>
<path d="M50.4 -58.4A77.2 77.2 0 0 1 54.2 -55C21.7 -22 -14.9 27.1 -37.2 67.7A77.2 77.2 0 0 1 -45.4 62.5C-18.2 25 20.2 -23.4 50.4 -58.4Z" fill="#e9111a" stroke="#fff" stroke-width="0.2" stroke-opacity="0.4"/>
<path d="M54.2 -55A77.2 77.2 0 0 1 57.7 -51.3C23.1 -20.5 -18.2 25 -45.4 62.5A77.2 77.2 0 0 1 -52.8 56.3C-21.1 22.5 21.7 -22 54.2 -55Z" fill="#e9111a" stroke="#fff" stroke-width="0.2" stroke-opacity="0.4"/>
<path d="M57.7 -51.3A77.2 77.2 0 0 1 61 -47.3C24.4 -18.9 -30.6 -3.9 -76.6 -9.7A77.2 77.2 0 0 1 -75.8 -14.5C-30.3 -5.8 23.1 -20.5 57.7 -51.3Z" fill="#e9111a" stroke="#fff" stroke-width="0.2" stroke-opacity="0.4"/>
<path d="M61 -47.3A77.2 77.2 0 0 1 64 -43.2C25.6 -17.3 -28.7 -11.4 -71.8 -28.4A77.2 77.2 0 0 1 -69.9 -32.9C-27.9 -13.1 24.4 -18.9 61 -47.3Z" fill="#e9111a" stroke="#fff" stroke-width="0.2" stroke-opacity="0.4"/>
<path d="M64 -43.2A77.2 77.2 0 0 1 66.7 -38.8C26.7 -15.5 -27.1 -14.9 -67.7 -37.2A77.2 77.2 0 0 1 -65.2 -41.4C-26.1 -16.5 25.6 -17.3 64 -43.2Z" fill="#e9111a" stroke="#fff" stroke-width="0.2" stroke-opacity="0.4"/>
<path d="M66.7 -38.8A77.2 77.2 0 0 1 69.1 -34.3C27.7 -13.7 -18.2 -25 -45.4 -62.5A77.2 77.2 0 0 1 -42.7 -64.3C-17.1 -25.7 26.7 -15.5 66.7 -38.8Z" fill="#e9111a" stroke="#fff" stroke-width="0.2" stroke-opacity="0.4"/>
<path d="M69.1 -34.3A77.2 77.2 0 0 1 71.3 -29.7C28.5 -11.9 -14.9 -27.1 -37.2 -67.7A77.2 77.2 0 0 1 -34.3 -69.1C-13.7 -27.7 27.7 -13.7 69.1 -34.3Z" fill="#e9111a" stroke="#fff" stroke-width="0.2" stroke-opacity="0.4"/>
<path d="M71.3 -29.7A77.2 77.2 0 0 1 73.1 -24.9C29.2 -10 -7.7 -29.9 -19.2 -74.8A77.2 77.2 0 0 1 -16.1 -75.5C-6.4 -30.2 28.5 -11.9 71.3 -29.7Z" fill="#e9111a" stroke="#fff" stroke-width="0.2" stroke-opacity="0.4"/>
<path d="M73.1 -24.9A77.2 77.2 0 0 1 74.6 -20C29.8 -8 -3.9 -30.6 -9.7 -76.6A77.2 77.2 0 0 1 -6.5 -76.9C-2.6 -30.8 29.2 -10 73.1 -24.9Z" fill="#e9111a" stroke="#fff" stroke-width="0.2" stroke-opacity="0.4"/>
<path d="M74.6 -20A77.2 77.2 0 0 1 75.7 -15C30.3 -6 -29.9 -7.7 -74.8 -19.2A77.2 77.2 0 0 1 -73.4 -23.9C-29.4 -9.5 29.8 -8 74.6 -20Z" fill="#41b349" stroke="#fff" stroke-width="0.2" stroke-opacity="0.4"/>
<path d="M75.7 -15A77.2 77.2 0 0 1 76.6 -10C30.6 -4 -20.2 -23.4 -50.4 -58.4A77.2 77.2 0 0 1 -48 -60.5C-19.2 -24.2 30.3 -6 75.7 -15Z" fill="#41b349" stroke="#fff" stroke-width="0.2" stroke-opacity="0.4"/>
<path d="M76.6 -10A77.2 77.2 0 0 1 77 -4.9C30.8 -2 -13.7 -27.7 -34.3 -69.1A77.2 77.2 0 0 1 -31.4 -70.5C-12.6 -28.2 30.6 -4 76.6 -10Z" fill="#41b349" stroke="#fff" stroke-width="0.2" stroke-opacity="0.4"/>
<path d="M77 -4.9A77.2 77.2 0 0 1 77.2 0.2C30.9 0.1 -6.4 -30.2 -16.1 -75.5A77.2 77.2 0 0 1 -12.9 -76.1C-5.1 -30.4 30.8 -2 77 -4.9Z" fill="#41b349" stroke="#fff" stroke-width="0.2" stroke-opacity="0.4"/>
<path d="M77.2 0.2A77.2 77.2 0 0 1 77 5.3C30.8 2.1 -2.6 -30.8 -6.5 -76.9A77.2 77.2 0 0 1 -3.2 -77.1C-1.3 -30.9 30.9 0.1 77.2 0.2Z" fill="#41b349" stroke="#fff" stroke-width="0.2" stroke-opacity="0.4"/>
<path d="M77 5.3A77.2 77.2 0 0 1 75.8 14.8C30.3 5.9 -17.1 -25.7 -42.7 -64.3A77.2 77.2 0 0 1 -40 -66C-16 -26.4 30.8 2.1 77 5.3Z" fill="#1a96b0" stroke="#fff" stroke-width="0.2" stroke-opacity="0.4"/>
<path d="M75.8 14.8A77.2 77.2 0 0 1 73.3 24.1C29.3 9.6 -12.6 -28.2 -31.4 -70.5A77.2 77.2 0 0 1 -28.4 -71.8C-11.4 -28.7 30.3 5.9 75.8 14.8Z" fill="#1a96b0" stroke="#fff" stroke-width="0.2" stroke-opacity="0.4"/>
<path d="M73.3 24.1A77.2 77.2 0 0 1 70.9 30.5C28.4 12.2 -16 -26.4 -40 -66A77.2 77.2 0 0 1 -37.2 -67.7C-14.9 -27.1 29.3 9.6 73.3 24.1Z" fill="#9860ab" stroke="#fff" stroke-width="0.2" stroke-opacity="0.4"/>
<path d="M70.9 30.5A77.2 77.2 0 0 1 68 36.6C27.2 14.6 -10.2 -29.2 -25.4 -72.9A77.2 77.2 0 0 1 -22.3 -73.9C-8.9 -29.6 28.4 12.2 70.9 30.5Z" fill="#9860ab" stroke="#fff" stroke-width="0.2" stroke-opacity="0.4"/>
<path d="M68 36.6A77.2 77.2 0 0 1 64.5 42.4C25.8 17 -5.1 -30.4 -12.9 -76.1A77.2 77.2 0 0 1 -9.7 -76.6C-3.9 -30.6 27.2 14.6 68 36.6Z" fill="#9860ab" stroke="#fff" stroke-width="0.2" stroke-opacity="0.4"/>
<path d="M64.5 42.4A77.2 77.2 0 0 1 61.3 46.9C24.5 18.8 -21.1 22.5 -52.8 56.3A77.2 77.2 0 0 1 -59.5 49.2C-23.8 19.7 25.8 17 64.5 42.4Z" fill="#f9b5a3" stroke="#fff" stroke-width="0.2" stroke-opacity="0.4"/>
<path d="M61.3 46.9A77.2 77.2 0 0 1 57.8 51.2C23.1 20.5 -23.8 19.7 -59.5 49.2A77.2 77.2 0 0 1 -65.2 41.4C-26.1 16.5 24.5 18.8 61.3 46.9Z" fill="#f9b5a3" stroke="#fff" stroke-width="0.2" stroke-opacity="0.4"/>
<path d="M57.8 51.2A77.2 77.2 0 0 1 54 55.2C21.6 22.1 -26.1 16.5 -65.2 41.4A77.2 77.2 0 0 1 -67.7 37.2C-27.1 14.9 23.1 20.5 57.8 51.2Z" fill="#f9b5a3" stroke="#fff" stroke-width="0.2" stroke-opacity="0.4"/>
<path d="M54 55.2A77.2 77.2 0 0 1 50.2 58.6C20.1 23.4 -27.1 14.9 -67.7 37.2A77.2 77.2 0 0 1 -69.9 32.9C-27.9 13.1 21.6 22.1 54 55.2Z" fill="#a8103d" stroke="#fff" stroke-width="0.2" stroke-opacity="0.4"/>
<path d="M50.2 58.6A77.2 77.2 0 0 1 46.2 61.8C18.5 24.7 -27.9 13.1 -69.9 32.9A77.2 77.2 0 0 1 -73.4 23.9C-29.4 9.5 20.1 23.4 50.2 58.6Z" fill="#a8103d" stroke="#fff" stroke-width="0.2" stroke-opacity="0.4"/>
<path d="M46.2 61.8A77.2 77.2 0 0 1 42 64.7C16.8 25.9 -29.4 9.5 -73.4 23.9A77.2 77.2 0 0 1 -75.8 14.5C-30.3 5.8 18.5 24.7 46.2 61.8Z" fill="#a8103d" stroke="#fff" stroke-width="0.2" stroke-opacity="0.4"/>
<path d="M42 64.7A77.2 77.2 0 0 1 37 67.8C14.8 27.1 -30.3 5.8 -75.8 14.5A77.2 77.2 0 0 1 -77 4.8C-30.8 1.9 16.8 25.9 42 64.7Z" fill="#b3b3b3" stroke="#fff" stroke-width="0.2" stroke-opacity="0.4"/>
<path d="M37 67.8A77.2 77.2 0 0 1 31.6 70.4C12.7 28.2 -30.8 1.9 -77 4.8A77.2 77.2 0 0 1 -77 -4.8C-30.8 -1.9 14.8 27.1 37 67.8Z" fill="#b3b3b3" stroke="#fff" stroke-width="0.2" stroke-opacity="0.4"/>
<path d="M31.6 70.4A77.2 77.2 0 0 1 26.2 72.6C10.5 29.1 -26.1 -16.5 -65.2 -41.4A77.2 77.2 0 0 1 -62.5 -45.4C-25 -18.2 12.7 28.2 31.6 70.4Z" fill="#b3b3b3" stroke="#fff" stroke-width="0.2" stroke-opacity="0.4"/>
<path d="M26.2 72.6A77.2 77.2 0 0 1 20.5 74.4C8.2 29.8 -19.2 -24.2 -48 -60.5A77.2 77.2 0 0 1 -45.4 -62.5C-18.2 -25 10.5 29.1 26.2 72.6Z" fill="#b3b3b3" stroke="#fff" stroke-width="0.2" stroke-opacity="0.4"/>
<path d="M20.5 74.4A77.2 77.2 0 0 1 14.7 75.8C5.9 30.3 -1.3 -30.9 -3.2 -77.1A77.2 77.2 0 0 1 -0 -77.2C-0 -30.9 8.2 29.8 20.5 74.4Z" fill="#b3b3b3" stroke="#fff" stroke-width="0.2" stroke-opacity="0.4"/>
<path d="M14.7 75.8A77.2 77.2 0 0 1 9.9 76.6C3.9 30.6 -25 -18.2 -62.5 -45.4A77.2 77.2 0 0 1 -59.5 -49.2C-23.8 -19.7 5.9 30.3 14.7 75.8Z" fill="#b5f5f8" stroke="#fff" stroke-width="0.2" stroke-opacity="0.4"/>
<path d="M9.9 76.6A77.2 77.2 0 0 1 4.9 77C2 30.8 -22.5 -21.1 -56.3 -52.8A77.2 77.2 0 0 1 -52.8 -56.3C-21.1 -22.5 3.9 30.6 9.9 76.6Z" fill="#b5f5f8" stroke="#fff" stroke-width="0.2" stroke-opacity="0.4"/>
<path d="M4.9 77A77.2 77.2 0 0 1 0 77.2C0 30.9 -8.9 -29.6 -22.3 -73.9A77.2 77.2 0 0 1 -19.2 -74.8C-7.7 -29.9 2 30.8 4.9 77Z" fill="#b5f5f8" stroke="#fff" stroke-width="0.2" stroke-opacity="0.4"/>
<path d="M-11 -85.3A86 86 0 0 1 -0 -86L-0 -78A78 78 0 0 0 -10 -77.4Z" fill="#fbe3b0"/>
<path d="M-21.6 -83.2A86 86 0 0 1 -10.8 -85.3L-9.8 -77.4A78 78 0 0 0 -19.6 -75.5Z" fill="#fbd8a6"/>
<path d="M-31.9 -79.9A86 86 0 0 1 -21.4 -83.3L-19.4 -75.5A78 78 0 0 0 -28.9 -72.4Z" fill="#facc9b"/>
<path d="M-41.6 -75.3A86 86 0 0 1 -31.7 -80L-28.7 -72.5A78 78 0 0 0 -37.8 -68.3Z" fill="#f9bc8f"/>
<path d="M-50.7 -69.4A86 86 0 0 1 -41.4 -75.4L-37.6 -68.4A78 78 0 0 0 -46 -63Z" fill="#f7ae86"/>
<path d="M-59 -62.5A86 86 0 0 1 -50.5 -69.6L-45.8 -63.1A78 78 0 0 0 -53.5 -56.7Z" fill="#f4a07d"/>
<path d="M-66.4 -54.6A86 86 0 0 1 -58.9 -62.7L-53.4 -56.9A78 78 0 0 0 -60.2 -49.6Z" fill="#f19277"/>
<path d="M-72.7 -45.9A86 86 0 0 1 -66.3 -54.8L-60.1 -49.7A78 78 0 0 0 -66 -41.6Z" fill="#ee8373"/>
<path d="M-77.9 -36.4A86 86 0 0 1 -72.6 -46.1L-65.9 -41.8A78 78 0 0 0 -70.7 -33Z" fill="#ea7570"/>
<path d="M-81.9 -26.4A86 86 0 0 1 -77.8 -36.6L-70.6 -33.2A78 78 0 0 0 -74.2 -23.9Z" fill="#e26574"/>
<path d="M-84.5 -15.9A86 86 0 0 1 -81.8 -26.6L-74.2 -24.1A78 78 0 0 0 -76.7 -14.4Z" fill="#d95778"/>
<path d="M-85.8 -5.2A86 86 0 0 1 -84.5 -16.1L-76.6 -14.6A78 78 0 0 0 -77.9 -4.7Z" fill="#cd4a7e"/>
<path d="M-85.8 5.6A86 86 0 0 1 -85.8 -5.4L-77.8 -4.9A78 78 0 0 0 -77.8 5.1Z" fill="#c04182"/>
<path d="M-84.4 16.3A86 86 0 0 1 -85.8 5.4L-77.8 4.9A78 78 0 0 0 -76.6 14.8Z" fill="#b23a86"/>
<path d="M-81.7 26.8A86 86 0 0 1 -84.5 16.1L-76.6 14.6A78 78 0 0 0 -74.1 24.3Z" fill="#a23389"/>
<path d="M-77.7 36.8A86 86 0 0 1 -81.8 26.6L-74.2 24.1A78 78 0 0 0 -70.5 33.4Z" fill="#932e8b"/>
<path d="M-72.5 46.3A86 86 0 0 1 -77.8 36.6L-70.6 33.2A78 78 0 0 0 -65.7 42Z" fill="#842a8c"/>
<path d="M-66.1 55A86 86 0 0 1 -72.6 46.1L-65.9 41.8A78 78 0 0 0 -60 49.9Z" fill="#74268a"/>
<path d="M-58.7 62.8A86 86 0 0 1 -66.3 54.8L-60.1 49.7A78 78 0 0 0 -53.2 57Z" fill="#642284"/>
<path d="M-50.4 69.7A86 86 0 0 1 -58.9 62.7L-53.4 56.9A78 78 0 0 0 -45.7 63.2Z" fill="#531e7c"/>
<path d="M-41.2 75.5A86 86 0 0 1 -50.5 69.6L-45.8 63.1A78 78 0 0 0 -37.4 68.5Z" fill="#421a6c"/>
<path d="M-31.4 80A86 86 0 0 1 -41.4 75.4L-37.6 68.4A78 78 0 0 0 -28.5 72.6Z" fill="#301558"/>
<path d="M-21.2 83.4A86 86 0 0 1 -31.7 80L-28.7 72.5A78 78 0 0 0 -19.2 75.6Z" fill="#1e123c"/>
<path d="M-10.6 85.3A86 86 0 0 1 -21.4 83.3L-19.4 75.5A78 78 0 0 0 -9.6 77.4Z" fill="#100c24"/>
<path d="M0.2 86A86 86 0 0 1 -10.8 85.3L-9.8 77.4A78 78 0 0 0 0.2 78Z" fill="#050510"/>
<path d="M0 -86A86 86 0 0 1 56.3 -65L53.6 -61.8A81.8 81.8 0 0 0 0 -81.8Z" fill="#10498f"/>
<path d="M0 -81A81 81 0 0 1 53 -61.2L51.1 -59A78 78 0 0 0 0 -78Z" fill="#fffaf2"/>
<path d="M56.2 -65.1A86 86 0 0 1 83.1 -22.1L79 -21A81.8 81.8 0 0 0 53.4 -61.9Z" fill="#e9111a"/>
<path d="M52.9 -61.3A81 81 0 0 1 78.3 -20.8L75.4 -20.1A78 78 0 0 0 51 -59Z" fill="#fff7ec"/>
<path d="M83.1 -22.3A86 86 0 0 1 85.8 6L81.6 5.7A81.8 81.8 0 0 0 79 -21.2Z" fill="#41b349"/>
<path d="M78.2 -21A81 81 0 0 1 80.8 5.7L77.8 5.4A78 78 0 0 0 75.3 -20.2Z" fill="#fef0d2"/>
<path d="M85.8 5.8A86 86 0 0 1 81.7 27L77.7 25.7A81.8 81.8 0 0 0 81.6 5.6Z" fill="#1a96b0"/>
<path d="M80.8 5.5A81 81 0 0 1 76.9 25.4L74.1 24.5A78 78 0 0 0 77.8 5.3Z" fill="#fde3bd"/>
<path d="M81.7 26.9A86 86 0 0 1 71.8 47.3L68.3 45A81.8 81.8 0 0 0 77.7 25.5Z" fill="#9860ab"/>
<path d="M76.9 25.3A81 81 0 0 1 67.6 44.6L65.1 42.9A78 78 0 0 0 74.1 24.4Z" fill="#f4a582"/>
<path d="M71.9 47.2A86 86 0 0 1 60.1 61.5L57.1 58.5A81.8 81.8 0 0 0 68.4 44.9Z" fill="#f9b5a3"/>
<path d="M67.7 44.5A81 81 0 0 1 56.6 58L54.5 55.8A78 78 0 0 0 65.2 42.8Z" fill="#fdbb84"/>
<path d="M60.2 61.4A86 86 0 0 1 46.7 72.2L44.4 68.7A81.8 81.8 0 0 0 57.2 58.4Z" fill="#a8103d"/>
<path d="M56.7 57.9A81 81 0 0 1 44 68L42.4 65.5A78 78 0 0 0 54.6 55.7Z" fill="#ef6548"/>
<path d="M46.8 72.1A86 86 0 0 1 16.3 84.4L15.5 80.3A81.8 81.8 0 0 0 44.6 68.6Z" fill="#b3b3b3"/>
<path d="M44.1 67.9A81 81 0 0 1 15.3 79.5L14.7 76.6A78 78 0 0 0 42.5 65.4Z" fill="#f9c9a0"/>
<path d="M16.4 84.4A86 86 0 0 1 -0.2 86L-0.1 81.8A81.8 81.8 0 0 0 15.6 80.3Z" fill="#b5f5f8"/>
<path d="M15.5 79.5A81 81 0 0 1 -0.1 81L-0.1 78A78 78 0 0 0 14.9 76.6Z" fill="#7f0000"/>
<text transform="translate(-5.5,-86.8) rotate(86.4)" class="r" font-size="8.5" fill="#111" text-anchor="end" dy="0.13em">SOD1</text>
<text transform="translate(-16.3,-85.5) rotate(79.2)" class="r" font-size="8.5" fill="#111" text-anchor="end" dy="0.13em">PRDX2</text>
<text transform="translate(-26.9,-82.7) rotate(72)" class="r" font-size="8.5" fill="#111" text-anchor="end" dy="0.13em">CLU</text>
<text transform="translate(-37,-78.7) rotate(64.8)" class="r" font-size="8.5" fill="#111" text-anchor="end" dy="0.13em">PRDX5</text>
<text transform="translate(-46.6,-73.5) rotate(57.6)" class="r" font-size="8.5" fill="#111" text-anchor="end" dy="0.13em">GSTP1</text>
<text transform="translate(-55.5,-67) rotate(50.4)" class="r" font-size="8.5" fill="#111" text-anchor="end" dy="0.13em">NDUFA13</text>
<text transform="translate(-63.4,-59.6) rotate(43.2)" class="r" font-size="8.5" fill="#111" text-anchor="end" dy="0.13em">SQSTM1</text>
<text transform="translate(-70.4,-51.1) rotate(36)" class="r" font-size="8.5" fill="#111" text-anchor="end" dy="0.13em">MLLT11</text>
<text transform="translate(-76.2,-41.9) rotate(28.8)" class="r" font-size="8.5" fill="#111" text-anchor="end" dy="0.13em">NDUFA12</text>
<text transform="translate(-80.9,-32) rotate(21.6)" class="r" font-size="8.5" fill="#111" text-anchor="end" dy="0.13em">ND5</text>
<text transform="translate(-84.3,-21.6) rotate(14.4)" class="r" font-size="8.5" fill="#111" text-anchor="end" dy="0.13em">ND2</text>
<text transform="translate(-86.3,-10.9) rotate(7.2)" class="r" font-size="8.5" fill="#111" text-anchor="end" dy="0.13em">ND1</text>
<text transform="translate(-87,0) rotate(0)" class="r" font-size="8.5" fill="#111" text-anchor="end" dy="0.13em">ID3</text>
<text transform="translate(-86.3,10.9) rotate(-7.2)" class="r" font-size="8.5" fill="#111" text-anchor="end" dy="0.13em">EIF5A</text>
<text transform="translate(-84.3,21.6) rotate(-14.4)" class="r" font-size="8.5" fill="#111" text-anchor="end" dy="0.13em">TUBA1A</text>
<text transform="translate(-80.9,32) rotate(-21.6)" class="r" font-size="8.5" fill="#111" text-anchor="end" dy="0.13em">TUBB2A</text>
<text transform="translate(-76.2,41.9) rotate(-28.8)" class="r" font-size="8.5" fill="#111" text-anchor="end" dy="0.13em">NEFL</text>
<text transform="translate(-70.4,51.1) rotate(-36)" class="r" font-size="8.5" fill="#111" text-anchor="end" dy="0.13em">FTL</text>
<text transform="translate(-63.4,59.6) rotate(-43.2)" class="r" font-size="8.5" fill="#111" text-anchor="end" dy="0.13em">FTH1</text>
<text transform="translate(-55.5,67) rotate(-50.4)" class="r" font-size="8.5" fill="#111" text-anchor="end" dy="0.13em">ND3</text>
<text transform="translate(-46.6,73.5) rotate(-57.6)" class="r" font-size="8.5" fill="#111" text-anchor="end" dy="0.13em">COX1</text>
<text transform="translate(-37,78.7) rotate(-64.8)" class="r" font-size="8.5" fill="#111" text-anchor="end" dy="0.13em">NDUFB7</text>
<text transform="translate(-26.9,82.7) rotate(-72)" class="r" font-size="8.5" fill="#111" text-anchor="end" dy="0.13em">NDUFB2</text>
<text transform="translate(-16.3,85.5) rotate(-79.2)" class="r" font-size="8.5" fill="#111" text-anchor="end" dy="0.13em">ND4</text>
<text transform="translate(-5.5,86.8) rotate(-86.4)" class="r" font-size="8.5" fill="#111" text-anchor="end" dy="0.13em">COX7A2</text>
</g>
<text x="878.3" y="512.3" class="r" font-size="9.2" fill="#111" >Pathway</text>
<circle cx="882.8" cy="519" r="4.7" fill="#10498f"/>
<text x="889.5" y="521.9" class="r" font-size="9.26" fill="#111" >mitochondrion organization</text>
<circle cx="882.8" cy="529.2" r="4.7" fill="#e9111a"/>
<text x="889.5" y="532.1" class="r" font-size="9.26" fill="#111" >response to oxidative stress</text>
<circle cx="882.8" cy="539.3" r="4.7" fill="#41b349"/>
<text x="889.5" y="542.2" class="r" font-size="9.26" fill="#111" >reactive oxygen species metabolic process</text>
<circle cx="882.8" cy="549.5" r="4.7" fill="#1a96b0"/>
<text x="889.5" y="552.4" class="r" font-size="9.26" fill="#111" >cellular oxidant detoxification</text>
<circle cx="882.8" cy="559.7" r="4.7" fill="#9860ab"/>
<text x="889.5" y="562.6" class="r" font-size="9.26" fill="#111" >negative regulation of apoptotic signaling pathway</text>
<circle cx="882.8" cy="569.8" r="4.7" fill="#f9b5a3"/>
<text x="889.5" y="572.7" class="r" font-size="9.26" fill="#111" >intracellular iron ion homeostasis</text>
<circle cx="882.8" cy="580" r="4.7" fill="#a8103d"/>
<text x="889.5" y="582.9" class="r" font-size="9.26" fill="#111" >cerebral cortex development</text>
<circle cx="882.8" cy="590.2" r="4.7" fill="#b3b3b3"/>
<text x="889.5" y="593.1" class="r" font-size="9.26" fill="#111" >positive regulation of apoptotic process</text>
<circle cx="882.8" cy="600.3" r="4.7" fill="#b5f5f8"/>
<text x="889.5" y="603.2" class="r" font-size="9.26" fill="#111" >regulation of mitochondrion organization</text>
<defs><linearGradient id="gF" x1="0" x2="1" y1="0" y2="0"><stop offset="0%" stop-color="#fff7ec"/><stop offset="22%" stop-color="#fee8c8"/><stop offset="40%" stop-color="#fdd49e"/><stop offset="52%" stop-color="#fdbb84"/><stop offset="64%" stop-color="#fc8d59"/><stop offset="74%" stop-color="#ef6548"/><stop offset="83%" stop-color="#d7301f"/><stop offset="92%" stop-color="#b30000"/><stop offset="100%" stop-color="#7f0000"/></linearGradient></defs>
<rect x="878.3" y="465.5" width="109" height="15.2" fill="url(#gF)"/>
<text x="932.8" y="463.2" class="r" font-size="9.2" fill="#111" text-anchor="middle" >pvalue</text>
<line x1="878.3" y1="481.7" x2="987.3" y2="481.7" stroke="#222" stroke-width="0.6"/>
<line x1="878.5" y1="480.5" x2="878.5" y2="485.1" stroke="#222" stroke-width="0.7"/>
<line x1="902.8" y1="480.5" x2="902.8" y2="485.1" stroke="#222" stroke-width="0.7"/>
<line x1="927.2" y1="480.5" x2="927.2" y2="485.1" stroke="#222" stroke-width="0.7"/>
<line x1="951.7" y1="480.5" x2="951.7" y2="485.1" stroke="#222" stroke-width="0.7"/>
<line x1="976.1" y1="480.5" x2="976.1" y2="485.1" stroke="#222" stroke-width="0.7"/>
<line x1="987.1" y1="480.5" x2="987.1" y2="485.1" stroke="#222" stroke-width="0.7"/>
<text x="902.8" y="494.2" class="r" font-size="8.9" fill="#222" text-anchor="middle" >0.001</text>
<text x="927.2" y="494.2" class="r" font-size="8.9" fill="#222" text-anchor="middle" >0.002</text>
<text x="951.7" y="494.2" class="r" font-size="8.9" fill="#222" text-anchor="middle" >0.003</text>
<text x="976.1" y="494.2" class="r" font-size="8.9" fill="#222" text-anchor="middle" >0.004</text>
<path d="M78.4 745.8C78.5 746.5 78.8 748.3 79 749.6C79.2 750.8 79.3 752 79.7 753.3C80 754.7 80.6 756.1 81.1 757.5C81.6 758.9 82 760.3 82.5 761.7C83 763.1 83.6 764.4 84.2 765.8C84.7 767.2 85.3 768.6 85.8 770C86.3 771.4 86.7 772.8 87.1 774.2C87.5 775.6 88 776.9 88.3 778.3C88.7 779.7 88.8 781.1 89 782.5C89.2 783.9 89.5 785.1 89.7 786.7C89.8 788.2 89.8 790 89.8 791.7C89.9 793.3 90 795 90 796.7C90 798.3 89.7 800 89.6 801.7C89.4 803.3 89.4 805 89.2 806.7C89 808.3 88.6 810 88.3 811.7C88.1 813.3 87.7 815.1 87.5 816.7C87.3 818.2 87.3 819.4 87.3 820.8C87.2 822.2 86.9 823.8 87 825C87.1 826.2 87.4 827.2 87.7 828.3C87.9 829.4 87.9 830.6 88.3 831.7C88.8 832.8 89.7 833.9 90.4 835C91.1 836.1 92 837.4 92.5 838.3C93 839.3 93.2 840 93.6 840.8C93.9 841.7 94.5 842.7 94.7 843.3C94.8 844 94.5 844.3 94.4 844.8C94.3 845.3 94.2 846.1 94.2 846.3L78.3 846.3L78.3 745.8Z" fill="#ff7f0e" stroke="#3a3a3a" stroke-width="0.3" stroke-linejoin="round"/>
<path d="M77.5 728C77.5 728.1 77.4 728.2 77.4 728.3C77.4 728.4 77.5 727.9 77.3 728.7C77.2 729.4 76.8 731.3 76.6 732.7C76.3 734 76.2 735.3 75.8 736.7C75.4 738 74.7 739.4 74.2 740.8C73.6 742.2 73.1 743.6 72.5 745C71.9 746.4 71.1 747.8 70.4 749.2C69.7 750.6 69 751.9 68.3 753.3C67.7 754.7 67.2 756.1 66.7 757.5C66.1 758.9 65.4 760.3 65 761.7C64.6 763.1 64.3 764.4 64 765.8C63.7 767.2 63.2 768.8 63 770C62.8 771.2 62.8 772.2 62.8 773.3C62.7 774.4 62.4 775.3 62.5 776.7C62.6 778.1 63.1 780 63.3 781.7C63.6 783.3 63.7 785 64.2 786.7C64.7 788.3 65.6 790 66.2 791.7C66.9 793.3 67.7 795 68.3 796.7C69 798.3 69.6 800 70.2 801.7C70.8 803.3 71.6 805 72 806.7C72.4 808.3 72.4 810 72.7 811.7C72.9 813.3 73.4 815.3 73.3 816.7C73.3 818.1 72.8 818.9 72.5 820C72.2 821.1 72.2 822.1 71.7 823.3C71.2 824.6 70.3 826.1 69.6 827.5C68.9 828.9 68.2 830.4 67.5 831.7C66.8 832.9 66.1 833.9 65.4 835C64.7 836.1 63.8 837.4 63.3 838.3C62.8 839.3 62.8 840 62.5 840.8C62.2 841.7 61.8 842.7 61.7 843.3C61.6 844 61.8 844.3 61.8 844.8C61.9 845.3 62 846.1 62 846.3L78.3 846.3L78.3 728Z" fill="#1565a9" stroke="#3a3a3a" stroke-width="0.3" stroke-linejoin="round"/>
<path d="M114.6 743.7C114.6 747.5 114.7 759.1 114.8 766.8C114.9 774.6 114.9 784.8 115 790C115.1 795.2 115.3 795.6 115.4 798.3C115.6 801.1 115.7 804.4 115.8 806.7C116 808.9 116.1 810 116.2 811.7C116.3 813.3 116.5 815.3 116.5 816.7C116.5 818.1 116.4 818.9 116.3 820C116.3 821.1 116.3 822.1 116.2 823.3C116.1 824.6 115.9 826.1 115.8 827.5C115.6 828.9 115.4 830.6 115.3 831.7C115.3 832.8 115.5 833.3 115.6 834.2C115.7 835 115.3 836 115.8 836.7C116.3 837.4 117.6 837.8 118.5 838.3C119.4 838.9 120.1 839.4 121.2 840C122.2 840.6 123.7 841.4 124.9 842.1C126.2 842.8 127.9 843.6 128.7 844.2C129.4 844.7 129.2 844.9 129.5 845.2C129.8 845.6 130.2 846.2 130.3 846.3L114.5 846.3L114.5 743.7Z" fill="#ff7f0e" stroke="#3a3a3a" stroke-width="0.3" stroke-linejoin="round"/>
<path d="M150.4 711.7C150.5 719.6 150.6 743.3 150.6 759.2C150.7 775 150.7 797.9 150.8 806.7C151 815.4 151.3 810 151.6 811.7C151.8 813.3 152.2 815.3 152.3 816.7C152.5 818.1 152.4 818.9 152.5 820C152.6 821.1 152.8 822.1 152.7 823.3C152.6 824.6 152.2 826.1 152 827.5C151.8 828.9 151.5 830.5 151.3 831.7C151.2 832.8 151.3 833.6 151.2 834.6C151.2 835.6 150.8 836.7 151.2 837.5C151.5 838.3 152.6 838.6 153.2 839.2C153.9 839.7 154.4 840.3 155.3 840.8C156.3 841.4 157.8 841.9 159.1 842.5C160.3 843.1 161.9 843.7 162.8 844.2C163.8 844.6 164.2 844.9 164.9 845.2C165.6 845.6 166.7 846.2 167 846.3L150.3 846.3L150.3 711.7Z" fill="#ff7f0e" stroke="#3a3a3a" stroke-width="0.3" stroke-linejoin="round"/>
<path d="M150.2 711.7C150.2 716.1 150.1 729.4 150 738.3C150 747.2 150 759.2 149.8 765C149.7 770.8 149.3 770.6 149.1 773.3C148.8 776.1 148.6 779.6 148.3 781.7C148 783.8 147.6 784.4 147.2 785.8C146.9 787.2 146.5 788.6 146.2 790C145.8 791.4 145.4 792.8 145.1 794.2C144.7 795.6 144.2 797.1 144 798.3C143.8 799.6 143.8 800.6 143.7 801.7C143.6 802.8 143.3 803.9 143.3 805C143.4 806.1 143.7 807.2 143.9 808.3C144.1 809.4 144.1 810.4 144.5 811.7C144.9 812.9 145.6 814.4 146.2 815.8C146.7 817.2 147.4 818.6 147.8 820C148.2 821.4 148.4 822.8 148.7 824.2C148.9 825.6 149.4 827.1 149.5 828.3C149.6 829.6 149.3 830.6 149.2 831.7C149.2 832.8 149.5 834 149 835C148.5 836 147.2 836.7 146.3 837.5C145.4 838.3 144.7 839.2 143.7 840C142.6 840.8 141.2 841.4 139.9 842.1C138.7 842.8 137 843.6 136.2 844.2C135.4 844.7 135.4 844.9 135.1 845.2C134.7 845.6 134.2 846.2 134 846.3L150.3 846.3L150.3 711.7Z" fill="#1565a9" stroke="#3a3a3a" stroke-width="0.3" stroke-linejoin="round"/>
<path d="M56.7 704.7V853.3H171.7" fill="none" stroke="#444" stroke-width="0.55"/>
<line x1="55.5" y1="745.5" x2="56.7" y2="745.5" stroke="#444" stroke-width="0.45"/>
<text x="54.5" y="746.6" class="r" font-size="3.3" fill="#333" text-anchor="end" >4</text>
<line x1="55.5" y1="795.8" x2="56.7" y2="795.8" stroke="#444" stroke-width="0.45"/>
<text x="54.5" y="796.9" class="r" font-size="3.3" fill="#333" text-anchor="end" >2</text>
<line x1="55.5" y1="846.3" x2="56.7" y2="846.3" stroke="#444" stroke-width="0.45"/>
<text x="54.5" y="847.4" class="r" font-size="3.3" fill="#333" text-anchor="end" >0</text>
<line x1="78.3" y1="853.3" x2="78.3" y2="854.6" stroke="#444" stroke-width="0.45"/>
<line x1="114.5" y1="853.3" x2="114.5" y2="854.6" stroke="#444" stroke-width="0.45"/>
<line x1="150.3" y1="853.3" x2="150.3" y2="854.6" stroke="#444" stroke-width="0.45"/>
<text x="78" y="861.7" class="r" font-size="7.5" fill="#222" text-anchor="middle" >Glial</text>
<text x="112.8" y="861.7" class="r" font-size="7.5" fill="#222" text-anchor="middle" >Neuron</text>
<text x="149.7" y="861.7" class="r" font-size="7.5" fill="#222" text-anchor="middle" >RGs</text>
<text x="122.5" y="706.7" class="r" font-size="8.8" fill="#111" text-anchor="middle" font-weight="bold" >MT−ND2</text>
<text transform="translate(49.7,780.8) rotate(-90)" class="r" font-size="3.5" fill="#222" text-anchor="middle">Expression Level</text>
<rect x="176" y="774.2" width="4.9" height="4.8" fill="#1565a9"/>
<rect x="176" y="779" width="4.9" height="4.8" fill="#ff7f0e"/>
<text x="183" y="777.9" class="r" font-size="3.5" fill="#222">MeCP2<tspan font-size="2.1" dy="-1.2"> del6</tspan></text>
<text x="183" y="782.7" class="r" font-size="3.5" fill="#222" >Control</text>
<path d="M114.5 743.7V846.3M98.3 846.4H114.5" stroke="#3a3a3a" stroke-width="0.5" fill="none"/>
<path d="M239.8 727.5C239.9 728 240.2 729.4 240.4 730.4C240.6 731.4 240.7 732.2 241 733.3C241.3 734.5 241.9 736.1 242.4 737.5C242.9 738.9 243.3 740.3 243.8 741.7C244.4 743.1 245.1 744.4 245.8 745.8C246.4 747.2 247 748.5 247.7 750C248.3 751.5 248.9 753.3 249.5 755C250.1 756.7 250.9 758.3 251.3 760C251.8 761.7 252 763.3 252.3 765C252.7 766.7 253.1 768.3 253.3 770C253.5 771.7 253.5 773.3 253.6 775C253.7 776.7 253.9 778.3 253.8 780C253.8 781.7 253.4 783.3 253.2 785C253.1 786.7 252.9 788.3 252.7 790C252.4 791.7 252.1 793.3 251.8 795C251.6 796.7 251.2 798.3 251 800C250.8 801.7 250.6 803.3 250.3 805C250.1 806.7 249.8 808.3 249.7 810C249.5 811.7 249.6 813.3 249.5 815C249.4 816.7 249.3 818.5 249.3 820C249.4 821.5 249.7 822.8 249.9 824.2C250.1 825.6 250.2 827.1 250.5 828.3C250.8 829.6 251.4 830.6 251.9 831.7C252.4 832.8 252.9 834 253.3 835C253.7 836 254.1 836.7 254.4 837.5C254.8 838.3 255.3 839.2 255.5 840C255.7 840.8 255.5 841.4 255.5 842.1C255.5 842.8 255.5 843.8 255.5 844.2L239.7 844.2L239.7 727.5Z" fill="#ff7f0e" stroke="#3a3a3a" stroke-width="0.3" stroke-linejoin="round"/>
<path d="M237 709.2C237 709.2 236.9 709.3 236.9 709.4C236.9 709.5 237.1 709 236.8 709.7C236.6 710.3 235.8 712 235.3 713.2C234.8 714.3 234.4 715.4 233.8 716.7C233.2 717.9 232.4 719.4 231.8 720.8C231.1 722.2 230.3 723.6 229.7 725C229 726.4 228.4 727.8 227.8 729.2C227.2 730.6 226.5 731.9 226 733.3C225.5 734.7 225.3 736.1 224.9 737.5C224.6 738.9 224.1 740.3 223.8 741.7C223.6 743.1 223.6 744.4 223.4 745.8C223.3 747.2 223 748.5 223 750C223 751.5 223.1 753.3 223.2 755C223.2 756.7 223.1 758.1 223.3 760C223.5 761.9 224.1 764.4 224.4 766.7C224.8 768.9 225 771.1 225.5 773.3C226 775.6 226.8 777.8 227.4 780C228.1 782.2 228.7 784.4 229.3 786.7C229.9 788.9 230.4 791.1 231 793.3C231.6 795.6 232.3 797.8 232.7 800C233 802.2 233.1 804.4 233.2 806.7C233.4 808.9 233.9 811.4 233.8 813.3C233.7 815.3 233 816.7 232.6 818.3C232.2 820 231.8 821.8 231.3 823.3C230.8 824.9 230.1 826.1 229.5 827.5C228.9 828.9 228.2 830.4 227.7 831.7C227.2 832.9 226.9 833.9 226.6 835C226.2 836.1 225.7 837.3 225.5 838.3C225.3 839.4 225.3 840.3 225.2 841.2C225.2 842.2 225 843.7 225 844.2L239.7 844.2L239.7 709.2Z" fill="#1565a9" stroke="#3a3a3a" stroke-width="0.3" stroke-linejoin="round"/>
<path d="M275.4 722.5C275.5 727.6 275.6 742.8 275.6 752.9C275.7 763.1 275.7 777 275.8 783.3C276 789.7 276.2 788.3 276.4 790.8C276.6 793.3 276.8 796.1 277 798.3C277.2 800.6 277.3 802.2 277.4 804.2C277.6 806.1 277.8 808.2 277.8 810C277.9 811.8 277.8 813.3 277.8 815C277.7 816.7 277.8 818.3 277.7 820C277.6 821.7 277.3 823.3 277.2 825C277 826.7 276.7 828.8 276.7 830C276.6 831.2 276.9 831.7 277 832.5C277.1 833.3 276.9 834.3 277.3 835C277.8 835.7 278.9 836.1 279.7 836.7C280.4 837.2 281.1 837.8 282 838.3C282.9 838.9 283.9 839.4 284.9 840C285.9 840.6 287 841.2 287.8 841.7C288.6 842.2 289.1 842.6 289.8 843.1C290.4 843.6 291.3 844.3 291.7 844.5L275.3 844.5L275.3 722.5Z" fill="#ff7f0e" stroke="#3a3a3a" stroke-width="0.3" stroke-linejoin="round"/>
<path d="M275.2 722.5C275.2 732 275.2 760.6 275.1 779.6C275.1 798.6 275.2 826.8 275 836.7C274.8 846.5 274.3 838.1 273.9 838.8C273.6 839.4 273.6 840.3 272.8 840.8C272 841.4 270.3 841.6 269.1 841.9C267.8 842.3 266.4 842.7 265.3 843C264.2 843.3 263.4 843.5 262.4 843.8C261.4 844 260 844.4 259.5 844.5L275.3 844.5L275.3 722.5Z" fill="#1565a9" stroke="#3a3a3a" stroke-width="0.3" stroke-linejoin="round"/>
<path d="M311.8 710.3C311.8 717.7 311.9 739.7 312 754.3C312 769 312 790 312.2 798.3C312.3 806.6 312.6 802.2 312.8 804.2C312.9 806.1 313.2 808.3 313.3 810C313.5 811.7 313.6 812.8 313.7 814.2C313.8 815.6 314 816.9 314 818.3C314 819.7 313.7 821.1 313.5 822.5C313.3 823.9 313.1 825.4 313 826.7C312.9 827.9 312.8 828.9 312.8 830C312.7 831.1 312.3 832.5 312.5 833.3C312.7 834.2 313.6 834.4 314.2 835C314.7 835.6 314.9 836 315.8 836.7C316.7 837.3 318.3 838.1 319.6 838.8C320.8 839.4 322.3 840.2 323.3 840.8C324.3 841.5 324.9 842.1 325.7 842.7C326.4 843.3 327.6 844.2 328 844.5L311.7 844.5L311.7 710.3Z" fill="#ff7f0e" stroke="#3a3a3a" stroke-width="0.3" stroke-linejoin="round"/>
<path d="M311.6 710.3C311.5 713.5 311.4 723 311.4 729.3C311.3 735.7 311.4 744.1 311.2 748.3C311 752.6 310.5 752.8 310.2 755C309.8 757.2 309.8 759.9 309.2 761.7C308.6 763.5 307.5 764.4 306.7 765.8C305.8 767.2 304.9 768.8 304.2 770C303.4 771.2 302.9 772.2 302.2 773.3C301.6 774.4 300.7 775.7 300.3 776.7C300 777.6 300.1 778.3 300 779.2C299.9 780 299.6 780.8 299.7 781.7C299.7 782.5 300.1 783.3 300.2 784.2C300.4 785 300.4 785.7 300.8 786.7C301.3 787.6 302.2 788.9 302.9 790C303.6 791.1 304.4 792.1 305 793.3C305.6 794.6 306.1 796.1 306.7 797.5C307.2 798.9 307.9 800 308.3 801.7C308.7 803.3 308.8 805.6 309 807.5C309.2 809.4 309.5 811.2 309.7 813.3C309.8 815.4 309.8 817.8 309.8 820C309.9 822.2 310.2 825 310 826.7C309.8 828.3 309.2 828.9 308.8 830C308.3 831.1 308.3 832.4 307.5 833.3C306.7 834.3 305.3 835 304.2 835.8C303.1 836.7 301.8 837.6 300.8 838.3C299.9 839.1 299.2 839.7 298.3 840.4C297.5 841.1 296.3 842 295.8 842.5C295.3 843 295.6 843.2 295.4 843.5C295.3 843.8 295.1 844.3 295 844.5L311.7 844.5L311.7 710.3Z" fill="#1565a9" stroke="#3a3a3a" stroke-width="0.3" stroke-linejoin="round"/>
<path d="M217.5 703.3V851.2H332.5" fill="none" stroke="#999" stroke-width="0.55"/>
<line x1="216.3" y1="712.5" x2="217.5" y2="712.5" stroke="#999" stroke-width="0.45"/>
<line x1="216.3" y1="738.8" x2="217.5" y2="738.8" stroke="#999" stroke-width="0.45"/>
<line x1="216.3" y1="765.3" x2="217.5" y2="765.3" stroke="#999" stroke-width="0.45"/>
<line x1="216.3" y1="791.7" x2="217.5" y2="791.7" stroke="#999" stroke-width="0.45"/>
<line x1="216.3" y1="818" x2="217.5" y2="818" stroke="#999" stroke-width="0.45"/>
<line x1="216.3" y1="844.2" x2="217.5" y2="844.2" stroke="#999" stroke-width="0.45"/>
<line x1="239.7" y1="851.2" x2="239.7" y2="852.5" stroke="#999" stroke-width="0.45"/>
<line x1="275.3" y1="851.2" x2="275.3" y2="852.5" stroke="#999" stroke-width="0.45"/>
<line x1="311.7" y1="851.2" x2="311.7" y2="852.5" stroke="#999" stroke-width="0.45"/>
<text x="239.7" y="860" class="r" font-size="7.5" fill="#222" text-anchor="middle" >Glial</text>
<text x="274.5" y="860" class="r" font-size="7.5" fill="#222" text-anchor="middle" >Neuron</text>
<text x="310.8" y="860" class="r" font-size="7.5" fill="#222" text-anchor="middle" >RGs</text>
<text x="283" y="704.7" class="r" font-size="8.8" fill="#111" text-anchor="middle" font-weight="bold" >MT−CO1</text>
<rect x="336.5" y="771.5" width="4.9" height="4.8" fill="#1565a9"/>
<rect x="336.5" y="776.3" width="4.9" height="4.8" fill="#ff7f0e"/>
<text x="343.5" y="775.2" class="r" font-size="3.5" fill="#222">MeCP2<tspan font-size="2.1" dy="-1.2"> del6</tspan></text>
<text x="343.5" y="780" class="r" font-size="3.5" fill="#222" >Control</text>
<path d="M412.6 734.2C412.7 734.7 413 736.1 413.2 737.1C413.4 738.1 413.5 738.8 413.8 740C414.1 741.2 414.6 742.8 415 744.2C415.4 745.6 415.8 746.9 416.2 748.3C416.6 749.7 417.1 751.1 417.5 752.5C417.9 753.9 418.5 755.3 418.8 756.7C419.2 758.1 419.4 759.4 419.7 760.8C419.9 762.2 420.3 763.3 420.5 765C420.7 766.7 420.6 768.9 420.7 770.8C420.7 772.8 420.8 774.6 420.8 776.7C420.9 778.8 420.9 781.1 421 783.3C421.1 785.6 421.2 787.5 421.2 790C421.2 792.5 421.1 795.6 421 798.3C420.9 801.1 420.9 804.2 420.8 806.7C420.8 809.2 420.8 811.1 420.8 813.3C420.8 815.6 420.7 818.1 420.8 820C420.9 821.9 421.3 823.3 421.5 825C421.7 826.7 421.8 828.6 422.2 830C422.5 831.4 423.1 832.2 423.6 833.3C424.1 834.4 424.5 835.6 425 836.7C425.5 837.7 425.9 838.6 426.4 839.6C426.9 840.6 427.6 841.7 427.8 842.5C428.1 843.3 428 843.8 428.1 844.4C428.2 845.1 428.3 846 428.3 846.3L412.5 846.3L412.5 734.2Z" fill="#ff7f0e" stroke="#3a3a3a" stroke-width="0.3" stroke-linejoin="round"/>
<path d="M407 713.8C407 713.9 406.9 714 406.9 714.1C406.9 714.2 407.1 713.5 406.8 714.3C406.5 715.1 405.7 717.3 405.1 718.8C404.5 720.3 404 721.9 403.3 723.3C402.7 724.8 401.9 726.1 401.2 727.5C400.6 728.9 399.7 730.3 399.2 731.7C398.6 733.1 398.3 734.4 397.9 735.8C397.5 737.2 396.9 738.8 396.7 740C396.4 741.2 396.5 742.2 396.4 743.3C396.3 744.4 396.1 745.3 396.2 746.7C396.3 748.1 396.7 750 397 751.7C397.3 753.3 397.4 755 397.8 756.7C398.2 758.3 398.8 760 399.3 761.7C399.8 763.3 400.4 765 400.8 766.7C401.3 768.3 401.7 770 402.1 771.7C402.5 773.3 403 774.7 403.3 776.7C403.7 778.6 403.9 781.1 404.2 783.3C404.4 785.6 404.8 787.5 405 790C405.2 792.5 405.2 795.6 405.2 798.3C405.3 801.1 405.6 804.2 405.5 806.7C405.4 809.2 405.1 811.1 404.8 813.3C404.6 815.6 404.5 818.1 404.2 820C403.8 821.9 403.3 823.3 402.9 825C402.5 826.7 402.1 828.5 401.7 830C401.3 831.5 400.9 832.8 400.6 834.2C400.2 835.6 399.7 837 399.5 838.3C399.3 839.7 399.4 841 399.3 842.3C399.3 843.7 399.2 845.7 399.2 846.3L412.5 846.3L412.5 713.8Z" fill="#1565a9" stroke="#3a3a3a" stroke-width="0.3" stroke-linejoin="round"/>
<path d="M448.4 730C448.5 735.6 448.6 752.2 448.6 763.3C448.7 774.4 448.7 790 448.8 796.7C449 803.3 449.2 801.1 449.4 803.3C449.6 805.6 449.8 808.1 450 810C450.2 811.9 450.3 813.3 450.4 815C450.6 816.7 450.8 818.5 450.8 820C450.8 821.5 450.6 822.8 450.4 824.2C450.3 825.6 450.1 827.1 450 828.3C449.9 829.6 449.9 830.6 449.8 831.7C449.8 832.8 449.4 834.1 449.7 835C449.9 835.9 450.9 836.4 451.5 837.1C452.1 837.8 452.5 838.5 453.3 839.2C454.1 839.8 455.3 840.3 456.2 840.8C457.2 841.4 458.2 841.9 459.2 842.5C460.1 843.1 461 843.8 461.9 844.4C462.8 845.1 464.2 846 464.7 846.3L448.3 846.3L448.3 730Z" fill="#ff7f0e" stroke="#3a3a3a" stroke-width="0.3" stroke-linejoin="round"/>
<path d="M448.2 730C448.2 738.8 448.1 765 448 782.5C448 800 448 825.8 447.8 835C447.6 844.2 447.2 836.7 446.8 837.5C446.5 838.3 446.6 839.3 445.8 840C445.1 840.7 443.6 841.1 442.5 841.7C441.4 842.2 440.3 842.8 439.2 843.3C438 843.9 436.8 844.3 435.6 844.8C434.4 845.3 432.6 846.1 432 846.3L448.3 846.3L448.3 730Z" fill="#1565a9" stroke="#3a3a3a" stroke-width="0.3" stroke-linejoin="round"/>
<path d="M484.8 711.7C484.8 718.8 484.9 740 485 754.2C485 768.3 485.1 788.5 485.2 796.7C485.3 804.9 485.4 801.1 485.6 803.3C485.7 805.6 485.9 808.1 486 810C486.1 811.9 486.2 813.3 486.3 815C486.4 816.7 486.6 818.5 486.7 820C486.7 821.5 486.6 822.8 486.5 824.2C486.4 825.6 486.4 827.1 486.3 828.3C486.2 829.6 486.1 830.6 485.9 831.7C485.8 832.8 485.4 834.2 485.5 835C485.6 835.8 486.1 836.1 486.3 836.7C486.6 837.2 486.5 837.7 487.2 838.3C487.9 839 489.4 839.7 490.5 840.4C491.6 841.1 492.7 841.8 493.8 842.5C494.9 843.2 496.1 843.8 497.2 844.4C498.3 845.1 499.9 846 500.5 846.3L484.7 846.3L484.7 711.7Z" fill="#ff7f0e" stroke="#3a3a3a" stroke-width="0.3" stroke-linejoin="round"/>
<path d="M484.6 711.7C484.5 714 484.3 721.1 484.2 725.8C484.1 730.6 484 736.9 483.8 740C483.6 743.1 483.3 742.8 483 744.2C482.7 745.6 482.7 746.9 482.2 748.3C481.7 749.7 480.8 751.1 480.1 752.5C479.4 753.9 478.8 755.4 478 756.7C477.2 757.9 476.1 758.9 475.1 760C474.1 761.1 473 762.2 472.2 763.3C471.4 764.4 470.9 765.6 470.2 766.7C469.6 767.8 468.6 769 468.3 770C468.1 771 468.5 771.7 468.6 772.5C468.7 773.3 468.4 774 468.8 775C469.3 776 470.5 777.2 471.3 778.3C472.2 779.4 472.9 780.6 473.8 781.7C474.7 782.8 475.8 783.9 476.8 785C477.7 786.1 478.9 787.1 479.7 788.3C480.4 789.6 480.7 791.1 481.2 792.5C481.7 793.9 482.4 794.9 482.7 796.7C483 798.5 482.9 801.1 483 803.3C483.1 805.6 483.4 807.8 483.3 810C483.3 812.2 482.9 814.4 482.8 816.7C482.6 818.9 482.5 821.5 482.2 823.3C481.8 825.1 481.1 826.1 480.5 827.5C479.9 828.9 479.6 830.4 478.8 831.7C478.1 832.9 476.9 833.9 475.9 835C474.9 836.1 473.8 837.4 473 838.3C472.2 839.3 471.6 840 470.9 840.8C470.2 841.7 469.2 842.7 468.8 843.3C468.4 844 468.7 844.3 468.6 844.8C468.5 845.3 468.4 846.1 468.3 846.3L484.7 846.3L484.7 711.7Z" fill="#1565a9" stroke="#3a3a3a" stroke-width="0.3" stroke-linejoin="round"/>
<path d="M390.5 704.7V853.3H505.8" fill="none" stroke="#444" stroke-width="0.55"/>
<line x1="389.3" y1="715.3" x2="390.5" y2="715.3" stroke="#444" stroke-width="0.45"/>
<text x="388.3" y="716.4" class="r" font-size="3.3" fill="#333" text-anchor="end" >5</text>
<line x1="389.3" y1="741.7" x2="390.5" y2="741.7" stroke="#444" stroke-width="0.45"/>
<text x="388.3" y="742.8" class="r" font-size="3.3" fill="#333" text-anchor="end" >4</text>
<line x1="389.3" y1="767.8" x2="390.5" y2="767.8" stroke="#444" stroke-width="0.45"/>
<text x="388.3" y="768.9" class="r" font-size="3.3" fill="#333" text-anchor="end" >3</text>
<line x1="389.3" y1="794.2" x2="390.5" y2="794.2" stroke="#444" stroke-width="0.45"/>
<text x="388.3" y="795.3" class="r" font-size="3.3" fill="#333" text-anchor="end" >2</text>
<line x1="389.3" y1="820.3" x2="390.5" y2="820.3" stroke="#444" stroke-width="0.45"/>
<text x="388.3" y="821.4" class="r" font-size="3.3" fill="#333" text-anchor="end" >1</text>
<line x1="389.3" y1="846.3" x2="390.5" y2="846.3" stroke="#444" stroke-width="0.45"/>
<text x="388.3" y="847.4" class="r" font-size="3.3" fill="#333" text-anchor="end" >0</text>
<line x1="412.5" y1="853.3" x2="412.5" y2="854.6" stroke="#444" stroke-width="0.45"/>
<line x1="448.3" y1="853.3" x2="448.3" y2="854.6" stroke="#444" stroke-width="0.45"/>
<line x1="484.7" y1="853.3" x2="484.7" y2="854.6" stroke="#444" stroke-width="0.45"/>
<text x="412.2" y="861.7" class="r" font-size="7.5" fill="#222" text-anchor="middle" >Glial</text>
<text x="447.8" y="861.7" class="r" font-size="7.5" fill="#222" text-anchor="middle" >Neuron</text>
<text x="483.7" y="861.7" class="r" font-size="7.5" fill="#222" text-anchor="middle" >RGs</text>
<text x="457.5" y="706.7" class="r" font-size="8.8" fill="#111" text-anchor="middle" font-weight="bold" >MT−ATP6</text>
<text transform="translate(383.7,780.8) rotate(-90)" class="r" font-size="3.5" fill="#222" text-anchor="middle">Expression Level</text>
<rect x="509.3" y="773.7" width="4.9" height="4.8" fill="#1565a9"/>
<rect x="509.3" y="778.5" width="4.9" height="4.8" fill="#ff7f0e"/>
<text x="516.3" y="777.4" class="r" font-size="3.5" fill="#222">MeCP2<tspan font-size="2.1" dy="-1.2"> del6</tspan></text>
<text x="516.3" y="782.2" class="r" font-size="3.5" fill="#222" >Control</text>
<path d="M78.1 931.3C78.2 931.9 78.5 933.7 78.7 934.8C78.9 936 79 937.1 79.3 938.3C79.7 939.6 80.3 941.1 80.8 942.5C81.2 943.9 81.6 945.3 82.2 946.7C82.8 948.1 83.6 949.4 84.2 950.8C84.9 952.2 85.6 953.6 86.3 955C87 956.4 87.7 957.8 88.4 959.2C89.1 960.6 89.9 961.9 90.5 963.3C91.1 964.7 91.4 966.1 91.9 967.5C92.4 968.9 93 970.4 93.3 971.7C93.7 972.9 93.7 973.9 93.8 975C94 976.1 94.3 977.1 94.3 978.3C94.3 979.6 94 981.1 93.8 982.5C93.7 983.9 93.6 985.3 93.3 986.7C93.1 988.1 92.6 989.4 92.2 990.8C91.8 992.2 91.4 993.6 91 995C90.6 996.4 90 997.8 89.5 999.2C89 1000.6 88.5 1001.8 88 1003.3C87.5 1004.9 87.2 1006.7 86.8 1008.3C86.3 1010 85.8 1011.5 85.5 1013.3C85.2 1015.1 84.9 1017.2 84.7 1019.2C84.4 1021.1 84.1 1023.1 83.8 1025C83.6 1026.9 83.4 1028.9 83.2 1030.8C83.1 1032.8 82.9 1034.9 82.7 1036.7C82.4 1038.5 82.1 1040 81.8 1041.7C81.6 1043.3 81.2 1045.3 81 1046.7C80.8 1048.1 80.8 1048.9 80.8 1050C80.7 1051.1 80.4 1052.4 80.5 1053.3C80.6 1054.2 80.9 1054.7 81.1 1055.4C81.3 1056.1 81.6 1056.9 81.7 1057.5C81.8 1058.1 81.7 1058.5 81.7 1059C81.7 1059.5 81.7 1060.2 81.7 1060.5L78 1060.5L78 931.3Z" fill="#ff7f0e" stroke="#3a3a3a" stroke-width="0.3" stroke-linejoin="round"/>
<path d="M77.9 963.3C77.8 966.9 77.4 977.8 77.1 985C76.9 992.2 76.7 1002.2 76.3 1006.7C75.9 1011.1 75.2 1010 74.7 1011.7C74.1 1013.3 73.5 1015 73 1016.7C72.5 1018.3 72.2 1020 71.8 1021.7C71.3 1023.3 70.9 1025 70.5 1026.7C70.1 1028.3 69.8 1030 69.4 1031.7C69.1 1033.3 68.7 1035.1 68.3 1036.7C68 1038.2 67.8 1039.4 67.5 1040.8C67.2 1042.2 67 1043.8 66.7 1045C66.3 1046.2 65.7 1047.2 65.2 1048.3C64.8 1049.4 64.2 1050.7 63.8 1051.7C63.4 1052.6 63.1 1053.3 62.8 1054.2C62.4 1055 61.8 1055.9 61.7 1056.7C61.5 1057.4 61.7 1057.9 61.7 1058.6C61.7 1059.2 61.7 1060.2 61.7 1060.5L78 1060.5L78 963.3Z" fill="#1565a9" stroke="#3a3a3a" stroke-width="0.3" stroke-linejoin="round"/>
<path d="M113.9 935.8C114 936.5 114.3 938.3 114.5 939.6C114.7 940.8 114.9 942.2 115.2 943.3C115.4 944.5 115.8 945.6 116.2 946.7C116.5 947.8 116.7 948.8 117.2 950C117.6 951.2 118.3 952.8 118.8 954.2C119.4 955.6 119.9 956.9 120.5 958.3C121.1 959.7 121.7 961.1 122.3 962.5C122.9 963.9 123.6 965.3 124.2 966.7C124.7 968.1 125.3 969.4 125.8 970.8C126.4 972.2 127 973.6 127.5 975C128 976.4 128.2 977.8 128.6 979.2C128.9 980.6 129.4 981.9 129.7 983.3C129.9 984.7 129.8 986.1 129.9 987.5C130 988.9 130.2 990.3 130.2 991.7C130.1 993.1 129.8 994.4 129.7 995.8C129.5 997.2 129.4 998.6 129.2 1000C128.9 1001.4 128.4 1002.8 128 1004.2C127.6 1005.6 127.2 1006.9 126.8 1008.3C126.5 1009.7 126.3 1011.1 126 1012.5C125.7 1013.9 125.4 1015.4 125.2 1016.7C124.9 1017.9 124.8 1018.9 124.7 1020C124.5 1021.1 124.2 1022.4 124.2 1023.3C124.1 1024.3 124.3 1025 124.4 1025.8C124.5 1026.7 124.8 1027.5 124.7 1028.3C124.5 1029.2 123.8 1030 123.4 1030.8C123 1031.7 122.7 1032.4 122.2 1033.3C121.6 1034.3 120.8 1035.6 120.1 1036.7C119.4 1037.8 118.6 1038.9 118 1040C117.4 1041.1 117.2 1042.2 116.8 1043.3C116.3 1044.4 115.7 1045.7 115.5 1046.7C115.3 1047.6 115.4 1048.3 115.3 1049.2C115.3 1050 115 1050.9 115.2 1051.7C115.4 1052.4 116.1 1053.1 116.6 1053.8C117.1 1054.4 117.6 1055.2 118 1055.8C118.4 1056.5 118.6 1056.9 118.8 1057.5C119.1 1058.1 119.5 1058.8 119.7 1059.2C119.8 1059.6 119.7 1059.6 119.7 1059.8C119.7 1060.1 119.7 1060.4 119.7 1060.5L113.8 1060.5L113.8 935.8Z" fill="#ff7f0e" stroke="#3a3a3a" stroke-width="0.3" stroke-linejoin="round"/>
<path d="M113.8 978.3C113.6 979.6 113.3 983.3 113.1 985.8C112.9 988.3 112.8 991.2 112.5 993.3C112.2 995.4 111.6 996.7 111.1 998.3C110.6 1000 110.3 1001.7 109.7 1003.3C109 1005 108 1006.7 107.2 1008.3C106.3 1010 105.4 1011.8 104.7 1013.3C103.9 1014.9 103.4 1016.1 102.8 1017.5C102.1 1018.9 101.3 1020.4 100.8 1021.7C100.4 1022.9 100.3 1023.9 100 1025C99.7 1026.1 99.3 1027.2 99.2 1028.3C99.1 1029.4 99.3 1030.6 99.4 1031.7C99.5 1032.8 99.3 1033.9 99.7 1035C100 1036.1 100.8 1037.2 101.3 1038.3C101.9 1039.4 102.4 1040.6 103 1041.7C103.6 1042.8 104.4 1043.9 105.1 1045C105.8 1046.1 106.9 1047.4 107.2 1048.3C107.4 1049.2 106.9 1049.7 106.8 1050.4C106.6 1051.1 106.9 1051.8 106.3 1052.5C105.8 1053.2 104.4 1053.9 103.4 1054.6C102.4 1055.3 101.2 1056 100.5 1056.7C99.8 1057.3 99.5 1057.9 99 1058.6C98.5 1059.2 97.8 1060.2 97.5 1060.5L113.8 1060.5L113.8 978.3Z" fill="#1565a9" stroke="#3a3a3a" stroke-width="0.3" stroke-linejoin="round"/>
<path d="M149.8 925.3C149.8 926 150 928 150.1 929.3C150.3 930.7 150.3 932 150.5 933.3C150.7 934.7 151.2 936.1 151.6 937.5C151.9 938.9 152.1 940.3 152.7 941.7C153.2 943.1 154.2 944.4 154.9 945.8C155.7 947.2 156.4 948.6 157.2 950C157.9 951.4 158.6 952.8 159.2 954.2C159.9 955.6 160.7 956.9 161.3 958.3C161.9 959.7 162.3 961.1 162.8 962.5C163.3 963.9 164 965.3 164.3 966.7C164.7 968.1 164.7 969.4 164.9 970.8C165.1 972.2 165.4 973.6 165.5 975C165.6 976.4 165.3 977.8 165.3 979.2C165.2 980.6 165.1 981.9 165 983.3C164.9 984.7 164.6 986.1 164.4 987.5C164.2 988.9 164 990.3 163.8 991.7C163.6 993.1 163.4 994.4 163.2 995.8C163.1 997.2 162.9 998.6 162.7 1000C162.5 1001.4 162.2 1002.8 162 1004.2C161.8 1005.6 161.5 1006.9 161.3 1008.3C161.2 1009.7 161.1 1011.1 160.9 1012.5C160.8 1013.9 160.6 1015.3 160.5 1016.7C160.4 1018.1 160.2 1019.4 160.1 1020.8C159.9 1022.2 159.9 1023.8 159.7 1025C159.4 1026.2 158.8 1027.2 158.4 1028.3C158 1029.4 157.7 1030.6 157.2 1031.7C156.7 1032.8 156.1 1033.9 155.5 1035C154.9 1036.1 154.3 1037.2 153.8 1038.3C153.3 1039.4 153 1040.6 152.6 1041.7C152.2 1042.8 151.6 1044 151.3 1045C151.1 1046 151.1 1046.7 150.9 1047.5C150.8 1048.3 150.4 1049.2 150.5 1050C150.6 1050.8 151.1 1051.4 151.3 1052.1C151.6 1052.8 151.8 1053.5 152.2 1054.2C152.5 1054.9 153.1 1055.6 153.6 1056.2C154.1 1056.9 154.7 1057.8 155 1058.3C155.3 1058.9 155.2 1059.1 155.3 1059.4C155.3 1059.8 155.5 1060.3 155.5 1060.5L149.7 1060.5L149.7 925.3Z" fill="#ff7f0e" stroke="#3a3a3a" stroke-width="0.3" stroke-linejoin="round"/>
<path d="M149.6 983.3C149.5 984.4 149.1 987.8 148.8 990C148.5 992.2 148.5 994.7 148 996.7C147.5 998.6 146.3 1000 145.5 1001.7C144.7 1003.3 143.9 1005.1 143 1006.7C142.1 1008.2 141.2 1009.4 140.3 1010.8C139.4 1012.2 138.3 1013.8 137.7 1015C137 1016.2 136.8 1017.2 136.3 1018.3C135.9 1019.4 135.3 1020.6 135 1021.7C134.7 1022.8 134.8 1023.9 134.7 1025C134.6 1026.1 134.2 1027.2 134.3 1028.3C134.4 1029.4 135 1030.6 135.3 1031.7C135.7 1032.8 135.8 1033.9 136.3 1035C136.9 1036.1 138 1037.2 138.8 1038.3C139.7 1039.4 140.5 1040.6 141.3 1041.7C142.2 1042.8 143 1043.9 143.8 1045C144.7 1046.1 145.8 1047.4 146.3 1048.3C146.8 1049.2 146.6 1049.7 146.8 1050.4C146.9 1051.1 147.7 1051.9 147.2 1052.5C146.7 1053.1 144.9 1053.6 143.8 1054.2C142.7 1054.7 141.6 1055.3 140.5 1055.8C139.4 1056.4 138.3 1056.9 137.2 1057.5C136.1 1058.1 134.4 1058.8 133.8 1059.2C133.2 1059.6 133.7 1059.6 133.6 1059.8C133.5 1060.1 133.4 1060.4 133.3 1060.5L149.7 1060.5L149.7 983.3Z" fill="#1565a9" stroke="#3a3a3a" stroke-width="0.3" stroke-linejoin="round"/>
<path d="M56.7 919.2V1067.2H171.7" fill="none" stroke="#444" stroke-width="0.55"/>
<line x1="55.5" y1="935.3" x2="56.7" y2="935.3" stroke="#444" stroke-width="0.45"/>
<text x="54.5" y="936.4" class="r" font-size="3.3" fill="#333" text-anchor="end" >4</text>
<line x1="55.5" y1="966.7" x2="56.7" y2="966.7" stroke="#444" stroke-width="0.45"/>
<text x="54.5" y="967.8" class="r" font-size="3.3" fill="#333" text-anchor="end" >3</text>
<line x1="55.5" y1="997.8" x2="56.7" y2="997.8" stroke="#444" stroke-width="0.45"/>
<text x="54.5" y="998.9" class="r" font-size="3.3" fill="#333" text-anchor="end" >2</text>
<line x1="55.5" y1="1029.2" x2="56.7" y2="1029.2" stroke="#444" stroke-width="0.45"/>
<text x="54.5" y="1030.3" class="r" font-size="3.3" fill="#333" text-anchor="end" >1</text>
<line x1="55.5" y1="1060.5" x2="56.7" y2="1060.5" stroke="#444" stroke-width="0.45"/>
<text x="54.5" y="1061.6" class="r" font-size="3.3" fill="#333" text-anchor="end" >0</text>
<line x1="78" y1="1067.2" x2="78" y2="1068.5" stroke="#444" stroke-width="0.45"/>
<line x1="113.8" y1="1067.2" x2="113.8" y2="1068.5" stroke="#444" stroke-width="0.45"/>
<line x1="149.7" y1="1067.2" x2="149.7" y2="1068.5" stroke="#444" stroke-width="0.45"/>
<text x="77.5" y="1076.7" class="r" font-size="7.5" fill="#222" text-anchor="middle" >Glial</text>
<text x="112.5" y="1076.7" class="r" font-size="7.5" fill="#222" text-anchor="middle" >Neuron</text>
<text x="148.7" y="1076.7" class="r" font-size="7.5" fill="#222" text-anchor="middle" >RGs</text>
<text x="118.8" y="920.5" class="r" font-size="8.8" fill="#111" text-anchor="middle" font-weight="bold" >BNIP3</text>
<text transform="translate(49.2,995) rotate(-90)" class="r" font-size="3.5" fill="#222" text-anchor="middle">Expression Level</text>
<rect x="175.1" y="988.2" width="4.9" height="4.8" fill="#1565a9"/>
<rect x="175.1" y="993" width="4.9" height="4.8" fill="#ff7f0e"/>
<text x="182.1" y="991.9" class="r" font-size="3.5" fill="#222">MeCP2<tspan font-size="2.1" dy="-1.2"> del6</tspan></text>
<text x="182.1" y="996.7" class="r" font-size="3.5" fill="#222" >Control</text>
<path d="M248.8 941.3C248.9 941.9 249.3 943.7 249.5 944.8C249.8 946 249.9 947.1 250.3 948.3C250.7 949.6 251.4 951.1 252 952.5C252.6 953.9 253 955.3 253.7 956.7C254.3 958.1 255.2 959.4 256 960.8C256.8 962.2 257.6 963.8 258.3 965C259 966.2 259.6 967.2 260.2 968.3C260.8 969.4 261.5 970.6 262 971.7C262.5 972.8 262.7 973.9 263 975C263.3 976.1 263.8 977.2 264 978.3C264.2 979.4 264.2 980.6 264.2 981.7C264.3 982.8 264.6 983.8 264.5 985C264.4 986.2 263.8 987.8 263.4 989.2C263.1 990.6 262.8 991.9 262.3 993.3C261.9 994.7 261.2 996.1 260.7 997.5C260.1 998.9 259.5 1000.3 259 1001.7C258.5 1003.1 258.2 1004.4 257.8 1005.8C257.4 1007.2 257 1008.5 256.7 1010C256.3 1011.5 255.9 1013.3 255.6 1015C255.2 1016.7 254.9 1018.3 254.5 1020C254.1 1021.7 253.8 1023.3 253.4 1025C253.1 1026.7 252.7 1028.3 252.3 1030C252 1031.7 251.8 1033.3 251.5 1035C251.2 1036.7 250.9 1038.5 250.7 1040C250.5 1041.5 250.4 1042.8 250.3 1044.2C250.2 1045.6 250 1047.2 250 1048.3C250 1049.5 250.4 1050.3 250.6 1051.2C250.8 1052.2 251 1053.3 251.2 1054.2C251.4 1055 251.6 1055.6 251.8 1056.2C251.9 1056.9 252.2 1057.8 252.3 1058.3C252.4 1058.9 252.3 1059.1 252.3 1059.4C252.3 1059.8 252.3 1060.3 252.3 1060.5L248.7 1060.5L248.7 941.3Z" fill="#ff7f0e" stroke="#3a3a3a" stroke-width="0.3" stroke-linejoin="round"/>
<path d="M246.3 981.3C246.3 981.4 246.3 981.5 246.2 981.6C246.2 981.7 246.3 981.1 246.2 981.8C246 982.6 245.6 984.6 245.3 985.9C245.1 987.3 244.9 988.5 244.5 990C244.1 991.5 243.6 993.3 243.1 995C242.6 996.7 242.2 998.5 241.7 1000C241.1 1001.5 240.4 1002.8 239.8 1004.2C239.1 1005.6 238.5 1006.9 237.8 1008.3C237.2 1009.7 236.6 1011.1 235.9 1012.5C235.3 1013.9 234.5 1015.4 234 1016.7C233.5 1017.9 233.4 1018.9 233.2 1020C232.9 1021.1 232.4 1022.1 232.3 1023.3C232.2 1024.6 232.5 1026.1 232.6 1027.5C232.7 1028.9 232.5 1030.3 232.8 1031.7C233.2 1033.1 233.9 1034.4 234.5 1035.8C235.1 1037.2 235.6 1038.8 236.2 1040C236.7 1041.2 237.3 1042.2 237.8 1043.3C238.4 1044.4 239.2 1045.7 239.5 1046.7C239.8 1047.6 239.5 1048.3 239.5 1049.2C239.5 1050 239.8 1050.8 239.5 1051.7C239.2 1052.5 238.2 1053.3 237.6 1054.2C236.9 1055 236.2 1055.9 235.7 1056.7C235.2 1057.4 235 1057.9 234.7 1058.6C234.3 1059.2 233.8 1060.2 233.7 1060.5L248.7 1060.5L248.7 981.3Z" fill="#1565a9" stroke="#3a3a3a" stroke-width="0.3" stroke-linejoin="round"/>
<path d="M284.6 925.8C284.6 927.3 284.8 931.7 285 934.6C285.1 937.5 285.1 941.3 285.3 943.3C285.5 945.3 285.9 945.6 286.2 946.7C286.4 947.8 286.5 948.8 287 950C287.5 951.2 288.3 952.8 288.9 954.2C289.6 955.6 290.2 956.9 290.8 958.3C291.5 959.7 292.1 961.1 292.7 962.5C293.3 963.9 293.9 965.3 294.5 966.7C295.1 968.1 295.5 969.4 296 970.8C296.5 972.2 297.1 973.6 297.5 975C297.9 976.4 298.1 977.8 298.3 979.2C298.6 980.6 299 982.1 299.2 983.3C299.4 984.6 299.4 985.6 299.5 986.7C299.6 987.8 299.7 989 299.8 990C300 991 300.2 991.7 300.3 992.5C300.5 993.3 300.9 994.2 300.8 995C300.8 995.8 300.3 996.7 300 997.5C299.7 998.3 299.6 999 299.2 1000C298.8 1001 298.1 1002.2 297.5 1003.3C296.9 1004.4 296.2 1005.6 295.8 1006.7C295.5 1007.8 295.7 1008.9 295.6 1010C295.5 1011.1 295.4 1012.2 295.3 1013.3C295.2 1014.4 295.1 1015.6 294.9 1016.7C294.8 1017.8 294.8 1018.9 294.5 1020C294.2 1021.1 293.5 1022.2 293 1023.3C292.5 1024.4 292 1025.6 291.5 1026.7C291 1027.8 290.6 1028.9 290.1 1030C289.6 1031.1 289.1 1032.1 288.7 1033.3C288.2 1034.6 287.8 1036.1 287.4 1037.5C287 1038.9 286.4 1040.4 286.2 1041.7C285.9 1042.9 285.9 1043.9 285.8 1045C285.6 1046.1 285.2 1047.4 285.3 1048.3C285.5 1049.3 286.2 1050 286.6 1050.8C287 1051.7 287.4 1052.6 287.8 1053.3C288.2 1054.1 288.7 1054.7 289.1 1055.4C289.5 1056.1 290.1 1056.9 290.3 1057.5C290.6 1058.1 290.5 1058.5 290.6 1059C290.7 1059.5 290.8 1060.2 290.8 1060.5L284.5 1060.5L284.5 925.8Z" fill="#ff7f0e" stroke="#3a3a3a" stroke-width="0.3" stroke-linejoin="round"/>
<path d="M284.4 925.8C284.4 929.2 284.3 939.4 284.2 946.2C284.1 953.1 284.1 962.4 284 966.7C283.9 970.9 283.6 970 283.4 971.7C283.2 973.3 283.3 975 282.8 976.7C282.4 978.3 281.4 980 280.8 981.7C280.1 983.3 279.4 985.1 278.7 986.7C277.9 988.2 277 989.4 276.2 990.8C275.3 992.2 274.4 993.8 273.7 995C272.9 996.2 272.4 997.2 271.8 998.3C271.1 999.4 270.3 1000.6 269.8 1001.7C269.4 1002.8 269.3 1003.9 269 1005C268.7 1006.1 268.2 1007.1 268.2 1008.3C268.1 1009.6 268.6 1011.1 268.8 1012.5C269.1 1013.9 269.1 1015.3 269.5 1016.7C269.9 1018.1 270.6 1019.4 271.2 1020.8C271.7 1022.2 272.2 1023.6 272.8 1025C273.5 1026.4 274.2 1027.8 274.9 1029.2C275.6 1030.6 276.4 1031.9 277 1033.3C277.6 1034.7 278.1 1036.1 278.7 1037.5C279.2 1038.9 280 1040.4 280.3 1041.7C280.7 1042.9 280.6 1043.9 280.8 1045C280.9 1046.1 281.5 1047.4 281.2 1048.3C280.8 1049.3 279.5 1050 278.7 1050.8C277.8 1051.7 276.9 1052.6 276.2 1053.3C275.4 1054.1 274.8 1054.7 274.1 1055.4C273.4 1056.1 272.4 1056.9 272 1057.5C271.6 1058.1 271.6 1058.5 271.4 1059C271.2 1059.5 270.9 1060.2 270.8 1060.5L284.5 1060.5L284.5 925.8Z" fill="#1565a9" stroke="#3a3a3a" stroke-width="0.3" stroke-linejoin="round"/>
<path d="M320.4 925C320.5 926.4 320.7 930.6 320.8 933.3C320.9 936.1 320.9 939.6 321.2 941.7C321.4 943.8 321.9 944.4 322.2 945.8C322.6 947.2 322.9 948.6 323.3 950C323.8 951.4 324.3 952.8 324.8 954.2C325.2 955.6 325.7 956.9 326.2 958.3C326.7 959.7 327.3 961.1 327.8 962.5C328.4 963.9 329 965.3 329.5 966.7C330 968.1 330.4 969.4 330.9 970.8C331.4 972.2 332 973.6 332.3 975C332.7 976.4 332.9 977.8 333.2 979.2C333.4 980.6 333.7 981.9 334 983.3C334.3 984.7 334.6 986.1 334.8 987.5C335.1 988.9 335.4 990.6 335.7 991.7C335.9 992.8 336 993.3 336.2 994.2C336.3 995 336.8 995.7 336.7 996.7C336.6 997.6 335.9 998.9 335.6 1000C335.2 1001.1 335 1002.2 334.5 1003.3C334 1004.4 333.4 1005.6 332.8 1006.7C332.3 1007.8 331.4 1009 331.2 1010C331 1011 331.4 1011.7 331.6 1012.5C331.7 1013.3 332 1014.2 332 1015C332 1015.8 331.7 1016.7 331.6 1017.5C331.4 1018.3 331.5 1019 331.2 1020C330.8 1021 330.1 1022.2 329.5 1023.3C328.9 1024.4 328.4 1025.6 327.8 1026.7C327.3 1027.8 326.7 1028.9 326.2 1030C325.6 1031.1 325 1032.1 324.5 1033.3C324 1034.6 323.7 1036.1 323.2 1037.5C322.8 1038.9 322.3 1040.4 322 1041.7C321.7 1042.9 321.7 1043.9 321.6 1045C321.4 1046.1 321.1 1047.4 321.2 1048.3C321.2 1049.2 321.7 1049.7 322 1050.4C322.3 1051.1 322.3 1051.8 322.8 1052.5C323.4 1053.2 324.5 1053.9 325.3 1054.6C326.2 1055.3 327.2 1056 327.8 1056.7C328.4 1057.3 328.6 1057.9 328.9 1058.6C329.3 1059.2 329.8 1060.2 330 1060.5L320.3 1060.5L320.3 925Z" fill="#ff7f0e" stroke="#3a3a3a" stroke-width="0.3" stroke-linejoin="round"/>
<path d="M320.2 925C320.2 929.9 320.1 944.4 320 954.2C320 963.9 320 977.6 319.8 983.3C319.7 989 319.3 986.7 319.1 988.3C318.8 990 318.7 991.7 318.3 993.3C318 995 317.4 996.7 317 998.3C316.6 1000 316.1 1001.7 315.7 1003.3C315.2 1005 314.9 1006.7 314.5 1008.3C314.1 1010 313.6 1011.7 313.3 1013.3C313 1015 312.9 1016.7 312.7 1018.3C312.4 1020 312.1 1021.8 312 1023.3C311.9 1024.9 312.1 1026.1 312.2 1027.5C312.2 1028.9 312.1 1030.3 312.3 1031.7C312.5 1033.1 313.1 1034.4 313.4 1035.8C313.8 1037.2 314 1038.8 314.5 1040C315 1041.2 315.6 1042.2 316.2 1043.3C316.7 1044.4 317.5 1045.8 317.8 1046.7C318.2 1047.6 318.1 1048.1 318.2 1048.8C318.4 1049.4 319 1050.2 318.7 1050.8C318.3 1051.5 317 1051.9 316.2 1052.5C315.3 1053.1 314.6 1053.6 313.7 1054.2C312.7 1054.7 311.4 1055.3 310.3 1055.8C309.2 1056.4 307.8 1057 307 1057.5C306.2 1058 306 1058.5 305.5 1059C305 1059.5 304.2 1060.2 304 1060.5L320.3 1060.5L320.3 925Z" fill="#1565a9" stroke="#3a3a3a" stroke-width="0.3" stroke-linejoin="round"/>
<path d="M226.7 917.5V1067.2H341.7" fill="none" stroke="#444" stroke-width="0.55"/>
<line x1="225.5" y1="935.3" x2="226.7" y2="935.3" stroke="#444" stroke-width="0.45"/>
<text x="224.5" y="936.4" class="r" font-size="3.3" fill="#333" text-anchor="end" >3</text>
<line x1="225.5" y1="977" x2="226.7" y2="977" stroke="#444" stroke-width="0.45"/>
<text x="224.5" y="978.1" class="r" font-size="3.3" fill="#333" text-anchor="end" >2</text>
<line x1="225.5" y1="1018.7" x2="226.7" y2="1018.7" stroke="#444" stroke-width="0.45"/>
<text x="224.5" y="1019.8" class="r" font-size="3.3" fill="#333" text-anchor="end" >1</text>
<line x1="225.5" y1="1060.5" x2="226.7" y2="1060.5" stroke="#444" stroke-width="0.45"/>
<text x="224.5" y="1061.6" class="r" font-size="3.3" fill="#333" text-anchor="end" >0</text>
<line x1="248.7" y1="1067.2" x2="248.7" y2="1068.5" stroke="#444" stroke-width="0.45"/>
<line x1="284.5" y1="1067.2" x2="284.5" y2="1068.5" stroke="#444" stroke-width="0.45"/>
<line x1="320.3" y1="1067.2" x2="320.3" y2="1068.5" stroke="#444" stroke-width="0.45"/>
<text x="248" y="1075.8" class="r" font-size="7.5" fill="#222" text-anchor="middle" >Glial</text>
<text x="283.8" y="1075.8" class="r" font-size="7.5" fill="#222" text-anchor="middle" >Neuron</text>
<text x="319.7" y="1075.8" class="r" font-size="7.5" fill="#222" text-anchor="middle" >RGs</text>
<text x="290.8" y="918.8" class="r" font-size="8.8" fill="#111" text-anchor="middle" font-weight="bold" >BNIP3L</text>
<text transform="translate(219.7,995) rotate(-90)" class="r" font-size="3.5" fill="#222" text-anchor="middle">Expression Level</text>
<rect x="345.6" y="987.8" width="4.9" height="4.8" fill="#1565a9"/>
<rect x="345.6" y="992.6" width="4.9" height="4.8" fill="#ff7f0e"/>
<text x="352.6" y="991.5" class="r" font-size="3.5" fill="#222">MeCP2<tspan font-size="2.1" dy="-1.2"> del6</tspan></text>
<text x="352.6" y="996.3" class="r" font-size="3.5" fill="#222" >Control</text>
<path d="M414.8 949.2C414.8 950.6 415 955 415.1 957.9C415.2 960.8 415.3 964.1 415.5 966.7C415.7 969.2 416.1 971.1 416.3 973.3C416.6 975.6 416.8 977.8 417.2 980C417.5 982.2 418 984.4 418.4 986.7C418.8 988.9 419.2 991.4 419.7 993.3C420.1 995.3 420.5 996.7 420.9 998.3C421.3 1000 421.8 1001.7 422.2 1003.3C422.5 1005 422.8 1006.7 423.2 1008.3C423.5 1010 424 1011.9 424.2 1013.3C424.3 1014.7 424.1 1015.6 424 1016.7C423.9 1017.8 424.1 1018.8 423.8 1020C423.6 1021.2 423 1022.8 422.6 1024.2C422.2 1025.6 421.7 1026.9 421.3 1028.3C421 1029.7 420.7 1031.1 420.3 1032.5C420 1033.9 419.4 1035.4 419.3 1036.7C419.2 1037.9 419.6 1038.9 419.7 1040C419.8 1041.1 419.6 1042.4 420 1043.3C420.4 1044.3 421.3 1045 421.9 1045.8C422.6 1046.7 423.1 1047.5 423.8 1048.3C424.5 1049.2 425.3 1050 426.1 1050.8C426.8 1051.7 427.8 1052.6 428.3 1053.3C428.9 1054.1 429.2 1054.7 429.6 1055.4C430 1056.1 430.7 1056.9 430.8 1057.5C431 1058.1 430.7 1058.5 430.7 1059C430.6 1059.5 430.5 1060.2 430.5 1060.5L414.7 1060.5L414.7 949.2Z" fill="#ff7f0e" stroke="#3a3a3a" stroke-width="0.3" stroke-linejoin="round"/>
<path d="M450.6 925.8C450.6 929.9 450.8 942.2 451 950.4C451.1 958.6 451.1 969.4 451.3 975C451.5 980.6 451.9 981.1 452.2 984.2C452.4 987.2 452.7 990.7 453 993.3C453.3 996 453.8 997.8 454.2 1000C454.7 1002.2 455.2 1004.9 455.5 1006.7C455.8 1008.5 455.9 1009.4 456.2 1010.8C456.4 1012.2 456.8 1013.6 456.8 1015C456.8 1016.4 456.4 1017.8 456.2 1019.2C455.9 1020.6 455.9 1021.8 455.5 1023.3C455.1 1024.9 454.5 1026.7 454 1028.3C453.5 1030 452.8 1031.8 452.5 1033.3C452.2 1034.9 452.1 1036.1 451.9 1037.5C451.7 1038.9 451.4 1040.6 451.3 1041.7C451.3 1042.8 451.6 1043.3 451.8 1044.2C451.9 1045 451.8 1046 452.2 1046.7C452.6 1047.4 453.6 1047.8 454.2 1048.3C454.9 1048.9 455.5 1049.4 456.3 1050C457.2 1050.6 458.3 1051.4 459.2 1052.1C460.2 1052.8 461.3 1053.5 462.2 1054.2C463 1054.9 463.7 1055.6 464.4 1056.2C465.2 1056.9 466.3 1057.8 466.7 1058.3C467 1058.9 466.7 1059.1 466.7 1059.4C466.7 1059.8 466.7 1060.3 466.7 1060.5L450.5 1060.5L450.5 925.8Z" fill="#ff7f0e" stroke="#3a3a3a" stroke-width="0.3" stroke-linejoin="round"/>
<path d="M486.4 928.3C486.5 932.6 486.6 945.6 486.7 954.2C486.8 962.8 486.8 974.3 487 980C487.2 985.7 487.4 985.6 487.7 988.3C487.9 991.1 488.1 994.3 488.3 996.7C488.6 999 489 1000.6 489.3 1002.5C489.7 1004.4 490.1 1006.7 490.3 1008.3C490.6 1010 490.6 1011.1 490.7 1012.5C490.8 1013.9 491.1 1015.3 491 1016.7C490.9 1018.1 490.6 1019.4 490.3 1020.8C490.1 1022.2 489.9 1023.5 489.7 1025C489.4 1026.5 489 1028.3 488.7 1030C488.3 1031.7 487.9 1033.5 487.7 1035C487.4 1036.5 487.4 1037.8 487.2 1039.2C487.1 1040.6 486.9 1042.2 486.8 1043.3C486.8 1044.4 487 1045 487.1 1045.8C487.2 1046.7 487 1047.7 487.3 1048.3C487.6 1049 488.4 1049.3 488.9 1049.8C489.4 1050.3 489.8 1050.8 490.5 1051.3C491.2 1051.9 492.4 1052.6 493.4 1053.2C494.4 1053.8 495.4 1054.4 496.3 1055C497.3 1055.6 498.3 1056.2 499.2 1056.8C500.2 1057.4 501.6 1058.2 502.2 1058.7C502.7 1059.1 502.3 1059.3 502.4 1059.6C502.5 1059.9 502.6 1060.3 502.7 1060.5L486.3 1060.5L486.3 928.3Z" fill="#ff7f0e" stroke="#3a3a3a" stroke-width="0.3" stroke-linejoin="round"/>
<path d="M393.3 918.3V1067.2H508.3" fill="none" stroke="#444" stroke-width="0.55"/>
<line x1="392.1" y1="919.7" x2="393.3" y2="919.7" stroke="#444" stroke-width="0.45"/>
<text x="391.1" y="920.8" class="r" font-size="3.3" fill="#333" text-anchor="end" >3</text>
<line x1="392.1" y1="966.3" x2="393.3" y2="966.3" stroke="#444" stroke-width="0.45"/>
<text x="391.1" y="967.4" class="r" font-size="3.3" fill="#333" text-anchor="end" >2</text>
<line x1="392.1" y1="1013.7" x2="393.3" y2="1013.7" stroke="#444" stroke-width="0.45"/>
<text x="391.1" y="1014.8" class="r" font-size="3.3" fill="#333" text-anchor="end" >1</text>
<line x1="392.1" y1="1060.5" x2="393.3" y2="1060.5" stroke="#444" stroke-width="0.45"/>
<text x="391.1" y="1061.6" class="r" font-size="3.3" fill="#333" text-anchor="end" >0</text>
<line x1="414.7" y1="1067.2" x2="414.7" y2="1068.5" stroke="#444" stroke-width="0.45"/>
<line x1="450.5" y1="1067.2" x2="450.5" y2="1068.5" stroke="#444" stroke-width="0.45"/>
<line x1="486.3" y1="1067.2" x2="486.3" y2="1068.5" stroke="#444" stroke-width="0.45"/>
<text x="414.7" y="1075" class="r" font-size="7.5" fill="#222" text-anchor="middle" >Glial</text>
<text x="450.3" y="1075" class="r" font-size="7.5" fill="#222" text-anchor="middle" >Neuron</text>
<text x="486.2" y="1075" class="r" font-size="7.5" fill="#222" text-anchor="middle" >RGs</text>
<text x="454.5" y="920.5" class="r" font-size="8.8" fill="#111" text-anchor="middle" font-weight="bold" >HK2</text>
<text transform="translate(385.8,994.2) rotate(-90)" class="r" font-size="3.5" fill="#222" text-anchor="middle">Expression Level</text>
<rect x="511.8" y="987.3" width="4.9" height="4.8" fill="#1565a9"/>
<rect x="511.8" y="992.1" width="4.9" height="4.8" fill="#ff7f0e"/>
<text x="518.8" y="991" class="r" font-size="3.5" fill="#222">MeCP2<tspan font-size="2.1" dy="-1.2"> del6</tspan></text>
<text x="518.8" y="995.8" class="r" font-size="3.5" fill="#222" >Control</text>
<path d="M398.3 1060.5H414.7M434.7 1060.5H450.5M470.8 1060.5H486.3" stroke="#3a3a3a" stroke-width="0.5" fill="none"/>
<text x="852.3" y="721.9" class="r" font-size="19.1" fill="#111" text-anchor="middle" font-weight="bold" >RGs Down DEGs KEGG</text>
<text x="776.4" y="769.8" class="r" font-size="11.9" fill="#111" text-anchor="end" >HIF-1 signaling pathway</text>
<text x="771.2" y="799.7" class="r" font-size="11.9" fill="#111" text-anchor="end" >Glycolysis / Gluconeogenesis</text>
<text x="775.4" y="829.3" class="r" font-size="11.9" fill="#111" text-anchor="end" >Carbon metabolism</text>
<text x="778.7" y="859.2" class="r" font-size="11.9" fill="#111" text-anchor="end" >Central carbon metabolism in cancer</text>
<text x="772.2" y="889.1" class="r" font-size="11.9" fill="#111" text-anchor="end" >Biosynthesis of amino acids</text>
<text x="779.7" y="918.7" class="r" font-size="11.9" fill="#111" text-anchor="end" >Ribosome</text>
<text x="777.4" y="948.4" class="r" font-size="11.9" fill="#d63a2f" text-anchor="end" font-weight="bold" >Mitophagy - animal</text>
<text x="777.4" y="978.3" class="r" font-size="11.9" fill="#111" text-anchor="end" >Starch and sucrose metabolism</text>
<text x="777" y="1008.2" class="r" font-size="11.9" fill="#111" text-anchor="end" >PI3K-Akt signaling pathway</text>
<text x="775.4" y="1032.5" class="r" font-size="11.9" fill="#111" text-anchor="end" >Protein processing in endoplasmic</text>
<text x="772.2" y="1044.9" class="r" font-size="11.9" fill="#111" text-anchor="end" >reticulum</text>
<line x1="788.4" x2="794.3" y1="766.8" y2="766.8" stroke="#111" stroke-width="0.9"/>
<line x1="788.4" x2="794.3" y1="796.7" y2="796.7" stroke="#111" stroke-width="0.9"/>
<line x1="788.4" x2="794.3" y1="826.3" y2="826.3" stroke="#111" stroke-width="0.9"/>
<line x1="788.4" x2="794.3" y1="856.2" y2="856.2" stroke="#111" stroke-width="0.9"/>
<line x1="788.4" x2="794.3" y1="886.1" y2="886.1" stroke="#111" stroke-width="0.9"/>
<line x1="788.4" x2="794.3" y1="915.7" y2="915.7" stroke="#111" stroke-width="0.9"/>
<line x1="788.4" x2="794.3" y1="945.4" y2="945.4" stroke="#111" stroke-width="0.9"/>
<line x1="788.4" x2="794.3" y1="975.3" y2="975.3" stroke="#111" stroke-width="0.9"/>
<line x1="788.4" x2="794.3" y1="1005.2" y2="1005.2" stroke="#111" stroke-width="0.9"/>
<line x1="788.4" x2="794.3" y1="1034.8" y2="1034.8" stroke="#111" stroke-width="0.9"/>
<line y1="1049.7" y2="1055.3" x1="803.1" x2="803.1" stroke="#111" stroke-width="0.9"/>
<text x="803.1" y="1066" class="r" font-size="10" fill="#111" text-anchor="middle" >0.06</text>
<line y1="1049.7" y2="1055.3" x1="836.6" x2="836.6" stroke="#111" stroke-width="0.9"/>
<text x="836.6" y="1066" class="r" font-size="10" fill="#111" text-anchor="middle" >0.08</text>
<line y1="1049.7" y2="1055.3" x1="870.1" x2="870.1" stroke="#111" stroke-width="0.9"/>
<text x="870.1" y="1066" class="r" font-size="10" fill="#111" text-anchor="middle" >0.10</text>
<line y1="1049.7" y2="1055.3" x1="903.6" x2="903.6" stroke="#111" stroke-width="0.9"/>
<text x="903.6" y="1066" class="r" font-size="10" fill="#111" text-anchor="middle" >0.12</text>
<line y1="1049.7" y2="1055.3" x1="937.1" x2="937.1" stroke="#111" stroke-width="0.9"/>
<text x="937.1" y="1066" class="r" font-size="10" fill="#111" text-anchor="middle" >0.14</text>
<line y1="1049.7" y2="1055.3" x1="970.6" x2="970.6" stroke="#111" stroke-width="0.9"/>
<text x="970.6" y="1066" class="r" font-size="10" fill="#111" text-anchor="middle" >0.16</text>
<text x="885" y="1080.4" class="r" font-size="11.5" fill="#111" text-anchor="middle" >GenRatio</text>
<circle cx="963.2" cy="766.8" r="10.1" fill="#c9536b"/>
<circle cx="925.9" cy="796.7" r="8.2" fill="#b2102f"/>
<circle cx="888.7" cy="826.3" r="6.7" fill="#b2102f"/>
<circle cx="851.5" cy="856.2" r="5.4" fill="#b2102f"/>
<circle cx="814.3" cy="886.1" r="4.0" fill="#d9402e"/>
<circle cx="851.5" cy="915.7" r="5.4" fill="#c9252d"/>
<circle cx="814.3" cy="945.4" r="4.0" fill="#f08c4f"/>
<circle cx="814.3" cy="975.3" r="4.0" fill="#a8122e"/>
<circle cx="851.5" cy="1005.2" r="5.4" fill="#3e5fb8"/>
<circle cx="814.3" cy="1034.8" r="4.0" fill="#2e3f96"/>
<rect x="794.3" y="752.0" width="188" height="297.7" fill="none" stroke="#111" stroke-width="1"/>
<text x="991.9" y="774.9" class="r" font-size="11.7" fill="#111" >Count</text>
<circle cx="1001.7" cy="784.9" r="4.0" fill="#4d4d4d"/>
<circle cx="1001.7" cy="805" r="5.5" fill="#4d4d4d"/>
<circle cx="1001.7" cy="825.1" r="6.65" fill="#4d4d4d"/>
<circle cx="1001.7" cy="844.9" r="7.8" fill="#4d4d4d"/>
<circle cx="1001.7" cy="865.6" r="9.2" fill="#4d4d4d"/>
<circle cx="1001.7" cy="885.4" r="10.6" fill="#4d4d4d"/>
<path d="M1016.8 784.9H1012.3V884.8H1016.8M1012.3 809.8H1016.8M1012.3 835.2H1016.8M1012.3 859.7H1016.8" fill="none" stroke="#111" stroke-width="0.9"/>
<text x="1020.6" y="788.2" class="r" font-size="10" fill="#111" >3</text>
<text x="1020.6" y="813.1" class="r" font-size="10" fill="#111" >4</text>
<text x="1020.6" y="838.5" class="r" font-size="10" fill="#111" >5</text>
<text x="1020.6" y="863" class="r" font-size="10" fill="#111" >6</text>
<text x="1020.6" y="888.1" class="r" font-size="10" fill="#111" >7</text>
<text x="991.9" y="925.6" class="r" font-size="11.7" fill="#111" >P-Value</text>
<defs><linearGradient id="gH" x1="0" x2="0" y1="0" y2="1"><stop offset="0%" stop-color="#a50026"/><stop offset="10%" stop-color="#d73027"/><stop offset="20%" stop-color="#f46d43"/><stop offset="30%" stop-color="#fdae61"/><stop offset="40%" stop-color="#fee090"/><stop offset="50%" stop-color="#ffffbf"/><stop offset="60%" stop-color="#e0f3f8"/><stop offset="70%" stop-color="#abd9e9"/><stop offset="80%" stop-color="#74add1"/><stop offset="90%" stop-color="#4575b4"/><stop offset="100%" stop-color="#313695"/></linearGradient></defs>
<rect x="991.9" y="932.7" width="19.8" height="103.8" fill="url(#gH)"/>
<path d="M1016.8 932.7H1012.3V1036.5H1016.8M1012.3 958.1H1016.8M1012.3 983.3H1016.8M1012.3 1008.4H1016.8M1012.3 1033.5H1016.8" fill="none" stroke="#111" stroke-width="0.9"/>
<text x="1020.6" y="961.4" class="r" font-size="10" fill="#111" >0.0005</text>
<text x="1020.6" y="986.6" class="r" font-size="10" fill="#111" >0.0010</text>
<text x="1020.6" y="1011.7" class="r" font-size="10" fill="#111" >0.0015</text>
<text x="1020.6" y="1036.8" class="r" font-size="10" fill="#111" >0.0020</text>
<text x="13.2" y="18.2" class="r" font-size="25" fill="#000" font-weight="bold" >A</text>
<text x="325.6" y="18.2" class="r" font-size="25" fill="#000" font-weight="bold" >B</text>
<text x="727" y="18.4" class="r" font-size="25" fill="#000" font-weight="bold" >C</text>
<text x="2.4" y="336.7" class="r" font-size="25" fill="#000" font-weight="bold" >D</text>
<text x="274" y="375.5" class="r" font-size="25" fill="#000" font-weight="bold" >E</text>
<text x="636.6" y="340.8" class="r" font-size="25" fill="#000" font-weight="bold" >F</text>
<text x="0.6" y="697.6" class="r" font-size="25" fill="#000" font-weight="bold" >G</text>
<text x="585" y="697.8" class="r" font-size="25" fill="#000" font-weight="bold" >H</text>
</svg>
</body></html>
